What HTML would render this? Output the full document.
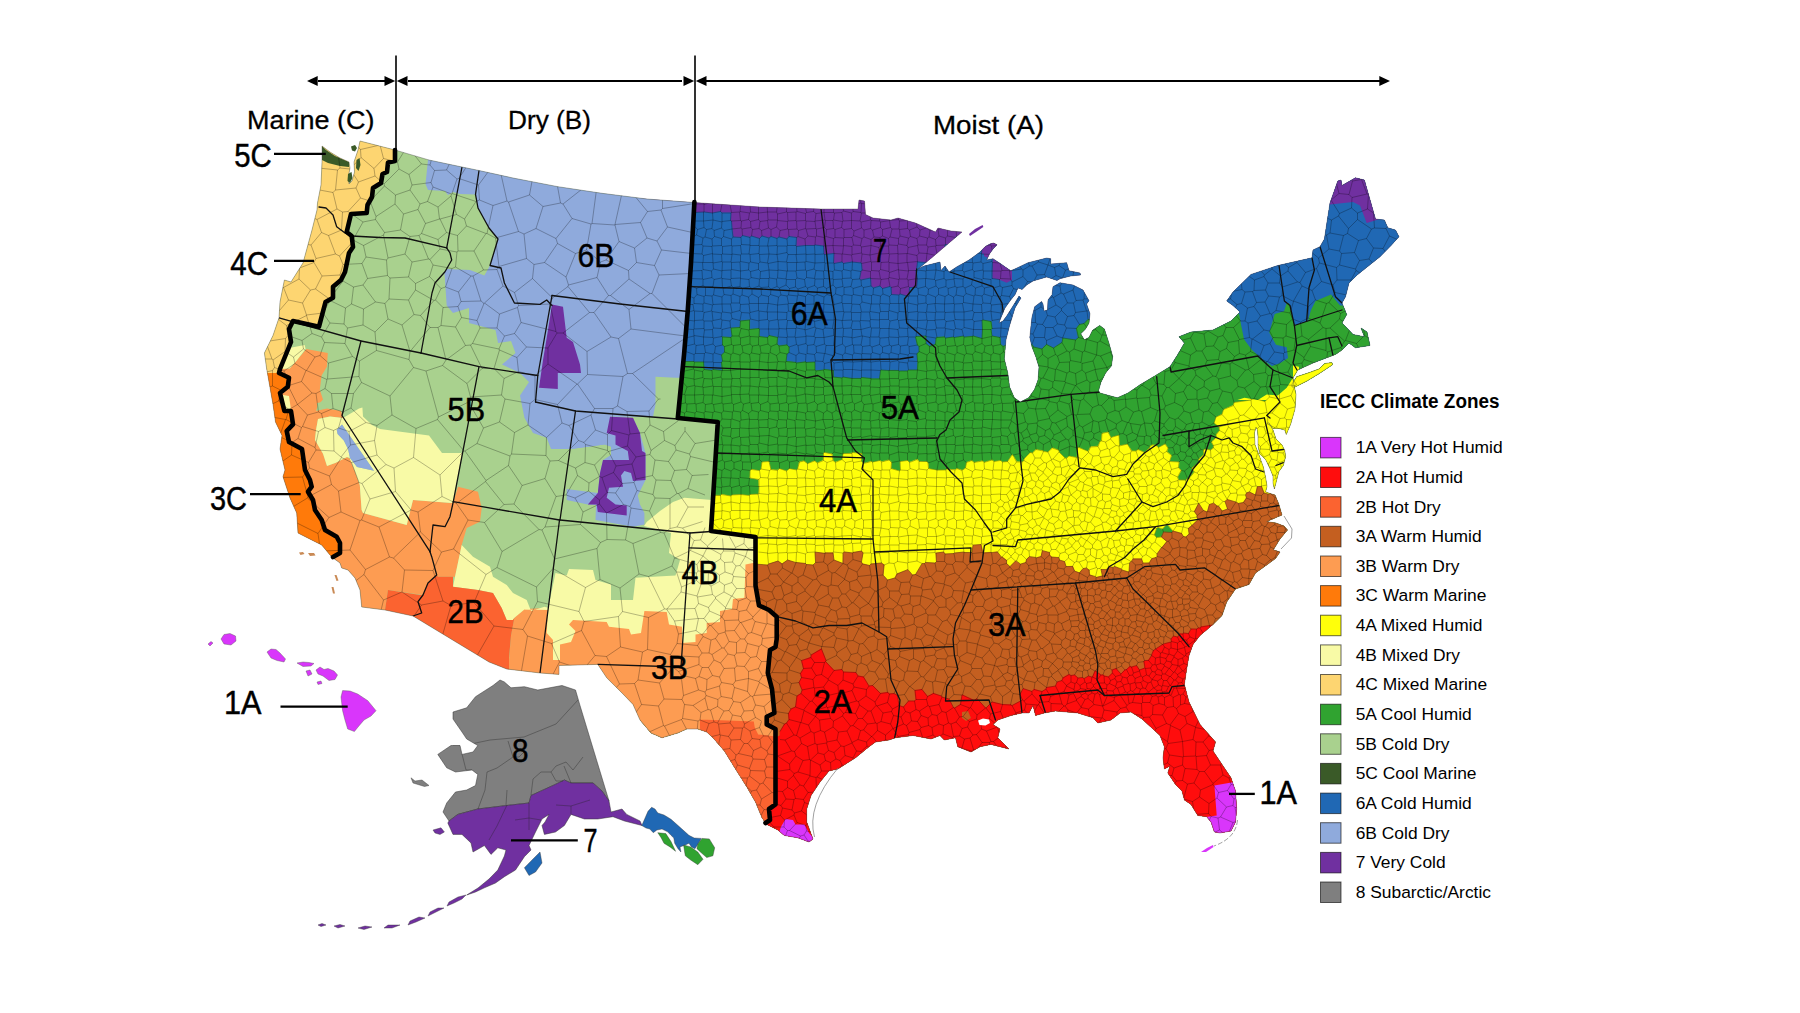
<!DOCTYPE html><html><head><meta charset="utf-8"><title>IECC Climate Zones</title>
<style>html,body{margin:0;padding:0;background:#fff}svg{display:block}text{font-family:"Liberation Sans",sans-serif;fill:#000}</style></head><body>
<svg width="1800" height="1013" viewBox="0 0 1800 1013">
<rect width="1800" height="1013" fill="#fff"/>
<defs><clipPath id="us"><path d="M360 141L395 150L429 160L462 167L479 170.5L513 178L558 186.7L602 193.3L647 199L694 202.5L760 207L821 209L858 209L859 200L864.5 201L865.5 214.5L873 218L891 220L898 218L915.5 223L935.5 232L938 228L951 231L962 232L949 243L933 256.7L918 269L924 266L934 263.5L940 262L941 270.5L945 266L949 272L957 266.7L969 260L980 252L985 246.7L990 244L993.5 243L997 244.7L993 249L989 254.7L986.7 260L993 258.7L1001 264L1010.7 270.7L1017 268L1028 262.7L1046.7 258L1050.7 258.7L1050.7 264L1066.7 262.7L1069 270.7L1080 273L1080.7 275L1070.7 276L1060 278.7L1057 280.5L1046.7 277L1033 281L1026.7 285L1022 289.5L1018 288L1015 294.7L1010.7 300L1005 308L1000 320L999 323L1003 321L1006.7 316L1013 306L1019 296L1021 298L1015 308L1009.6 325.5L1006 339.8L1004.3 358.7L1007.8 373L1009.6 387L1014.4 397.8L1020.3 402L1028.6 397.8L1034.5 389.5L1038 380L1039 367L1035.7 356.4L1032 346.9L1029.8 337.4L1031 325.5L1032 317L1034.7 306.7L1041.6 301.5L1043 304L1044 311L1047.5 310L1048 300L1052 294.7L1053 286.7L1060 282.7L1073 285L1083 290L1089 300.7L1086.6 304L1090 313.7L1089 323L1085.5 329L1080.7 333.8L1084.3 339.8L1089 337.4L1092.6 330.3L1099.7 325.5L1104.4 329L1109 343.3L1112.7 356.4L1111.5 365.8L1105.6 373L1100.9 382.4L1098.5 390.7L1100 393L1109 395.5L1117.4 397.8L1128 393L1140 384.8L1155.5 375.5L1170 366.7L1177.8 354.4L1184.4 343L1179 336.7L1191 332L1213 330L1231 321L1240 312L1233 305.5L1226.7 301L1233 292L1251 274.4L1277.8 265.5L1312 257.8L1313 250L1320 246.7L1324.4 239L1327.8 216.7L1330 203L1337.8 181L1341 180L1342 185.5L1355.5 177.8L1364.4 180L1375.5 219L1384.4 220L1387.8 227.8L1395.5 230L1399 236.7L1391 245.5L1380 256.7L1369 265.5L1357.8 274.4L1349 283L1345.5 296.7L1342 303L1346.7 314.4L1342 323L1346.7 327.8L1353 334.4L1364.4 336.7L1361 328L1367 332L1370 345.5L1355.5 347.8L1349 343L1342 350L1335.5 354.4L1313 363L1297.8 370L1293 377.8L1293.7 384L1296 394.4L1295 409L1290.7 424L1286.3 434.4L1284.8 430L1279 428.5L1273 428.5L1268.5 422.6L1273 430L1276 439L1281.9 444.8L1284.8 450.7L1285.6 456.7L1283.3 465.6L1278.9 471.5L1275.9 483L1274.4 489L1273 483L1273 476L1270 468.5L1265.6 459.6L1259.6 453.7L1258 444.8L1258 436L1257.4 430L1256 427L1254.4 433L1255 444.8L1259.6 456.7L1263.3 467L1265.6 477.4L1267 486.3L1265.6 492L1270 493.5L1275 495L1278.8 504L1282 515L1275 518L1266.8 521.6L1276 523L1284 526L1287.5 530L1280 539L1273.4 549.8L1280 552L1275.5 558.5L1266.7 565L1255.5 573L1249 584.4L1235.5 589L1226.7 602L1222 615.5L1213 624.4L1200 635.5L1193 644.4L1189 655.5L1186.7 669L1184.4 684.4L1189 702L1200 724.4L1215.5 742L1213 751L1222 764.4L1231 777.8L1235.5 791L1236.7 809L1235.5 822L1231 831L1220 833L1214.4 832L1211 822L1206.7 816.7L1197.8 815.5L1191 804.4L1184.4 800L1182 791L1175.5 784.4L1171 777.8L1167.8 773L1170 766L1164.4 769L1163 757.8L1164.4 746.7L1160 735.5L1153 729L1142 719L1131 712L1120 713L1111 720L1097.8 723L1093 717.8L1077.8 713L1055.5 711L1044.4 713L1035.5 715.5L1033 705.5L1029 713L1022 713L1011 715.5L997.8 720L993 724.4L1000 729L997.8 737.8L1009 749L991 744.4L980 746.7L971 752L957.8 746.7L955.5 737.8L944.4 740L940 735.5L931 739L913 735.5L895.5 737.8L889 740L875.5 742L869 746.7L855.5 757.8L837.8 769L829 771L820 782L811 795.5L806.7 809L806.7 822L813 839L809 842L797.8 837.8L784.4 835.5L777.8 830L766.7 824.4L762 817.8L755.5 802L746.7 786.7L735.5 769L724.4 751L713 737.8L706.7 732L697.8 729L686.7 729L677.8 733L662 737.8L651 733L640 720L633 704.4L622 693L606.7 677.8L597.8 664.4L559 665.5L559 674.4L540 673L506.7 669L489 662L413 616L385 610L361.7 607L360 590L355 578L348 570L341.7 568L340 563L333 558L330 555L321.7 545L311.7 540L298 533L296.7 513L290 498L283 476.7L285 470L280 449L282 435.5L275.5 422L273 404.4L266.7 369L264.4 353L273 335.5L279 317.8L280 302L284.4 280L291 282L303 263L312 230L317 210L317.5 203L321 185L322 162L322 146L330 152L340 158L349 162L350 168L348.5 176L349 184L352 181L354.5 172L354 162L358 150Z M1292 384L1296.7 376.7L1308 373L1319 369L1324.8 363.5L1332 362.6L1332.5 364.8L1319 373.7L1307 381L1295 387L1292 387Z"/></clipPath>
<clipPath id="west"><path d="M694.4 202L691 263L687.8 310L684 355L677.8 418L717.8 422L711 531L755.5 537L755.5 585.5L759 605.5L769 610L776.7 616.7L776.7 639L775.5 647L770 650L767.8 673L772 689L774.4 713L766.7 716.7L766.7 724.4L775.5 729L775.5 804.4L769 809L770 820L765.5 823L765 1000L150 1000L150 100L694.4 100Z"/></clipPath>
</defs>
<g clip-path="url(#us)">
<rect x="640" y="100" width="820" height="900" fill="#7030a0"/>
<path d="M640 213L696.7 213L733 215.5L733 234L760 237.8L796.7 239L796.7 244.4L825.5 244.4L831 260L857.8 260L860 279L875.5 283L889 285.5L897.8 296.7L904.4 296.7L906.7 287.8L915.5 283L916.7 269L922 266L933 258L949 245L963 233.5L972 228L985 236L985 150L1450 150L1450 1000L640 1000Z" fill="#2068b4" />
<path d="M640 365.5L684.4 365.5L722 366.7L722 349L729 330L746.7 323L760 336.7L771 337.8L789 352L790 357.8L814.4 359L816.7 369L831 369L833 374.4L902 374.4L904.4 366.7L913 365.5L914.4 350L920 349L920 339L933 344L953 336.5L985 334.7L985.3 324.4L995.4 324.4L999 342L1000 348L1006 346.9L1031 345.7L1032 348L1041.6 354L1050 351.6L1051 348L1067.7 345.7L1072.4 337.4L1078.3 332.7L1081 334L1084 326L1090 321L1150 290L1225 290L1225 318L1239 313L1241.3 326L1244 339.3L1252 350L1264 360.7L1272 366L1280 363.3L1288 358L1286.7 347.3L1276 344.7L1269.3 332.7L1274.7 314L1284 311.3L1286.7 303.3L1289 303L1294.4 325.5L1307.8 321L1311 310L1315.5 301L1331 294.4L1340 305.5L1450 305L1450 1000L640 1000Z" fill="#30a330" />
<path d="M640 499L716.7 499L742 499L743 491L754.4 490L755.5 466.7L813 465.5L815.5 457.8L864.4 456.7L866 463L886.7 462L895.5 467.8L900 464.4L933 464.4L937.8 473L953 472L955.5 467.8L977.8 465.5L984.4 457.8L991 463L1006.7 459L1020 460L1020 455.5L1033 455L1033 449L1057.8 449L1060 453L1077.8 453L1089 449L1093 444.4L1104.4 444L1104.4 435.5L1115.5 434.4L1117.8 444.4L1133 446.7L1142 451L1151 446.7L1160 443L1166.7 449L1173 460L1177.8 473L1180 481L1189 482L1193 469L1204.4 455.5L1213 437.8L1216.7 429L1220 413L1231 402L1244.4 397.8L1257.8 400L1266.7 394.4L1277.8 395.5L1286.7 387.8L1293 377.8L1293 365.5L1299 366.7L1299 374L1313 368L1335 358L1450 358L1450 1000L640 1000Z" fill="#ffff0a" />
<path d="M640 561L756.7 561L762 567.8L771 561L811 560L813 551L826.7 551L833 559L844.4 559L849 551L864.4 551L866.7 561L873 561L877.8 571L917.8 571L924.4 566.7L935.5 565.5L940 556.7L962 554.4L971 545.5L982 547.8L984.4 554.4L1002 556.7L1006.7 563L1022 563L1029 559L1037.8 556.7L1044.4 546.7L1051 554.4L1060 556.7L1069 567.8L1077.8 572L1084.4 569L1089 577.7L1102 576.7L1106.7 569L1124.4 571L1137.8 562L1146.7 560L1151 553L1162 553L1164.4 544.4L1164.4 533L1173 531L1177.8 535.5L1189 529L1197.8 517.8L1197.8 509L1209 504.4L1222 509L1231 502L1244.4 504.4L1251 493L1264.4 491L1275 490L1300 488L1450 488L1450 1000L640 1000Z" fill="#c45f20" />
<path d="M640 737L776 737L779 736L790 725.6L798 706L794 693L800 686.7L800 675.5L806.7 671L809 651L829 650L831 666.7L842 675.5L864.4 673L865.5 689L875.5 693L886.7 700L899 700L900 706.7L915.5 705.5L916.7 693L929 691L937.8 695.5L944.4 702L989 701L993 706.7L995.5 700L1020 699L1022 693L1037.8 691L1060 686.7L1062 680L1089 673L1102 675.5L1120 671L1122 665.5L1133 669L1144.4 666.7L1146.7 660L1155.5 655.5L1155.5 646.7L1169 644.4L1175.5 637.8L1182 635.5L1184.4 631L1195.5 631L1210 628L1450 628L1450 1000L640 1000Z" fill="#ff0d0d" />
<path d="M1154 527L1171 528.5L1169 533L1158 535L1154 540L1150 538Z" fill="#30a330" />
<path d="M1141 545L1147 543L1148 549L1143 551Z" fill="#30a330" />
<path d="M962 712L968 711L971 718L966 721L962 718Z" fill="#c45f20" />
<path d="M1214.4 785.5L1245 780L1245 845L1200 845L1206 817L1216.7 815.5Z" fill="#d936fb" />
<path d="M781 826.7L785.5 819L793 820L795.5 824.4L804.4 824.4L809 833L820 845L775 845Z" fill="#d936fb" />
<path d="M992.7 258.7L1001 264L1012 270.7L1012 280L1006.7 282.7L993.3 277.3Z" fill="#7030a0" />
<path d="M984 248L986 244L992 240L1000 242L997 247L990.7 251L988 258L984 256Z" fill="#7030a0" />
<path d="M1320 204.4L1330 204.4L1353 202L1360 205.5L1366.7 223L1380 219L1380 170L1320 170Z" fill="#7030a0" />
<path d="M1334 179.7L1326.8 200.1L1330.8 200.1L1339 193.3L1348.8 194.6L1351.8 197.6L1351.7 207.8L1357.5 213.1L1357.7 219.6L1371.7 229.2L1374.4 227.8L1373.4 212.8L1382.8 208L1378.4 192.5L1372.5 193.8L1368.3 178.9L1367.6 177.5L1366.7 176.7L1365.7 176.2L1355.7 173.8L1353.9 174.1L1348.6 177.1L1341.3 170L1340.3 170L1338 170.5L1333.3 172.1L1334.9 178.2ZM1010.4 279.2L1009.7 270.8L1009.5 270.6L1001.8 270.4L1000 262.8L992.5 262.4L992.2 271L992.1 271.2L992.2 278.5L999.3 279.6L1000.3 278.6ZM1000.9 243.8L1000.5 242.7L999.4 241.5L995.3 239.4L993.6 239L991.6 239.4L990.7 245.1L982 246L981.5 253.7L981.6 254L991.6 254.7L992.4 253.6L991.6 246.2L1000.9 245.5ZM742.6 201.8L721.4 200.4L721.1 194.3L712.1 193.7L711.5 199.7L703 199.1L701.7 193L694.4 192.5L694.4 204L693.8 212.6L703.6 212.2L703.9 211.9L712.5 213.2L712.7 213L720.5 211.4L721.9 212.8L731 212.8L730.4 220.3L731.3 221.2L733.2 237L740.8 237.4L742.4 235.6L750.2 237.3L751.6 236.2L759.4 238.7L762 235.9L768.9 237.8L771.2 236.6L776.8 238.3L778.9 237L786.8 238.9L788.9 236.3L796.6 237.5L796.1 245.7L796.7 246.3L805.5 245.6L805.7 245.4L814.4 245.4L814.8 245L823.7 246L823.8 253.9L824.6 254.7L833.8 253.4L833.5 263.2L833.9 263.6L842.1 262L843.5 263.3L852.3 261.8L852.7 262.2L860.8 262.8L861.5 263.5L862.2 269.9L860.7 271.3L859.7 278.9L860.8 280L870.4 278L870.7 278.4L871 285.9L873.4 287.8L879.8 286L882.7 288.7L890 286.5L891.1 287.3L891.5 294.6L899 294.9L900 293.9L908.5 296.6L909 296L909.7 287.5L916.7 287.5L917.6 278.9L917.3 278.6L915.8 270.6L916.6 269.8L917.5 261.8L926.1 262.5L935.7 262.2L935.9 262L935.9 255.6L937 254.2L945.3 253.8L944.9 245.1L945.4 244.5L953.7 245.5L955.3 237.5L956.7 236.6L961.4 237.8L965.1 234.5L965.7 233.5L966 232.3L965.9 231.2L965.5 230.1L964.8 229.1L963.9 228.4L962.4 228L956.2 227.4L955.9 221.4L951.3 220.8L947.5 226.1L938.1 224L936.6 224.2L935.2 225.2L934.7 218.6L932.5 219.7L921.6 214.8L918 219.7L907.8 216.6L908.1 210.5L899.6 208.1L896.4 208.1L890.1 209.8L875.7 208.2L875 207.9L874.8 204.6L868.8 204.1L868.4 199.9L867.9 198.8L867 197.9L865.6 197.1L859.7 196.1L858.6 196L857.4 196.3L856.5 196.9L855.7 197.8L855.1 199.2L854.3 205L852.5 205L846.9 199L821.2 199L815.1 198.8L814.3 204.8L805.1 204.5L804.1 198.4L760.5 197L747.5 196.1Z" fill="#7030a0" stroke="#7030a0" stroke-width="0.6" fill-rule="evenodd"/>
<path d="M1225.4 285.5L1218.5 295.3L1217.3 297.6L1216.7 300.1L1216.8 302L1217.3 304.3L1218.4 306.6L1220.3 308.7L1225.5 312.4L1223.5 313.6L1233.1 312L1240.3 321.2L1245.1 321.1L1248.1 323.2L1249.3 337.5L1251.8 339.1L1250.5 351.7L1260 356.3L1261.3 359.1L1266.5 361.7L1267.3 361.5L1277.1 365.3L1284.2 358.8L1283.5 353.7L1284.6 352.3L1283 338.2L1273 337.7L1269.6 330.9L1274.1 322.6L1271.4 314L1276.2 310.6L1290.1 313.1L1292.3 319.2L1300.7 321.8L1307.9 317.9L1308.4 306.3L1315.3 300.1L1326.4 303.4L1329 302.6L1340.3 313.3L1354.1 306L1353.1 303.6L1355 299.8L1358 288.2L1364.4 281.9L1386.2 264.5L1391 259.8L1387.5 254.8L1394 248.2L1402.2 239.1L1402.9 237.6L1402.9 235.6L1399.1 228.1L1398.3 227.2L1397 226.3L1390.7 224.5L1390.2 223.2L1394.3 217.6L1392.5 214.1L1391.2 212.7L1389.7 211.5L1387.1 210.4L1383.3 209.8L1382.8 208L1373.4 212.8L1374.3 227.8L1371.7 229.2L1357.7 219.6L1357.6 213.1L1351.7 207.8L1351.8 197.6L1348.8 194.6L1339 193.3L1330.8 200.1L1320.5 200L1314.8 235.7L1312.9 239L1307.6 241.6L1305.3 243.6L1303.6 246.5L1303 249.6L1273.9 256.2L1273 262.9L1258.4 267.7L1254.2 262.8L1246.8 265.3L1244.5 266.8L1239.7 271.4L1240.6 278.9L1229.9 289.5ZM691 262.1L687.6 312.3L683.3 361.5L694 361.6L694.4 362.1L703.5 361.9L704.2 369.6L712 370.4L712.8 369.5L722.3 370.6L721.4 362.5L722.6 361.2L721.5 354.9L724.6 352.2L724.3 346.5L722.5 345L722.3 336.8L730.8 337.5L732.1 336L731 328.2L740.2 327.4L740.5 321L749.7 320L749.5 329.3L758.9 328.4L759.3 328.9L759.2 336.3L767.5 337.6L769.1 335.6L777.7 337.4L777 344.2L779.2 345.8L786.8 344.9L789.2 347.1L788.8 352.4L786.8 354.2L786.1 361.3L795.9 362.3L796.4 363L805.3 361.8L805.9 362.4L814.7 362.2L815 370L815.8 370.8L823.4 370.1L824.1 369.3L833.3 370.6L833.5 377.2L842.2 377.9L842.9 377.2L851.9 378.4L861 378.4L861.7 377.6L870.9 378.4L871.2 378.8L879.6 378.8L880.8 370.2L889.2 370.7L889.7 370.3L898.3 370.5L898.9 371.1L907.7 371L908.3 370.2L917.3 370L917.9 361.9L917.2 353.8L919.1 351.5L919 346.4L917.4 345.1L915.6 337L916 336.6L926.1 336.2L925.8 343.7L929.5 346.3L935.4 344.3L936.2 337.9L936.8 337.3L944.3 336.8L945.6 338.2L953.5 337.1L954.2 337.8L963.3 336.3L964.2 337.2L972.4 336.3L972.8 335.9L982 338.5L982.2 338.3L982.5 329.3L982.2 320.7L982.8 320.1L991.2 321.5L992.1 328.3L991.2 329.6L991.8 336.1L1000.2 337.5L1000.6 344.3L1003.2 346.3L1016 341L1019.2 328.2L1021.5 321L1019.8 337.2L1020 339.3L1020.9 343.1L1032.1 344.6L1033.7 346.9L1041.8 349L1046.5 344.4L1053.4 348L1062.2 342.4L1062.8 338.2L1075.7 339.9L1078.4 337.6L1076.3 328.5L1079.3 324.5L1084.1 323.7L1088.1 319.4L1096.8 321L1105 317L1102.5 315.9L1099.9 315.5L1100 313.3L1099.8 311.5L1097.7 305.6L1098.5 303.8L1098.9 301.9L1098.9 299.7L1098.6 297.8L1097.7 295.8L1091.4 284.5L1090.1 283L1088.3 281.5L1089.6 279.5L1083.7 278.7L1083.4 277.9L1084.4 276.4L1084.7 274.5L1083.6 271.3L1082.3 269.7L1080.8 269.1L1072.2 267.3L1070.5 261.5L1072.2 254.3L1070 253.3L1067.6 252.7L1059.1 253.3L1057.9 251.8L1056.4 250.5L1054.6 249.5L1053.1 249L1051.2 254.7L1046.1 254L1038.1 256L1037.8 249.9L1024.3 253.4L1011.8 259.3L1002.8 253.2L1004.8 251L1005.8 249.4L1006.6 247.5L1007 245.1L991.5 246.2L992.4 253.6L991.6 254.7L981.6 253.9L981.5 253.7L982 246L990.7 245.1L992.6 233L986.5 234.6L979.6 238.3L978 239.6L973.4 244.5L963.6 251.6L951.5 258.4L950.1 257.4L948.5 256.6L968.6 239.5L956.7 236.6L955.3 237.5L953.7 245.4L945.4 244.5L944.9 245.1L945.3 253.8L937 254.2L935.9 255.6L935.7 262.2L926.1 262.5L917.5 261.8L916.6 269.8L915.8 270.6L917.3 278.6L917.5 278.9L916.7 287.4L909.6 287.5L909 296L908.5 296.6L900 293.9L899 294.9L891.5 294.5L891.1 287.3L890 286.5L882.7 288.7L879.8 286L873.4 287.8L871.1 285.9L870.7 278.4L870.4 278L860.8 279.9L859.7 278.9L860.8 271.4L862.2 269.9L861.5 263.5L860.9 262.7L852.7 262.2L852.3 261.8L843.5 263.3L842.1 261.9L833.9 263.5L833.5 263.2L833.8 253.4L824.6 254.6L823.9 253.9L823.7 245.9L814.8 245L814.4 245.4L805.7 245.4L805.5 245.6L796.7 246.3L796.1 245.7L796.6 237.5L788.9 236.3L786.7 238.9L778.9 236.9L776.8 238.3L771.2 236.5L768.9 237.8L762 235.9L759.4 238.6L751.6 236.1L750.2 237.2L742.4 235.6L740.8 237.4L733.2 236.9L731.3 221.2L730.5 220.3L731 212.8L721.9 212.8L720.5 211.4L712.7 213L712.5 213.2L703.9 211.9L703.6 212.2L693.8 212.6ZM992.2 271L992.5 262.4L1000 262.8L1001.8 270.4L1009.5 270.6L1009.7 270.8L1010.4 279.2L1000.3 278.5L999.3 279.6L992.2 278.5L992.1 271.2ZM1030.9 297L1030.6 295.1L1032.9 292.9L1037.2 290.2L1042.7 288.6L1042.4 290.8L1041.9 291.5L1039.9 291.7L1037.6 292.4L1035.8 293.3Z" fill="#2068b4" stroke="#2068b4" stroke-width="0.6" fill-rule="evenodd"/>
<path d="M721.5 354.9L722.6 361.2L721.4 362.5L722.2 370.7L712.8 369.5L712 370.4L704.3 369.6L703.5 361.9L694.4 362L694 361.6L683.4 361.5L677.2 424L680.6 424.3L684.3 418.7L703.2 420.5L704.4 418.6L712.1 419L713.9 421.6L720.2 422.3L721 424.8L717.4 427.6L717.1 433.3L721.7 434.9L721.9 435.5L721.6 436.3L716.8 438.6L713.2 495.4L720.5 495.5L721.6 494.3L731.1 496.1L732 495L741 494.7L749.3 495.5L750.2 494.6L758.2 494.2L758.9 493.4L759.1 486.6L759 486.3L758.8 479.5L750 477.9L750.2 470.7L751.5 469.3L759.4 470.7L761.1 469L762 462.1L768.9 461.4L770.8 469.4L777.3 470.3L779.5 468.7L786.7 471L789.5 468.7L796.6 470L797.7 469L799.3 461.9L804 460.9L807.5 463.7L814.5 460.8L817.3 463L823.3 460.3L823.5 453.3L824.3 452.6L832.2 454L833.2 460.7L835.3 462.3L842.2 459.7L843.2 453.7L851.8 453.3L852.4 452.5L861.9 453.6L861.3 461.2L863.5 463.4L871.4 461.3L872.7 462.2L880 460.6L881.7 461.8L889.2 459.9L891.4 462.3L891 468.6L899.5 471.1L900.6 470.2L900.1 461.7L907.4 460.6L909.5 462.4L917.2 459.3L919.2 461.6L927 461.7L928.2 463.1L928.3 468.5L936.8 470.2L945.8 470.1L946.6 469L955.1 469.8L956.8 468.5L962.2 470.3L965.6 468L966.6 462.3L971.8 460.5L974.1 462.4L982.5 460.8L983.9 462.4L992.1 459.9L994.2 461.5L1000.6 460.4L1002.4 462.1L1007.5 461.7L1012 454.8L1012.9 455.1L1016.7 461.8L1022.2 462L1024 460.7L1024.1 459L1030.2 452.6L1032.3 453.1L1036 449.5L1043.1 450.8L1043.4 451.3L1047.8 452.2L1052.3 447.8L1058.2 449.9L1059 450.9L1059 452.1L1065 458.1L1066.3 458.4L1069.1 456.1L1076.3 457.4L1077.3 457L1077.5 448L1079 447.4L1088.3 451.6L1090.5 446.8L1098.1 446.3L1099.9 441.6L1101.4 440.8L1102 433.3L1108.2 432L1110.8 437.5L1118.9 435.2L1119.4 445.8L1127.4 444.2L1131.7 451L1136.1 451L1138.2 449.6L1144.6 452.4L1149.5 448.1L1150 446.3L1152.1 444.8L1155.7 445.3L1158.6 447.7L1165.2 443.9L1168 448.2L1166.7 451.6L1171.7 455.4L1169.4 461.4L1179 462.2L1178.6 467.4L1181.2 470.6L1177.7 476.9L1178.6 480.1L1185.7 480.2L1187.5 478.5L1189.1 478.3L1194.3 471.9L1191.7 468.2L1199.6 462.3L1198.7 460.1L1198.9 458.8L1203.9 454.6L1203.4 450.2L1204.9 449.1L1210.5 450.2L1213.3 448L1213.6 445.5L1211.4 442L1216.7 437.2L1216.1 434.8L1219.6 430.6L1219.2 427L1214.2 423.1L1216.2 417.1L1222 414.3L1223.7 409.5L1233.4 405.3L1234.3 402.5L1251.2 400.2L1251.5 399.7L1254.2 398.6L1265 401.7L1269.4 397.1L1279.3 398.8L1279.3 385.7L1280.3 384.6L1294.8 385.6L1296.5 384.5L1287.9 371.8L1291.2 364.8L1301.8 363L1303.9 359.7L1326.2 366.3L1327.6 352.1L1341.1 347.4L1347.2 358.5L1350 356.1L1351.5 357L1353.4 357.6L1355.4 357.8L1357.1 357.7L1362.8 356.8L1360.2 351.1L1371.4 349.3L1372.7 348.5L1373.4 347.6L1373.9 346.5L1374 345.4L1370.9 331.1L1370.5 330.1L1369.5 328.9L1363.3 324.7L1363 322.9L1365.5 319.1L1363.3 318.3L1360.4 318L1357.5 318.6L1355.1 320L1356.3 317.1L1356.7 313.8L1356.2 311.2L1354.1 306L1340.3 313.3L1329.1 302.6L1326.4 303.4L1315.3 300.1L1308.4 306.3L1307.9 317.9L1300.7 321.8L1292.3 319.2L1290.2 313.1L1276.2 310.6L1271.4 313.9L1274.1 322.6L1269.6 330.9L1272.9 337.7L1283 338.2L1284.6 352.3L1283.5 353.7L1284.2 358.8L1277.1 365.3L1267.3 361.5L1266.5 361.7L1261.3 359L1260 356.2L1250.5 351.7L1251.8 339.1L1249.3 337.5L1248.1 323.2L1245.1 321.1L1240.3 321.2L1233.1 312L1223.6 313.5L1210.2 320.2L1188.9 322.2L1173.8 328.1L1172.2 329.3L1170.6 331.3L1169.7 333.1L1169.1 335.5L1169.1 338.1L1169.6 340L1170.6 342.2L1172.2 344.1L1169.2 349.2L1162.8 359.4L1134.7 376.3L1123.1 384.3L1116.6 387.2L1110.5 385.5L1114 378.5L1119.4 371.9L1120.8 369.5L1121.4 367.3L1122.6 357.7L1122.6 355L1118.6 340.3L1113.4 324.7L1112.3 322.9L1110.9 321.4L1105 317L1096.8 321L1088.1 319.3L1084.1 323.7L1079.3 324.5L1076.3 328.5L1078.4 337.6L1075.7 339.9L1062.7 338.2L1062.1 342.4L1053.4 348L1046.5 344.4L1041.8 349L1033.7 346.9L1032.1 344.5L1020.8 343.1L1022.5 350.1L1026.3 359.7L1028.9 368.1L1028.1 377.8L1025.6 384.8L1021.9 390L1019.3 384.3L1017.6 371L1014.4 357.9L1016 341L1003.2 346.3L1000.6 344.3L1000.2 337.5L991.8 336.1L991.2 329.6L992.1 328.3L991.2 321.5L982.8 320.1L982.2 320.6L982.5 329.3L982 338.5L972.8 335.9L972.4 336.3L964.2 337.2L963.3 336.2L954.2 337.7L953.5 337.1L945.6 338.2L944.3 336.8L936.8 337.3L936.2 337.9L935.4 344.3L929.5 346.2L925.8 343.7L926.1 336.2L916 336.5L915.5 337L917.3 345.1L919 346.4L919.1 351.5L917.1 353.7L917.8 361.9L917.3 370L908.3 370.1L907.7 371L898.9 371.1L898.3 370.5L889.7 370.3L889.2 370.7L880.8 370.1L879.5 378.8L871.2 378.7L870.9 378.4L861.7 377.6L861 378.4L851.9 378.4L842.9 377.2L842.2 377.9L833.5 377.1L833.3 370.6L824.1 369.3L823.4 370L815.9 370.8L815 370L814.8 362.1L805.9 362.4L805.3 361.7L796.4 363L795.9 362.3L786.1 361.3L786.8 354.2L788.8 352.4L789.2 347.1L786.8 344.8L779.2 345.7L777.1 344.2L777.7 337.3L769.1 335.6L767.5 337.6L759.3 336.3L759.4 328.9L758.9 328.4L749.5 329.3L749.7 320L740.4 320.9L740.1 327.3L730.9 328.1L732.1 336L730.8 337.5L722.3 336.8L722.5 345L724.3 346.5L724.6 352.2ZM1171.9 532.8L1172.9 531L1167 524.1L1162.4 529.1L1158 527.4L1156.6 528.3L1154.3 534.8L1156.4 537.7L1161.4 536.9L1163.7 531.9Z" fill="#30a330" stroke="#30a330" stroke-width="0.6" fill-rule="evenodd"/>
<path d="M769.1 461.6L768.9 461.4L762 462.1L761.1 469L759.4 470.7L751.5 469.3L750.2 470.7L749.9 477.9L758.7 479.5L758.9 486.3L759.1 486.6L758.8 493.4L758.2 494.2L750.2 494.5L749.3 495.5L741 494.6L732 495L731 496.1L721.5 494.3L720.5 495.4L713.2 495.3L711.6 521.7L705 530.2L747.1 535.9L750.9 535.2L752.5 536.6L757.4 537.3L759.2 544L758 546.5L758.7 552.2L755.5 556L755.5 564.2L767.7 565.2L768.6 564L778 561.1L782.1 563.8L787.7 560.1L795.9 562.7L796.2 562.5L805.5 563.6L806.6 564.6L813 565L815.7 562.7L815 552.2L824.8 553.3L825.2 552.8L833.1 552.9L833.9 560.1L842.9 563.5L843.1 553.2L844.2 551.9L852.4 552.9L852.9 552.4L861.5 551.1L863 552.9L861.3 561.9L862.6 563.8L869.3 565.5L871.1 564L881.4 563L884.1 564.8L883.1 575.2L887.5 580.1L895.1 577.9L896.8 573.9L907.8 569.7L912.3 575.1L915.6 574.6L922.1 563.7L924.4 563.5L925.7 562.4L935 563.1L936.4 561.7L935.8 553.1L943.7 552.1L945.2 553.9L954 553.7L954.3 553.1L963.8 552.1L964.1 552.4L971.9 552.7L973.2 545.2L981.1 544.6L982.9 552.8L991.2 552.4L991.5 552.7L997.3 551.8L1001.3 557.2L1002.1 557L1006.7 560.3L1006.6 563.6L1009.9 566.7L1015.6 561.2L1016.3 561.2L1020.4 564.2L1025.8 562.5L1026.6 559.3L1029.3 556.7L1035.3 557.5L1035.8 557.9L1041.1 556.5L1042.3 550.7L1049.6 552.6L1049.7 555L1051.6 557.1L1058.8 557.7L1059.6 560.2L1064.5 561.6L1066 566.7L1072.7 566.4L1074.6 571.2L1079.3 572.8L1083 568.7L1086.2 568L1089.2 570L1089.7 574.8L1095.3 576.7L1095.8 577.5L1102.4 575.8L1101.2 569.4L1106.3 569.7L1109.1 566.7L1113.2 567.4L1114.6 566.4L1121.6 569.2L1121.8 569.9L1128.3 571.9L1129.2 571L1129.7 563.1L1131.1 561.4L1131.6 561.3L1133.1 558.8L1141.5 558.9L1143 563.2L1149.2 562.9L1151.8 558.7L1156.2 557.4L1157.2 556.3L1157.2 553.9L1161.4 547.7L1161.9 547.6L1166.9 541.4L1161.4 536.9L1156.4 537.7L1154.3 534.8L1156.6 528.3L1158 527.4L1162.4 529.1L1167 524.1L1172.9 531L1181.5 533.4L1183.3 536.6L1185.8 536.9L1189.2 533.8L1188.3 528.3L1192.2 525.3L1198.2 519.6L1196.9 517.2L1197 515.3L1194.4 511.4L1198.6 503.7L1198.9 503.8L1203.3 510.5L1207.1 511.8L1207.4 511.7L1209.4 504.5L1213.6 503.2L1217.2 505.9L1218.3 505.9L1222.2 511L1227.7 509L1225.1 501.4L1227.2 499.4L1236.2 502.2L1238.4 503.4L1243.3 502.4L1246.4 497.8L1245.7 495L1246.8 492.8L1249.3 491.9L1255.3 494.9L1257.3 486.7L1261.5 486.3L1264 493L1268.2 494.2L1270.4 493.3L1273.2 488.2L1275.6 488.2L1283.6 493.3L1285 493L1284.2 491.1L1288.1 475.9L1291.7 471L1292.9 468.4L1287.9 463.7L1289.5 457.7L1289.6 456.4L1295.3 453.5L1294.4 448L1292 442.6L1293.8 441L1295.2 438.9L1299.9 427.9L1304.9 410.4L1306 393.8L1303.6 382.4L1303.3 380.1L1304.7 377.8L1316.9 372.2L1339.8 363.4L1347.2 358.5L1341.1 347.4L1327.5 352.1L1326.2 366.3L1303.9 359.7L1301.7 363L1291.2 364.7L1287.8 371.8L1296.4 384.4L1294.8 385.5L1280.3 384.5L1279.3 385.7L1279.3 398.8L1269.4 397.1L1265 401.7L1254.2 398.6L1251.5 399.7L1251.2 400.2L1234.2 402.5L1233.4 405.3L1223.7 409.5L1222 414.3L1216.2 417.1L1214.2 423.1L1219.1 427L1219.6 430.6L1216 434.8L1216.7 437.2L1211.4 442L1213.5 445.5L1213.3 448L1210.5 450.1L1204.9 449.1L1203.4 450.2L1203.9 454.6L1198.9 458.8L1198.6 460.1L1199.6 462.3L1191.7 468.2L1194.3 471.9L1189.1 478.3L1187.5 478.4L1185.7 480.2L1178.6 480.1L1177.7 476.9L1181.2 470.6L1178.6 467.4L1179.1 462.1L1169.4 461.4L1171.7 455.4L1166.8 451.6L1168.1 448.2L1165.2 443.9L1158.6 447.6L1155.8 445.3L1152.1 444.8L1150 446.3L1149.5 448.1L1144.6 452.4L1138.2 449.6L1136.1 451L1131.8 450.9L1127.4 444.2L1119.5 445.8L1118.9 435.2L1110.9 437.5L1108.2 432L1102 433.3L1101.3 440.8L1099.9 441.5L1098.1 446.2L1090.5 446.8L1088.2 451.6L1079 447.4L1077.5 448L1077.3 457L1076.3 457.4L1069.1 456.1L1066.3 458.3L1065 458.1L1059 452.1L1059 450.9L1058.2 449.9L1052.3 447.8L1047.8 452.2L1043.4 451.3L1043.1 450.8L1036 449.5L1032.3 453.1L1030.2 452.6L1024.1 459L1024 460.7L1022.2 461.9L1016.7 461.7L1012.9 455.1L1012 454.8L1007.5 461.7L1002.4 462L1000.6 460.4L994.2 461.5L992.1 459.9L983.9 462.4L982.5 460.8L974.1 462.4L971.8 460.5L966.6 462.3L965.6 467.9L962.2 470.3L956.8 468.5L955.1 469.8L946.6 469L945.8 470.1L936.8 470.2L928.4 468.5L928.2 463.1L927 461.7L919.2 461.5L917.2 459.3L909.5 462.3L907.5 460.6L900.1 461.6L900.5 470.2L899.5 471.1L891 468.5L891.5 462.3L889.2 459.9L881.7 461.7L880 460.6L872.7 462.2L871.4 461.3L863.5 463.4L861.3 461.2L861.9 453.5L852.4 452.4L851.8 453.3L843.2 453.7L842.2 459.6L835.3 462.2L833.2 460.7L832.2 454L824.3 452.6L823.5 453.3L823.3 460.3L817.3 462.9L814.5 460.8L807.5 463.7L804 460.8L799.3 461.9L797.7 469L796.6 470L789.5 468.7L786.7 471L779.5 468.7L777.3 470.2L770.8 469.4Z" fill="#ffff0a" stroke="#ffff0a" stroke-width="0.6" fill-rule="evenodd"/>
<path d="M833.1 552.8L825.2 552.8L824.7 553.2L815 552.2L815.7 562.7L813 565L806.6 564.6L805.5 563.5L796.2 562.5L795.9 562.7L787.7 560.1L782.1 563.8L778 561.1L768.6 564L767.7 565.1L755.5 564.2L755.5 583.8L755.3 584.2L757.5 596.9L754.5 603.5L766.4 608.7L774.1 612.6L775.7 615.9L777.2 617.2L777.5 619L776.7 620.2L776.7 636.4L777.4 636.8L776.2 646.6L766.8 651.7L769.5 654.7L767.6 674.6L768.3 674.9L772.8 692.2L772.3 692.5L773.5 703.9L774.9 704.6L775.4 711.7L773.4 714.3L768.8 714.2L766.7 714.7L766.7 725.8L769.2 726.6L770.1 726.2L780 731.4L784.5 724L786.6 723.1L788.9 719.6L788.4 713.7L791 708.8L795.5 706.9L797 695.9L801 693.5L802.2 690.2L799.1 682.5L801.5 677.5L800.3 673.6L803.4 668.7L801.4 660.8L810.9 657.3L811.2 655.1L821.3 648.8L826 660.4L825.5 661.6L834.2 670.4L841.9 669.6L843.3 671.9L855.9 672.6L858.1 675.9L863.3 676.8L869 686.2L872.6 685.4L880.5 693.3L887.6 692.4L889.7 693.8L893.8 693.5L897.4 695.7L899 705.4L903.4 707L908.7 701L914.3 701.2L915.8 699.5L914.9 690.4L921.9 689.4L927.6 696.4L933.3 693.3L941.3 696.1L942 697.2L948.9 699L953.3 707.7L954.6 708.1L960.3 704.4L962 695.1L962.4 694.9L974.2 700.3L977 698.8L985.6 708.1L986 708.2L992.1 702L1002.5 704.5L1010.6 704.8L1012.2 705.7L1022.3 699.9L1020.1 694.3L1023.2 688.7L1031.9 691.4L1033.9 689.3L1042 691.6L1046.1 689L1046.6 687.5L1055.4 686.2L1057.2 682L1061.9 680.4L1062.8 677.9L1068.8 674.4L1071.2 675.5L1074.7 675.1L1078.1 678.1L1082.3 677.7L1084.2 678.7L1088.5 676.2L1092.1 677.2L1092.4 677.1L1095 671.1L1095.6 671.1L1101.2 675.1L1103.1 674.8L1104.2 675.8L1108.4 676.8L1112.3 673L1112.1 669.9L1116.1 668.5L1120.8 674.1L1124.9 669.8L1126.3 669.7L1129.9 666.4L1131.4 666.9L1136.7 665.8L1139.5 670.1L1144.9 668L1143.8 661.6L1144.5 660.7L1148.3 660.3L1151.8 655.7L1151.6 655L1153.4 650.4L1155.7 649.3L1162.6 644.5L1163 644.5L1163.5 644L1171.1 642L1171.4 641.6L1171 639.2L1173.3 636.2L1177.7 637L1180 633.8L1182.8 633.8L1183.6 633.2L1188.5 633.7L1191.2 628.9L1196.3 629.2L1198.3 628L1200 627.8L1201.2 626.8L1213.7 625L1222.1 629.5L1229.2 622.4L1230.6 620.7L1231.4 618.8L1235.7 606.5L1241.9 597.4L1252.5 593.8L1255.2 592.2L1257.5 589.6L1263.1 579.9L1276.5 570.2L1273.6 564.9L1278.5 561.1L1283.3 554.3L1283.8 553.2L1289.5 555.1L1290 552.5L1289.8 550L1289 547.8L1287.7 545.6L1290.7 541.8L1286 538L1291 531.9L1291.5 530L1291.1 528.3L1297.2 527.4L1296.5 525.7L1295.5 524L1291.2 519L1292 515.7L1291.8 512.9L1288.3 500.9L1285 493L1283.6 493.3L1275.6 488.1L1273.2 488.2L1270.4 493.3L1268.2 494.2L1264.1 493L1261.5 486.3L1257.3 486.7L1255.3 494.9L1249.3 491.9L1246.7 492.8L1245.7 495L1246.4 497.8L1243.3 502.4L1238.4 503.4L1236.2 502.2L1227.2 499.4L1225 501.4L1227.7 509L1222.2 511L1218.3 505.9L1217.2 505.9L1213.7 503.2L1209.4 504.5L1207.4 511.6L1207.1 511.8L1203.3 510.5L1198.9 503.7L1198.6 503.6L1194.3 511.4L1197 515.3L1196.9 517.2L1198.2 519.6L1192.1 525.3L1188.3 528.3L1189.2 533.8L1185.8 536.9L1183.3 536.6L1181.5 533.3L1172.9 531L1171.8 532.7L1163.7 531.9L1161.3 536.9L1166.8 541.4L1161.8 547.6L1161.4 547.7L1157.1 553.9L1157.2 556.3L1156.2 557.4L1151.7 558.7L1149.2 562.9L1143 563.2L1141.5 558.8L1133.1 558.8L1131.6 561.2L1131.1 561.4L1129.7 563.1L1129.2 571L1128.3 571.9L1121.8 569.9L1121.6 569.2L1114.6 566.4L1113.2 567.4L1109.1 566.6L1106.3 569.7L1101.1 569.4L1102.4 575.8L1095.8 577.5L1095.3 576.7L1089.7 574.8L1089.2 570L1086.3 568L1083 568.7L1079.3 572.8L1074.6 571.1L1072.7 566.3L1066 566.6L1064.5 561.6L1059.6 560.2L1058.8 557.7L1051.6 557.1L1049.7 555L1049.6 552.6L1042.3 550.7L1041.1 556.5L1035.8 557.9L1035.3 557.4L1029.3 556.7L1026.5 559.3L1025.7 562.5L1020.4 564.2L1016.3 561.2L1015.5 561.1L1009.9 566.7L1006.6 563.6L1006.7 560.3L1002.2 557L1001.3 557.2L997.3 551.8L991.5 552.7L991.2 552.3L982.9 552.8L981.1 544.6L973.1 545.2L971.9 552.7L964.1 552.4L963.9 552.1L954.3 553L954 553.6L945.2 553.9L943.7 552.1L935.8 553.1L936.4 561.6L935 563.1L925.6 562.4L924.4 563.5L922.1 563.7L915.6 574.5L912.3 575.1L907.8 569.7L896.8 573.9L895 577.9L887.5 580.1L883.1 575.2L884.2 564.8L881.4 563L871.1 563.9L869.3 565.4L862.6 563.8L861.3 561.9L863 552.9L861.5 551.1L852.8 552.4L852.4 552.9L844.2 551.9L843.1 553.2L842.9 563.4L833.9 560.1Z" fill="#c45f20" stroke="#c45f20" stroke-width="0.6" fill-rule="evenodd"/>
<path d="M800.3 673.6L801.5 677.5L799.1 682.5L802.1 690.2L800.9 693.5L797 695.9L795.5 706.9L791 708.8L788.4 713.7L788.9 719.6L786.6 723.1L784.5 724L780 731.4L780 739.3L775.5 742.3L775.5 801.7L776.1 804L768.9 809.1L767.4 811.8L770.3 817.6L769.7 821.8L765.5 823.9L765.5 835L772.3 838.4L778.6 843.6L781 844.9L793.3 847.2L796.8 841.7L807.6 845.8L808.8 846L810 845.9L811.1 845.4L815.6 842L822.2 842.8L823 839.7L822.7 836.8L816.7 820.2L816.7 810.6L820.1 799.9L828 788L834.6 780L840.3 778.7L842.5 777.8L860.8 766.3L875.1 754.6L879.4 751.5L891.1 749.8L897.8 747.6L912.7 745.6L929.7 748.9L933.1 748.8L937.5 747.2L939.9 748.9L942.1 749.7L945.1 750L948.2 749.4L948.9 751.2L949.9 752.8L951.1 754.2L952.7 755.3L968.5 761.7L970 755.9L971.5 756L972.7 755.6L979 751.9L983.1 756.5L983.7 756.2L990.8 754.7L995.8 756L998.4 750.4L1008.5 753L1012.1 758.5L1015 757L1017.3 754.6L1018.7 751.4L1019 748.2L1018.3 745.4L1016.9 742.9L1008.9 734.7L1010 729.8L1009.7 726.5L1013.7 725.1L1023.1 723L1028.9 723L1030.7 724.3L1032.6 725.1L1034.5 725.5L1036.5 725.4L1046.6 722.8L1055.9 721.1L1075.8 722.9L1087.5 726.5L1090.7 730L1092.4 731.4L1094.7 732.5L1097.5 733L1100 732.8L1114 729.5L1116.9 728.1L1123.8 722.7L1128.5 722.3L1135.9 727L1151.5 741.3L1154.2 748L1153.1 756.5L1153 758.5L1154.6 770.9L1155.8 774.1L1157 775.7L1164.8 775.7L1172.4 787L1169.1 792.2L1173 796.1L1174.6 802.1L1180.2 800L1180.8 801.8L1181.5 802.8L1188 807.2L1193.4 816L1189.2 820.7L1191.4 823.2L1193.9 824.7L1196.2 825.4L1201.4 826.1L1202.1 826.9L1205.5 836.5L1210.9 834L1211.9 835.2L1213.3 835.9L1220 837L1227.2 835.9L1232.5 834.7L1233.6 834.1L1234.4 833.2L1239.2 823.5L1240.7 809.1L1239.8 795.4L1245.6 791.8L1245.4 789.7L1245 787.8L1244.7 786.9L1238 785.8L1234.8 776.5L1233.7 774.6L1238.6 771.2L1223.9 749.2L1225.3 744L1225.5 741.7L1218.6 739.5L1208.9 728.4L1212.8 723.8L1208.4 718.8L1198.4 698.5L1194.6 683.9L1198.7 658.1L1201.9 649.3L1207.2 642.5L1219.5 632L1222.1 629.5L1213.7 625L1201.2 626.7L1200 627.8L1198.3 628L1196.3 629.2L1191.2 628.9L1188.5 633.7L1183.6 633.2L1182.8 633.8L1180 633.8L1177.7 637L1173.3 636.2L1171 639.2L1171.3 641.6L1171.1 641.9L1163.5 644L1163 644.5L1162.6 644.4L1155.7 649.2L1153.4 650.4L1151.6 655L1151.7 655.7L1148.3 660.3L1144.5 660.7L1143.8 661.6L1144.8 668L1139.5 670.1L1136.7 665.7L1131.4 666.9L1129.9 666.3L1126.3 669.7L1124.9 669.8L1120.8 674L1116.1 668.5L1112.1 669.9L1112.2 673L1108.4 676.8L1104.2 675.8L1103.1 674.7L1101.2 675.1L1095.6 671L1095 671.1L1092.4 677.1L1092.1 677.2L1088.5 676.2L1084.2 678.7L1082.3 677.7L1078.1 678.1L1074.7 675L1071.2 675.5L1068.8 674.4L1062.8 677.8L1061.9 680.4L1057.2 682L1055.4 686.2L1046.5 687.5L1046 689L1042 691.6L1033.9 689.3L1031.9 691.4L1023.2 688.7L1020 694.3L1022.3 699.9L1012.2 705.6L1010.6 704.7L1002.5 704.5L992.1 701.9L986 708.1L985.6 708.1L977 698.7L974.2 700.3L962.4 694.9L962 695.1L960.3 704.4L954.6 708.1L953.3 707.7L948.9 699L942 697.2L941.3 696.1L933.3 693.3L927.6 696.4L921.9 689.4L914.9 690.4L915.8 699.5L914.3 701.1L908.7 700.9L903.4 707L899 705.4L897.5 695.6L893.8 693.5L889.7 693.8L887.7 692.3L880.5 693.3L872.6 685.4L869 686.1L863.4 676.8L858.1 675.9L855.9 672.6L843.3 671.9L841.9 669.6L834.2 670.4L825.5 661.6L826 660.4L821.3 648.8L811.1 655.1L810.9 657.3L801.4 660.7L803.4 668.7Z" fill="#ff0d0d" stroke="#ff0d0d" stroke-width="0.6" fill-rule="evenodd"/>
<path d="M962 712L968 711L971 718L966 721L962 718Z" fill="#c45f20" />
<path d="M1214.4 785.5L1245 780L1245 845L1200 845L1206 817L1216.7 815.5Z" fill="#d936fb" />
<path d="M781 826.7L785.5 819L793 820L795.5 824.4L804.4 824.4L809 833L820 845L775 845Z" fill="#d936fb" />
<path d="M992.7 258.7L1001 264L1012 270.7L1012 280L1006.7 282.7L993.3 277.3Z" fill="#7030a0" />
<path d="M984 248L986 244L992 240L1000 242L997 247L990.7 251L988 258L984 256Z" fill="#7030a0" />
<clipPath id="ne"><rect x="1165" y="100" width="300" height="300"/></clipPath><g clip-path="url(#ne)">
<path d="M640 213L696.7 213L733 215.5L733 234L760 237.8L796.7 239L796.7 244.4L825.5 244.4L831 260L857.8 260L860 279L875.5 283L889 285.5L897.8 296.7L904.4 296.7L906.7 287.8L915.5 283L916.7 269L922 266L933 258L949 245L963 233.5L972 228L985 236L985 150L1450 150L1450 1000L640 1000Z" fill="#2068b4" />
<path d="M640 365.5L684.4 365.5L722 366.7L722 349L729 330L746.7 323L760 336.7L771 337.8L789 352L790 357.8L814.4 359L816.7 369L831 369L833 374.4L902 374.4L904.4 366.7L913 365.5L914.4 350L920 349L920 339L933 344L953 336.5L985 334.7L985.3 324.4L995.4 324.4L999 342L1000 348L1006 346.9L1031 345.7L1032 348L1041.6 354L1050 351.6L1051 348L1067.7 345.7L1072.4 337.4L1078.3 332.7L1081 334L1084 326L1090 321L1150 290L1225 290L1225 318L1239 313L1241.3 326L1244 339.3L1252 350L1264 360.7L1272 366L1280 363.3L1288 358L1286.7 347.3L1276 344.7L1269.3 332.7L1274.7 314L1284 311.3L1286.7 303.3L1289 303L1294.4 325.5L1307.8 321L1311 310L1315.5 301L1331 294.4L1340 305.5L1450 305L1450 1000L640 1000Z" fill="#30a330" />
<path d="M640 499L716.7 499L742 499L743 491L754.4 490L755.5 466.7L813 465.5L815.5 457.8L864.4 456.7L866 463L886.7 462L895.5 467.8L900 464.4L933 464.4L937.8 473L953 472L955.5 467.8L977.8 465.5L984.4 457.8L991 463L1006.7 459L1020 460L1020 455.5L1033 455L1033 449L1057.8 449L1060 453L1077.8 453L1089 449L1093 444.4L1104.4 444L1104.4 435.5L1115.5 434.4L1117.8 444.4L1133 446.7L1142 451L1151 446.7L1160 443L1166.7 449L1173 460L1177.8 473L1180 481L1189 482L1193 469L1204.4 455.5L1213 437.8L1216.7 429L1220 413L1231 402L1244.4 397.8L1257.8 400L1266.7 394.4L1277.8 395.5L1286.7 387.8L1293 377.8L1293 365.5L1299 366.7L1299 374L1313 368L1335 358L1450 358L1450 1000L640 1000Z" fill="#ffff0a" />
<path d="M1320 204.4L1330 204.4L1353 202L1360 205.5L1366.7 223L1380 219L1380 170L1320 170Z" fill="#7030a0" />
</g>
<g clip-path="url(#west)">
<path d="M694.4 202L691 263L687.8 310L684 355L677.8 418L717.8 422L711 531L755.5 537L755.5 585.5L759 605.5L769 610L776.7 616.7L776.7 639L775.5 647L770 650L767.8 673L772 689L774.4 713L766.7 716.7L766.7 724.4L775.5 729L775.5 804.4L769 809L770 820L765.5 823L765 1000L150 1000L150 100L694.4 100Z" fill="#a9d18e" />
<path d="M289.6 368.4L296.7 360.4L306.4 349L327.8 353L326.9 366.7L321.6 375.6L319.8 389.8L323 399.6L318 404.9L316 411L326.9 408.4L341 411L343 418L330 416.4L318 419L316 430L315 440L323 453.8L327 466L335.8 462.7L347 457L350 459L355 471.6L359.8 485L361.6 510L363 513L406.7 525L413 500L451.7 503L453.3 501.7L458 486.7L478 491.7L481.7 508L480 521.7L466.7 528L461.7 545L455 576.7L438 576.7L436.7 575L428 583L423 595L388 590L385 610L361.7 630L250 630L250 368Z" fill="#fd9c52" />
<path d="M509 660L511 635.5L514.4 617.8L524.4 609L548 608L560 608L682 608L682 565L745 562L790 560L790 850L500 850Z" fill="#fd9c52" />
<path d="M284 349L304.7 345L305.6 349L296.7 360.4L289.6 368.4L280.7 369Z" fill="#f8faa6" />
<path d="M283 395L289 396L291 410L285 410Z" fill="#f8faa6" />
<path d="M317 403L322 402L327 408L318 410Z" fill="#a9d18e" />
<path d="M318 419L330 416.4L343 418L343 421.8L342 424.4L336.7 429.8L337.6 434L343.8 440.4L348 449L350 458L347 457L335.8 462.7L327 466L323 453.8L315 440L316 430Z" fill="#f8faa6" />
<path d="M343 418L359 408.4L362.4 407.6L363 416.4L372 425L380 429L429 435.5L442 453L462 453L453.3 501.7L451.7 503L413 500L406.7 525L363 513L361.6 510L359.8 485L355 471.6L350 459L350 458L357 467L374 470.7L342 424.4Z" fill="#f8faa6" />
<path d="M461.7 545L473 556.7L490 566.7L493 576.7L506.7 585L513 593L526.7 600L531 611L544.4 606.7L549 608L549 610L524.4 609.5L514.4 617.8L513 620L506.7 620L501.7 608L493 593L478 590L453 586.7L455 576.7Z" fill="#f8faa6" />
<path d="M548 609L546.7 633L553 640L553 660L560 660L560 644.4L571 642L575.5 631L569 624.4L573 620L606.7 622L609 626.7L629 629L631 634.4L641 633L644.4 611L666.7 612L669 624.4L682 626.7L682 643L695.5 642L695.5 634.4L706.7 633L706.7 623L720 622L720 611L732 609L733 599L744.4 597.8L745.5 564.4L753 563L760 563L760 537L711 531L712 500L684.4 497.8L673 502L660 511L646.7 522L644 526L671 533L669 553L680 560L675.5 575.5L635.5 577.8L633 600L611 600L611 584.4L595.5 580L593 570L569 569L566.7 575.5L555.5 573Z" fill="#f8faa6" />
<path d="M388 590L420 595L423 595L428 583L436.7 575L438 576.7L453 576.7L453 586.7L478 590L493 593L501.7 608L506.7 620L513 620L514.4 617.8L511 635.5L509 657.8L509 680L380 680L385 610Z" fill="#fb6330" />
<path d="M700 719.8L706.7 719.8L753.8 721.6L754.7 727.3L757.3 732.7L758.2 734.4L773.3 736.2L780 737L780 840L700 840Z" fill="#fb6330" />
<path d="M429 150L425.5 184L428 190L445 191L448 195L453 192L460 194L475.5 194.4L478 208L489 228L498 239L490 265.5L484.4 275.5L470 270L446.7 269L444.4 272L446.7 305.5L453 313L469 308L469 323L495.5 330L498 343L511 341L515.5 353L502 364.4L520 373L529 382L520 395.5L524.4 417.8L533 433L546.7 437.8L551 449L571 449L604.4 444.4L609 440L611 416.7L653 416.7L655.5 404.4L655.5 376.7L675.5 377.8L690 377.8L700 202L700 140Z" fill="#8faadc" />
<path d="M575.5 412L611 416.7L633 418L640 433L645.5 453L645.5 480L637.8 495.5L640 504.4L644.4 513L644.4 524.4L633 526.7L595.5 520L596 505L587.8 504.4L566.7 500L566.7 489L597.8 493L600 473L603 460L611 455L611 446.7L604.4 444.4L571 449L573 430Z" fill="#8faadc" />
<path d="M336.7 429.8L342 424.4L374 470.7L357 467L350 458L348 449L343.8 440.4L337.6 434Z" fill="#8faadc" />
<path d="M610 416.7L633 417.8L640 433L642 451L645.5 453L645.5 480L633 481L631 473L624.4 471L621 475.5L623 486.7L609 487.8L606.7 497.8L615.5 504.4L626.7 505.5L626.7 515.5L597.8 512L596.7 504.4L587.8 504.4L597.8 493L600 473L603 460L629 460L627.8 451L615.5 444.4L615.5 435.5L606.7 433Z" fill="#7030a0" />
<path d="M552 304.4L563 306.7L566.7 337.8L573 342L580 364.4L581 373L557.8 373L557.8 389L539 387.8L543 360L548 330Z" fill="#7030a0" />
<path d="M395 150L395 161L388 162.5L387 172L382.5 174L381 183L373 188L372 197L367.5 205L366.7 213L351 214L346.7 232L351.7 236L353 247L349 253L345 272L341 280L333 286.7L333 297.8L325.5 302L319 326.7L293 321L289 329L291 342L280 369L279 373L200 373L200 100L395 100Z" fill="#fdd571" />
<path d="M279 373L289 377.8L287.8 386.7L280 393L284.4 411L291 411L293 424.4L286.7 431L289 442L302 449L305 470L310 480L311.7 486.7L308 491.7L313 500L315 510L321.7 520L325 530L336.7 536.7L340 543L340 553L333 557L333 600L200 600L200 373Z" fill="#ff7a0a" />
<path d="M322 146L326 150L335 156L349 162L349 167L340 166L328 163L320 159Z" fill="#3a5a28" />
</g>
<path d="M318.5 168l19 2l2.5-2l-2-15M305 244l6 1l10.5-12.5l-4.5-13l-5-2.5M311 245l5 13.5l19.5-4.5l-7-18.5l-7-3M316 258.5l-2 4l-14.5 5.5l-2-1.5M280 286l3.5 1.5l15.5-8.5l0.5-11M335.5 190l20.5-2l4.5 10l-12.5 13.5l-5.5 0.5l-5.5-3l-4-16.5l2.5-2.5l2-20M356 188l2.5-6l-8.5-13l-10-1M317 189.5l16 3M317 219.5l20-10.5M342.5 212l-1 18l-13 5.5M266 342.5l6 16.5l1 1l12-8.5l0.5-13l-19 3M262 359l10 0M359.5 361l-0.5 15.5l-31.5 2.5l1-16l24-6.5l7 4.5l17-10.5l32.5 9l4.5 8l-23.5 28.5l-28.5-13.5l-2.5-6M270 405l8.5-4l3-10.5l-9-4.5l-5.5 2M264.5 372.5l8-2l0 15.5M273 360l1.5 7.5l9.5 3.5l11-7.5l-1.5-6.5l-8.5-5.5M274.5 367.5l-2 3M320 355.5l4.5-13l-3-5.5l-9.5-3.5l-10 7l1.5 8.5l11.5 8l5-1.5l8.5 7.5M352.5 356.5l-7.5-13l-20.5-1M293.5 357l10-8M285.5 338.5l2.5-3l14 5M374 168.5l9.5-10l-3.5-13.5l-19.5 4.5l0.5 8l13 11l1 7.5l-16.5 6M350 169l11-11.5M356 144.5l4.5 5M383.5 158.5l14 3.5l1.5 7l-15 15l-9-8M360.5 198l9.5 3l14.5-15l-0.5-2M335.5 254l4 2l14.5-15.5l-0.5-1.5l-12-9M348 211.5l15 10.5l-9.5 17M370 201l6 15.5l-0.5 3l-12.5 2.5M291 508l16.5-10l0.5-1l-5.5-20l-22.5 0.5M323 551l27-1l10-29.5l-19-8.5l-12 5.5l-11 16l2 14M360 520.5l1.5-0.5l17.5 7l10.5 30l-24 12.5l-15.5-19.5M294 521.5l24 12M307.5 498l21.5 19.5M353.5 582.5l10.5-8l1.5-5M308 497l23.5-12.5l-2-8.5l-20-8l-7 9M341 512l-2.5-21l-7-6.5M361.5 520l8.5-21l25.5-7.5l15.5 18.5l-32 17M278.5 401l10.5 8.5l8.5-5l-8.5-17l-7.5 3M284 371l6.5 14l-1.5 2.5M312 333.5l-5.5-18l-20 10l1.5 10M283.5 287.5l5 12.5l-12.5 14.5M276 317.5l10.5 8M299 279l11.5 11l-8 13l-14-3M306.5 315.5l0-0.5l-4-12M339.5 256l3.5 8.5l19-1l4-6.5l-2.5-11.5l-9.5-5M364 574.5l19.5 25.5l-3 12.5M280 463l11.5-8l17 7.5l1 5.5M351.5 462.5l7.5 20l3 1l24-19l-9-9.5l-25.5 7.5l-10-5l-12 18.5M338.5 491l20.5-8.5M370 499l-8-15.5M386 464.5l8 3.5l1.5 23.5M316 393.5l9-5l2-9l-20.5-9l-0.5 0l-4.5 11l10.5 11.5l4 0.5l2.5 18.5l-11 3l-10-10.5l14.5-11.5M290.5 385l11-3.5M315 357l-8.5 13.5M327.5 379l-0.5 0.5M295 363.5l11 7M403.5 214l14.5-4.5l2-5.5l-10-14l-14.5 5l-0.5 9l8.5 10l-3 16l9.5 6.5l-5 17.5l-17 4l-4.5-23l1-2.5l16-2.5M384.5 186l11 9M376 216.5l19-12.5M314 262.5l8 13.5l18-1l3-10.5M310.5 290l5-1l6.5-13M409 359.5l1-8l-8-26.5l-14-6l-13 13l1.5 18.5M345 343.5l2.5-15.5l15.5-3l12 7M321.5 337l8.5-14l14 1l3.5 4M306.5 315l16.5-2l7 10M366 257l20.5 3l1.5-2M363.5 245.5l20-10.5M375.5 219.5l9 13M411 510l7 2l2.5 20l-27 26l-4-1M341.5 457.5l-0.5-0.5l-7-6l-18-1l-7.5 12.5M291.5 455l0.5-12.5l-12.5-6l6-17l-13.5-2.5M289 409.5l-3 10l-0.5 0M318.5 412l3 1.5l11.5-5l-1.5-15l-6.5-5M361.5 382.5l-8 11l-22 0M377 455l-2.5-14.5l-24 4.5l-9.5 12M399 169l10 5.5l3 10.5l-2 5M408.5 300l7-10l0-6.5l-7-6.5l-18.5 1l-1 21l19.5 1l5.5 14.5l-12 10.5M388 319l-3-15.5l4-4.5M405 254l7 8l-3.5 15M386.5 260l1 15.5l2.5 2.5M362 263.5l5.5 15l20-3M344 324l1.5-16l-15.5-7.5l-7 12.5M315.5 289l14 10l13.5-18l-3-6M329.5 299l0.5 1.5M466.5 226l-9 9.5l0.5 15.5l16 0l12-17.5l-19.5-7.5l-2-7l11.5-17.5l3.5-1.5l13.5 5.5l-6 28l8.5 4.5l23-6.5l-10-29.5l-1.5-1l-14 4.5M458 251l-1 1l-1.5 15l15.5 9l2 0l10.5-6l-9.5-19M476 657.5l18-31.5l29 3.5l4.5 6.5l-6.5 37.5M759.5 819l4.5-9.5l-4-4.5l-6.5 0M494 626l-20-23.5l-23 3l-9 31.5M497 567.5l-11 7l-32.5-25.5l14.5-29l16.5 2.5l17.5 29l-5 16l39.5 19.5l1 14.5l-14.5 28M418 512l24-15.5l14.5 7l11.5 16.5M453.5 549l-12 3l-21-20M764 809.5l5 0.5M671 738.5l-6.5-12.5l-1-0.5l-16.5 7.5M749 796.5l2.5-5.5l-5.5-5l-2.5 1M298 438.5l3.5-11l1-1l16 5l-3.5 16l-17-9l-6 4M286 419.5l15.5 8M316 450l-1-2.5M318.5 431.5l6.5-4l8.5 3l0.5 20.5M321.5 413.5l3.5 14M307.5 415l-5 11.5M465.5 345.5l-19.5 14.5l-8-32.5l3-2l14.5 1.5l10 18.5l5-0.5l11.5 23.5l12 0l5.5-18.5l-0.5-1l-26.5-5.5l-2 1.5M413.5 367.5l12.5 3.5l16.5-5.5l3.5-5.5M410 351.5l20-24l8 0M414 314.5l6.5 1l9.5 12M415.5 290l18.5 10.5l-13.5 15M471 276l-12.5 16l-13-5l6.5-18.5l3.5-1.5M452 268.5l-19-3.5l-3.5 11.5l11.5 12l4.5-1.5M434 300.5l1.5-0.5l5.5-11.5M429.5 276.5l-14 7M441 325.5l2-18l-7.5-7.5M343 412l8-4l15 14.5l-17 9l-10.5-3.5l4.5-16l-10-3.5M353.5 393.5l-2.5 14.5M333.5 430.5l5-2.5M390 396l2 19l-15 10.5l-11-3M350.5 445l-1.5-13.5M374.5 440.5l2.5-15M433 265l-3-5.5l10-10.5l17 3M412 262l16.5-3l1.5 0.5M410 236.5l9-1l9.5 23.5M363.5 309l12-7l-12.5-17l-9.5 2l-2 17l12 5l-0.5 16M385 303.5l-9.5-1.5M345.5 308l6-4M367.5 278.5l-4.5 6.5M343 281l10.5 6M458.5 292l2.5 9.5l20-0.5l-8-25M455.5 327l6-9.5l-3.5-11l-15 1M461 301.5l-3 5M483.5 270l13.5-0.5l2-3l-3.5-28.5M486 233.5l1 0M532.5 178.5l-3 16.5l13.5 11.5l17.5-3.5l-3.5-19.5M596.5 189.5l-4.5 34l23 1.5l0-0.5l7-31.5M662.5 197l0 11.5l32-5M486 574.5l-12 28M577.5 668l-18-6l-8-18.5l30-13l13.5 25l-10.5 12.5M551.5 677l8-15M527.5 636l24 7.5M614.5 689.5l5-5.5l-13-27.5l-11.5-1M751.5 791l5-1l5 9l-1.5 6M433 570.5l10 30.5l-21.5 4l-19.5-13l2.5-22l28.5 0.5l8.5-18.5M451 605.5l-8-4.5M393.5 558l11 12M412 619l9.5-14M383.5 600l18.5-8M690.5 273.5l-31.5 1.5l-7 18.5l34.5 34.5M440 475l24-24l-26.5-31.5l-21.5 9l-2.5 29l26.5 17.5l2 21.5M394 468l19.5-10.5M392 415l24 13.5M426 371l12.5 46l-1 2.5M724 648l5-6.5l-4-9.5l-6.5 2l-3 4.5l6.5 9.5l2 0l4 6l6.5 1.5l2-2.5l0-10.5l-7.5-1M664.5 726l17-6.5l6.5 12.5M746 786l1.5-8l-10 0M756.5 790l3.5-6l-10.5-8l-2 2M734 772.5l3.5-7.5l-2.5-5.5l-7.5 2M412 152l9.5 12l8.5 1l2-7.5M409 174.5l12.5-10.5M397.5 162l7.5-12M380 145l1-1.5M560.5 203l2.5 1l21-16.5M434.5 170.5l12-0.5l10.5 9l-5 14.5l-0.5 0.5l-18.5-7l-2-4.5l3.5-12l-4.5-5.5M450.5 161.5l-4 8.5M412 185l19-2.5M420 204l7.5-2.5l5.5-14.5M427.5 201.5l10.5 5.5l13-11l0.5-2M464.5 219l-8-4.5l-5.5-18.5M476 201.5l-24-8M467.5 165l-8.5 13.5l19.5 6.5l11-15M479.5 200l-1-15M457 179l2-0.5M507 201l-6.5-29M529.5 195l-21 7M425.5 223.5l-4 10l16.5 6l8.5-7l-6.5-13.5l-0.5 0l-14 4.5l-7.5-14M419 235.5l2.5-2M438 207l1.5 12M440 249l-2-9.5M456.5 214.5l-16.5 4.5M457.5 235.5l-11-3M550 304l-31.5 1.5l-1 2l3.5 15l35 9l-6-27.5l2.5-6l-20-19.5l-18 14l4 13M497 269.5l6 16.5l11.5 6.5M499 266.5l27.5-8l7.5 6l-1.5 14M518.5 231.5l5.5 2.5l2.5 24.5M543 206.5l-7 22l-12 5.5M552.5 298l15.5-11.5l21.5 26l-26.5 20.5l-6 0l-1-1.5M691 262l11.5 0.5l0.5 0l0.5-7l-1.5-1.5l-10.5-0.5l-30-3.5l-7 15.5l4.5 9.5M652 293.5l-2 0l-21-14.5l-0.5-8.5l8-8l18 3M636.5 262.5l-2-14.5l-15.5-6.5l-13 18.5l22.5 10.5M667.5 227l-6.5-17l-13.5 1.5l-7 11l6.5 15.5l10 3l10.5-14l25 5.5M662.5 208.5l-1.5 1.5M661.5 250l-4.5-9M634.5 248l12.5-10M619 241.5l-4-16.5M615 224.5l25.5-2M633.5 194.5l14 17M620 588l2.5 23.5l-4 5l-34.5 5l-5-10l6.5-24l14.5-8l20 8.5l19-14l9.5 2.5l16 32.5l-16 8.5l-26-6M581.5 630.5l2.5-9M537.5 601.5l41.5 10M606.5 656.5l14-9.5l-2-30.5M536.5 587l16.5-18.5l32.5 19M553 568.5l1.5-9.5l42.5-10.5l3 31M648.5 617.5l-1 32l-5 2.5l-22-5M761.5 799l10.5-6.5l-9-9.5l-3 1M685.5 336l-54.5-7l-2-19.5l21-16M629 279l-18.5 16.5l18.5 14M589.5 312.5l4.5 0l14.5-17l-11.5-18l-28.5 7.5l-0.5 1.5M606 260l-5.5 2l-3.5 15.5M610.5 295.5l-2 0M625.5 540l5.5-32l18.5 3l11 21.5l-27.5 11l-7.5-3.5l-18.5-0.5l-0.5-26.5l17-8.5l6.5 2l1 1.5M703 636.5l-5.5 9l-20.5-2l1.5-9.5l17.5-3.5l6 4.5l1 1.5l8 3.5l-2 13l-7 0l-3 4l0 7.5l3 3l6.5 0l5.5-7.5l-2-5.5l-3-1.5M699 664.5l-20.5 7l-5-4l-2.5-12l28 1.5M671 655.5l-0.5-1l6.5-11M697.5 645.5l4.5 7.5M728 654l-7.5 9l-6.5-3M722 648l-10 6.5M715.5 638.5l-4.5 1.5M697 732l1-11l2-1l9 3.5l-4 11M681.5 719.5l1-1l15.5 2.5M682.5 718.5l2-14l8.5 1l8 7l-1 7.5M714 722l3.5 1l6.5-12l-6.5-4.5l-7 3.5l3.5 12l-5 1.5M701 712.5l7-3l2.5 0.5M693 705.5l12-7.5l3 11.5M658.5 706l5.5-7l-4.5-16l-21.5-3l-3.5 3.5l7 21l17 1.5l5 19.5M684.5 704.5l-2.5-5l-18-0.5M634.5 714.5l7-10M682 699.5l1.5-4l-2.5-20.5l-2.5-3.5M673.5 667.5l-14 15.5M642.5 652l-4.5 28M647.5 649.5l23 5M619.5 684l15-0.5M772 792.5l3.5 0.5M763 783l3-5.5l9.5 1M753 759l11.5 0.5l2 7.5l-2 4l-14-0.5l-1-2l3.5-9.5l-1-2.5l-13.5-3l5.5-10l4 0l5.5 7l-1.5 6M737.5 765l12 3.5M749.5 776l1-5.5M766 777.5l-1.5-6.5M775.5 767l-9 0M734.5 655.5l2.5 10.5l-2.5 2l-10.5 0.5l-3.5-5.5M557 333l-9 15l-21.5-1l-12-13.5l6.5-11M526.5 347l-9.5 10.5l1.5 14l16.5 4.5l13-12l0-16M568.5 285l-2.5-8l-21.5-14.5l-10.5 2M684.5 346.5l10-2.5l-0.5-8l-8.5 2l-53 35.5l-5 0l-9-35l12.5-9.5M563 333l24 18.5l24-14.5l-17-24.5M611 337l7.5 1.5M548 364l29 20l-19.5 20.5l-22.5-5l0-23.5M718.5 634l-7.5-8.5l-1.5 0l-7.5 9.5M725 632l0.5-1l-1-10.5l-2.5-3.5l-11 8.5M683.5 695.5l15-5.5l-3-11.5l-14.5-3.5M702 667.5l-3 9l-3.5 2M717.5 706.5l0.5-7l-12-4l-1 2.5M698.5 690l6.5 2l1 3.5M775.5 755l-7.5-1l-1-3l5.5-9l3 0M764.5 759.5l3.5-5.5M717.5 723l1 1l1.5 10.5l-12 3M735 759.5l1-4.5l-6-6.5l-10.5 1.5M720 734.5l0.5 0.5l-2.5 13M438.5 417l30-15l2-5l-3.5-13.5l-24.5-18M518.5 371.5l-14.5 7l-2.5 16.5l3.5 4l25 4.5l5-4M517 357.5l-17.5-7.5M504 378.5l-10-10M514.5 333.5l-10 2.5l-5.5 13M467 383.5l15-15M470.5 397l31-2M477 320.5l7-17l0.5-0.5l15 11l-2.5 14l-17 0l-3-7.5l-15.5-3M481 301l3 2.5M472.5 343.5l7.5-15.5M504.5 336l-7.5-8M503 286l-18.5 17M517.5 307.5l-18 6.5M556 238.5l1.5 5l18 10l11-3.5l4.5-26l-19-5.5l-16 20l-20-10M544.5 262.5l13-19M563 204l9 14.5M566 277l9.5-23.5M592 223.5l-1 0.5M600.5 262l-14-12M627.5 373.5l-4.5 3l-35.5-2l-0.5-23M577 384l0.5 0l10-9.5M632.5 373.5l26 25.5l2 0M633 543.5l6 30.5M597 548.5l3.5-6l6.5-3M505 399l-5.5 23l-16 6l-15-26M602 477.5l11.5-5l8.5 11l-6.5 9.5l-8.5-0.5l-5-15l-2.5-1l-5-11.5l-9.5-2.5l-9.5 5.5l2 7.5l11.5 7.5l10.5-6.5M613.5 472.5l2.5-6.5l-7.5-14.5l-0.5 0l-13.5 13.5M608 451.5l-0.5-1l-22-6l-0.5 18M736.5 642.5l4-3.5l-6-8.5l-9 0.5M736.5 653l8.5-0.5l2.5-9l-3-4.5l-4 0M755 621.5l-3.5 11l10 3.5l5-12l-11.5-2.5l-2.5-3l-11.5 4l-1 0l-1.5-2.5l0.5-8.5l7.5-1.5l6.5 7l-0.5 1.5M761.5 636l1 2.5l-1 6l-2.5 2l-11.5-3M751.5 632.5l-3.5 1l-3.5 5.5M725.5 607.5l-10-9l0-1.5l8.5-5l7.5 4l-6 11.5l0 1l-3.5 8l0 0.5M664.5 609l2 0l8 12l4 13M707 679.5l-0.5 10.5l13-4l2-3.5l-2-5.5l-7-1.5l-5.5 4l-8-3M705 692l1.5-2M708.5 667.5l4 8M719.5 686l1.5 10.5l-3 3M724 668.5l-4.5 8.5M721.5 682.5l11.5 2l2.5-3.5l-1-13M767 751l-6-4l-1-7.5l3.5-3.5l4.5 0l4.5 6M730 748.5l1-8.5l-2.5-3.5l-8-1.5M773 728.5l-5 7.5M772 690l-12.5-7.5l-5.5 13l18.5-1.5M750.5 696l-10 6.5l-7-1l-1.5-3l2.5-11l13 4l3 4.5l2 0.5l1.5-1M747.5 691.5l1-13l10.5 3l0.5 1M748.5 671.5l-4-5l6-9l6-1l5 5l-3 7l-10 3l0 7l-13 2.5M733 684.5l1.5 3M721 696.5l11 2M724 711l5-0.5l4.5-9M623 376.5l-5.5 29.5l9.5 5.5l22-0.5l9.5-12M617.5 406l-4.5 2.5l-18.5 0l-17-24.5M608.5 451.5l19-5.5l1.5-11l-17.5-4.5l-4 4l0 16M627 411.5l3 22.5l-1 1M613 408.5l-1.5 22M630 506.5l7-16l-3-8l-12 1M623.5 504.5l-8-11.5M575 498l13.5-7l11 9l0 4l-16.5 8l-8-14l-9-3l11.5-19.5M589 483l-0.5 8M583 512l-2.5 12.5l20 18M606.5 513l-7-9M607 492.5l-7.5 7.5M464 451l1 0l12-7.5l6.5-15.5M530 403.5l-2 21.5l-13.5 7.5l-15-10.5M557.5 404.5l4.5 18.5l-15.5 14.5l-18.5-12.5M569 425.5l9.5 15l5.5 2l11.5-12.5l-4.5-15l-22 10.5l-7-2.5M594.5 408.5l-3.5 6.5M607.5 434.5l-12-4.5M585.5 444.5l-1.5-2M575.5 468l-17-7.5l20-20M759 681.5l3.5-5.5l5-1M762.5 676l-4-7.5M759 646.5l-2.5 10M745 652.5l5.5 5M737 666l7.5 0.5M725.5 608.5l11.5 1l2 2M724.5 620.5l14-0.5M734.5 630.5l5.5-8M746.5 610l4-9l6 0M761 608.5l-8 8.5M748 633.5l-7-11M761.5 661.5l7.5 0M761.5 644.5l8.5 5M762.5 638.5l14-1.5M767 610.5l0 13l9.5 2.5M766.5 624l0.5-0.5M750.5 601l-4-3l-8 3l-1.5 8.5M731.5 596l0.5 0l6.5 5M724 592l0.5-7l-5-3.5l-8.5 4.5l1.5 8.5l3 2.5M704 618.5l5.5-7.5l-1-3.5l-10-4l-3.5 5l3 10l0.5 0l5.5 0l5.5 7M722 616.5l-12.5-5.5M696 630.5l2.5-12M674.5 621l23.5-2.5M695 608.5l-28 0.5l-0.5 0M715.5 598.5l-7 9M712.5 594.5l-15 2.5l1 6.5M736 755l2.5-1.5M744 743.5l-3.5-4l-9.5 0.5M760 739.5l-8-1l-4 5M761 747l-7.5 3.5M752.5 696.5l3 8.5l-2.5 5.5l-9 0.5l-3.5-8.5M766.5 715l-2.5-8.5l9-8M755.5 705l8.5 1.5M634 482.5l2-3.5l-4-15l-16 2M627.5 446l8.5 11l-4 7M566 495l-10 1.5l-11 30.5l35.5-2.5M554.5 559l-12.5-29l3-3M502 551.5l37-22l3 0.5M477 443.5l33 12.5l1.5-2l3-21.5M546.5 437.5l-0.5 18l-34.5-1.5M556 496.5l-11-18l5-17.5l8.5-0.5M550 461l-4-5.5M732 596l4.5-7.5l-4.5-6l-7.5 2.5M746.5 598l-1.5-9.5l-8.5 0M711 586l-3-2l0.5-12l3-2.5l8 5.5l0 6.5M755.5 587l-9-0.5l-1.5 2M708.5 572l-10.5-1l-1-6.5l6-8.5l9.5 8l-1 5.5M712.5 564l8-5l0.5-4.5l-13.5-7.5l-4.5 9l-12.5-5.5l-15.5 7.5l-0.5 0l-10.5-25l6-4.5l7-1.5l5.5 1l11.5 12.5l-3.5 10M753 710.5l2.5 7l6 3.5M763.5 736l-4-8.5l2-6M752 738.5l-2-7.5l9.5-3.5M651 450.5l13.5-10l-1-9l-13.5-6.5l-5.5 7.5l6.5 18l-1 4l-14 2.5M630 434l14.5-1.5M649 411l1 14M685 427l0 4l-10 14.5l-10.5-5M663.5 431.5l15-11M716.5 440l-21.5 3.5l-10-12.5M508.5 465.5l13.5 20l-8 18.5l-10 0.5l-18.5-23l0.5-1l22.5-15l1.5-9.5M545 478.5l-23 7M465 451l21 29.5M456.5 503.5l29-22M484.5 522.5l19.5-18M539 529.5l-25-25.5M649.5 511l5.5-13l-2-3.5l-16-4M719.5 575l5.5-3l-0.5-9.5l-4-3.5M696.5 580.5l4.5 4l-4 11.5l-16-4l0.5-5l15-6.5l0-7.5l1.5-2M708 584l-7 0.5M681.5 587l-5-15l20 1M697.5 597l-0.5-1M667 609l14-17M648.5 576.5l23.5-10.5l4.5 6M697 564.5l-22-6.5M707.5 547l0-1l-7-6l-6.5 0.5M672 566l2.5-8M660.5 532.5l3.5 0.5M670 528.5l0-30l-15-0.5M670 498.5l7-5l1.5 0l9.5 13.5l-11 20M682.5 528l20-6.5M700.5 540l4.5-12.5M688 507l16 0M744.5 724l-0.5 3l-1.5 1l-8.5 0l-4-5l2.5-8l8.5 1.5l3.5 7.5l11-6.5M750 731l-6-4M744 711l-3 5.5M740.5 739.5l2-11.5M728.5 736.5l5.5-8.5M718.5 724l11.5-1M729 710.5l3.5 4.5M677 493.5l-6-13l-15-0.5l-3 14.5M636 479l16.5-3.5l2.5-15.5l-5-5.5M652.5 475.5l3.5 4.5M678.5 493.5l9.5-5l17 6.5M668.5 461.5l6 9l12-1l4-13l-1-2.5l-13.5-4l-7.5 11.5l-13.5-1.5M671 480.5l3.5-10M675 445.5l1 4.5M686.5 469.5l5.5 6l-4 13M695 443.5l-5.5 10.5M715.5 462.5l-25-6M692 475.5l16.5-1M732 582.5l1.5-6l12.5 1l0.5 9M724.5 562.5l8-0.5l3.5 4l-3.5 8.5l-7.5-2.5M733.5 576.5l-1-2M721 554.5l2.5-3.5l10.5 0l1 2l-2.5 9M746 577.5l2.5-4l-8.5-8l-4 0.5M748.5 573.5l7-3M744.5 535.5l-0.5 8l-8.5 4l-6-11M734 551l1.5-3.5M723.5 551l-1-12.5M707.5 546l10-9.5M735 553l10.5 3.5l-5.5 9M744 543.5l4 5l-2.5 8l10 6M748 548.5l7.5-1.5M1363.5 176.5l-2 3l5.5 14.5l1.5 0.5l3-0.5M1389.5 224l-3.5 4.5l3.5 7.5l10 4.5M731 203.5l-1 1l-8-0.5l-0.5-0.5l0-2M1361.5 179.5l-9 1.5l-3-3M1228 834.5l5-12l4.5-1.5l-2.5-13.5l4.5 0M1389.5 236l-6.5 12.5l4 5.5M703 200l1 4l-9.5 0M711.5 200.5l-0.5 2l1.5 1.5l9-0.5M704 204l0 0.5l7-2M722 204l-1.5 7.5l-8 1.5l0-9M721.5 238.5l2-2l8 2.5l0 6.5l-9 1l-1-1l0-7l-7-2l-0.5-6l7.5-2.5l2.5 2.5l-0.5 6M694 212.5l9.5-0.5l0.5 0l0-7.5M704 212l8.5 1l0.5 7l9 2l0-0.5l0-8.5l-1.5-1.5M721.5 228l0.5-6M703.5 212l0 9l9.5-1l-1 8.5l2 2M1086.5 289.5l-2 1.5l-9.5-6.5l1.5-1M1368.5 194.5l-1 14.5l6 4l3-1.5M1386 228.5l-11.5-0.5l-1-15M722.5 246.5l0 7.5l9.5 0.5l0-0.5l0-8l-0.5-0.5M722 278.5l8.5 1l1 6.5l-8.5 2.5l-0.5-0.5l-0.5-9.5l-0.5-0.5l-7.5 1.5l-1 7l1.5 1.5l8 0M730.5 279.5l0.5-1l9.5-0.5l0 0.5l-0.5 8l-6.5 1l-2-1.5M713 286.5l-7.5 0.5l0 8.5l6.5 0.5l1.5-1l1-7M694.5 311l0 9.5l8.5-0.5l1-7.5l-1-1l-8.5-0.5l-0.5-0.5l-6.5 2M687 320l7.5 1l-0.5 8l-0.5 0.5l-7.5-0.5M694 336l0-0.5l-0.5-6M777.5 204.5l-1 7.5l1 2l9-2l0-7M796.5 205l0.5 6.5l-1 0.5l-8.5 0.5l-1-0.5M788.5 229.5l8.5-0.5l-0.5-8l-0.5-0.5l-8 0.5l-0.5 0.5l0 7.5l1 0.5l0.5 7l7.5 1l1.5-1l0.5-6l-1.5-1.5M789 236.5l-2 2.5l-8-2l1-6.5l7.5-1.5M796 212l0 8.5M787.5 212.5l0.5 8.5M713.5 269l-0.5-6l9-1.5l0.5 0.5l-0.5 8.5l0 0.5l-8.5-2l-2 2l-8.5-1.5l-1 1l0.5 8.5l0.5 0.5l9-2l-0.5-6.5M721.5 278l0.5-7M731 278.5l0-8.5l-9 0.5M722 261.5l-0.5-7l1-0.5M732 254.5l-1 7.5l-8.5 0M721.5 254.5l-9-0.5l0.5 8.5l0 0.5M732 246l8.5-0.5l1 8.5l-1 1l-8.5-1M776.5 212l-9 0l-0.5-8M721.5 245.5l-9 0.5l-0.5-7l2.5-2.5M712.5 246l-0.5 0.5l0.5 7l0 0.5M1374.5 228l-3 1l-14-9.5l0-6.5l10-4M731.5 262.5l0 7l9 1.5l-0.5-9l-8.5 0.5l-0.5-0.5M731 270l0.5-0.5M740.5 255l0 6.5l-0.5 0.5M740.5 278l0-7l8-1l0.5-7l-8.5-1.5M683.5 361.5l10.5 0l0-7l-9.5-3.5M694.5 344l1.5 1.5l-0.5 8l-1.5 1M712 296l1 8.5l9-0.5l0-7l-8.5-2M723 288.5l1 6l-2 2.5M690.5 271l11.5-0.5M690 278.5l12.5 0.5M714 279.5l-2-2M703 279.5l0 6l2.5 1.5M694.5 320.5l0 0.5M694 310.5l-1-6l-5 0M704 296.5l-7-2l-3 3.5l0 5.5l9 0.5l1-1l0-6.5l1.5-1M703 285.5l-6.5 3l0.5 6M704 303l8.5 2l0.5-0.5M704 312.5l7.5-1.5l1-6M703 311.5l0-7.5M693 304.5l1-1M696.5 288.5l-7-4M694 298l-5-2M696 345.5l7.5-1l0-7.5l-9.5-1.5M1208 823l3-6.5l7 1.5l1.5 12l-7.5 3.5M1226 835l-6.5-5M1218 818l2.5-1l12.5 5.5M1211 816.5l-2.5-3l-14 1l-2-13l-9-2.5l-2.5 0.5M1383 248.5l-9.5-0.5l-4.5 11l5.5 6M1371.5 229l-5 9.5l7 9.5M833.5 206l0 6.5l1 0.5l7.5-0.5l1.5-1.5l-0.5-5M842 212.5l1 8.5l-0.5 0.5l-9-1.5l1-7M860 197l1 6l-5.5 1.5M816 228.5l-1-7l-9-0.5l-0.5 7.5l0.5 0.5l10-0.5l0.5 0.5l8-1.5l1-7l7.5 0l0.5 8l-7 1l-2-2M814 206l-0.5 5.5l-7 1l-1.5-7M797 211.5l8.5 2l1-1M796.5 221l9-0.5l0-7M798.5 230.5l7-2M805.5 220.5l0.5 0.5M703 269.5l-0.5-7M692 245l10-0.5l1 1.5l-1 8M703 246l9 0.5M712.5 253.5l-9 2M713 262.5l-10 0M759.5 254.5l0.5 7.5l7.5 1l1.5-9l8 0.5l0.5-8.5l-0.5-0.5l-9 0.5l1 8l-9.5 0.5l-0.5-1l0.5-7.5l8 0l0.5 0M741.5 254l7.5 0l1 0.5l0.5 7.5l-1.5 1M780 230.5l-3.5-3.5l1-6.5l10 1M777.5 214l0 6l0 0.5M777.5 220l-9.5 0l-0.5-8l-9 1l0 6.5l1.5 2l7.5-1l0.5-0.5M759.5 246l-0.5-0.5l-9 0l-1 8.5M750 254.5l9-1M740.5 245.5l1-1l8.5 0.5l0 0.5M704 227.5l-6.5 2l-1 5.5l6.5 3l2-1l1.5-7.5l-2.5-2l-0.5-6.5l-10 0M1084.5 291l-0.5 8l-1 1l-7 0.5l-3-10.5l2-5.5l-2.5-2.5M1079.5 270l-6 2l-1 7M1083 277l-2.5-7M1070 263.5l-1 5.5l4.5 3M1061.5 260l-2.5 5.5l6.5 4.5l3.5-1M1366.5 238.5l-8 2l-11-7l1-5l9-9M1357.5 213l-6-5l0.5-10.5l15-3.5M1352.5 181l-3.5 13.5l3 3M1335.5 179.5l3.5 14l10 1M1259 268.5l5.5 6.5l7.5-6l1-5M861 203l0.5 0.5l6 0.5M685 395l-0.5-0.5l2.5-7.5l7.5-1.5l0.5 0.5l-0.5 9l-9.5 0l0.5 8l-6.5 1M703.5 344.5l1 1.5l1 6.5l-1 1l-9 0M694 329l10-0.5l0.5 1.5l-1 7l9.5 0.5l-0.5-8l-8 0.5M703 320l1 1l0 7.5M784.5 820l9.5-5l3 7.5l-7.5 8l-2 0l-3.5-3.5l0.5-7l-4-4.5l-10 2M787.5 830.5l-3 8M797.5 841l3-5l-11-5.5M769.5 822l4.5 5l-1 4M784 827l-10 0M687 387l-5.5-6.5M684.5 394.5l-4.5-0.5M991.5 240.5l-1 4.5l-8.5 1l-0.5 7.5l0 0.5l10 0.5l0.5 7l-9 2l-2-1.5l0.5-8M956 228.5l0.5 8l3.5 1M1363.5 326l1 9.5l7.5 4.5M1350.5 327.5l-5 13l11 3l8-8M1282 261.5l6.5 6l8.5-5l1-4.5M1310 251l8.5 7l1 5l-3 5.5l-11 4l-8.5-10M1305.5 272.5l-5.5 10l2 3.5l10 4.5l9.5-9l-5-13M1312 290.5l3.5 9.5l-7 6.5l-15-5.5l8.5-15M825 220l-1-7.5l-8 1l-1 7.5l10-1l0.5 0.5M815 221.5l0-0.5M813.5 211.5l2.5 2M824 206l0 6.5l9.5 0M833.5 220l-0.5 0.5M861.5 203.5l-0.5 9l-8-1l0-5.5M843.5 211l8 2l1.5-1.5M750 203.5l0.5 8.5l8 1l0-9M767.5 220.5l1 7.5l2.5 1.5l5.5-2.5M771 229.5l0 7l6 2l2-1.5M777 245.5l0-7M767.5 246l1.5-8l2-1.5M741.5 244.5l-0.5-7l1.5-2l7.5 2l0 7.5M731.5 239l1.5-2l8 0.5M724 230.5l8-1.5l1 8M750.5 212l-1 1l-9.5-1.5l1-8M730.5 220.5l0.5-7.5l0.5-0.5l8-0.5l1 8.5l-9 0.5l-1-0.5l-8.5 1M722 213l9 0M741 228l1 1l9-1.5l-0.5-6l-2-2l-7 1.5l-0.5 7l-9 1l-0.5-8M730 204.5l1.5 8M740 211.5l-0.5 0.5M751.5 236l1-6.5l6.5-1l2.5 2l0.5 5.5l-2.5 2.5l-8-2.5l-1.5 1.5M759 245.5l0.5-7M769 238l-7-2M768.5 228l-7 2.5M760 221.5l-1 7M712 239l-7-2M712 228.5l-5.5 1M693 224.5l4.5 5M702 244.5l1-6.5M692.5 237l4-2M1065.5 270l-3 8l1 2.5l-3.5 5.5l1 7l2.5 1l9.5-4M1324.5 217l7 3l7-4l1-2.5l-8.5-13.5l-3 0M1339 193.5l-8 6.5M1351.5 208l-12 5.5M1348.5 228.5l-10-12.5M1264.5 275l-0.5 1.5l-9.5 3.5l-8-5.5M694 361.5l0.5 0.5l9 0l1-8.5M682.5 371.5l11-2.5l1-7M704 321l8 0l1.5 7l-1 1.5M712 321l1-0.5l-1-9l-0.5-0.5M780 731.5l4.5-7.5l-10-4l-4.5 6M773.5 714.5l1 5.5M712 511.5l10-0.5l-0.5 7.5l-10 2.5M1010.5 279l-1-8l12-2l1.5 1l0 6.5l-11 5.5l-1.5-3l-10-0.5l0.5-7.5l1-0.5l-2-7.5l2-2M1264 276.5l4 6.5l-2.5 7l-11.5 0.5l0.5-10.5M1280.5 276l7.5-5l9.5 11l-15 5l-3-4l1-7l-8.5-7M1288.5 267.5l-0.5 3.5M1268 283l11.5 0M1293.5 301l0 0.5l-11.5-6l0.5-8.5M1300 282.5l-2.5-0.5M1329 249l10.5 2l4-15.5l-13.5-2.5l-3.5 2l2.5 14l-10.5 9M1322 234.5l4.5 0.5M1331.5 220l-1.5 13M1347.5 233.5l-4 2M1339.5 265l2-11.5l13-1l5 8l-4 8.5l-16-4l-3 2.5l-17-4.5M1339.5 251l2 2.5M1358.5 240.5l-4 12M1369 259l-9.5 1.5M1362.5 274.5l-6.5-4l-0.5-1.5M1348 309.5l-7.5 4l-1 5.5l8.5 6M833.5 228.5l1.5 1l6.5-2l1-6M861 212.5l0.5 0.5l7.5 0M758.5 219.5l-8 2M752.5 229.5l-1.5-2M742.5 235.5l-0.5-6.5M749.5 213l-1 6.5M740.5 220.5l1 0.5M1062.5 278l-6.5-2.5l-1.5-8l4.5-2M1241 280l1 9.5l3 2.5l7.5-0.5l1.5-1M1308.5 306.5l-0.5 11.5l12 5l6.5-19.5l-11-3.5M1345.5 340.5l-1 0.5l-14.5-13l9.5-9M1320 323l3 4.5l3 1l4-0.5M1326.5 303.5l2.5-1l11.5 11M1344 352.5l-3-5l3.5-6.5M1359.5 350l-3-6.5M1326 328.5l0 22l-15.5-4l-2-7l14.5-12M1341 347.5l-13.5 4.5l-1.5-1.5M1282 295.5l-2.5 1.5l-3.5 13.5l14 2.5l3.5-11.5M1265.5 290l3 6l11 1M1180 342.5l1-2l9.5-2.5l6 13l-6 4l-10.5-4.5l-1.5-3.5M1180 350.5l-6 9.5l-2.5-1M1181 340.5l-2.5-7M1091.5 298.5l-7.5 0.5M1077 716l-0.5-3l4.5-5.5l7.5 1.5l1 7.5l-2 2.5M693.5 369l1 1l-0.5 9l-12-2M694.5 385.5l-0.5-6l0-0.5M704.5 346l8.5-2l0.5-6l-0.5-0.5M775.5 771.5l14.5-2l-0.5-5.5l-12-8l-2 0M814 842l-6-1l-4-6l2.5-4l7 1.5M807 844.5l1-3.5M800.5 836l3.5-1M797 822.5l9 3l0.5 5.5M775.5 791l7 0.5l5-4l0-6.5l-12-3.5M787.5 787.5l6 3l2 8l-1.5 1l-8-0.5l-3.5-7.5M780.5 815.5l2-7.5l-1.5-2.5l-5-1.5M794 815l0.5-2l-2.5-3l-9.5-2M786 799l-5 6.5M792 810l2-10.5M685.5 403l1.5 1l8-0.5l-0.5-8.5l9-0.5l-0.5-7l-0.5-0.5l-7.5-1M733.5 287.5l-0.5 6.5l-2 1.5l-7-1M740 286.5l2.5 2l-0.5 6.5l-2 1.5l-7-2.5M750.5 262l8 1.5l0 6l-8 2l-2-1.5M760 262l-1.5 1.5M742.5 288.5l7-2l-0.5-7l-8.5-1M750.5 271.5l0.5 6l-2 2M990.5 245l1 1l1 7.5M991.5 246l8.5-0.5M1021.5 269l-3-5M1027.5 260l2 6l-6.5 4M1038 257l0.5 5l-6.5 4l-2.5 0M1051 255.5l-3 9.5l-9.5-3M1054.5 267.5l-6.5-2.5l-3.5 9.5l-7.5 0.5l-3.5 7l1 1.5M1064 706l-2-2l-11-0.5l0 8.5l5 2l8-8l1 0l3 4l-1.5 5M1207.5 398l5 5.5l-4 7.5l-5 1l-4.5-3l-1-9l9.5-2l2.5-7l10-2.5l2.5 2.5l-5 11.5l-5 1M1270 483l6-5l-0.5-2.5l-6.5-1.5M1268 473.5l-1 0l-0.5 2.5l3 5.5M1232.5 437l5 0.5l3.5-4.5l-1.5-6l-7.5 2.5l0.5 7.5l-2 1l-5-2l-0.5-2.5l3.5-6.5l3.5 2.5M1352.5 283.5l-1.5-3.5l-14 0l-4 5l2 7.5l14 3M1329 302.5l6-10M1321.5 281.5l11.5 3.5M1336.5 267.5l0.5 12.5M1356 270.5l-5 9.5M1092.5 320l-4.5-0.5l-1-8.5l4.5-1.5M1083 300l3.5 11l0.5 0M1230.5 290l1.5 1.5l-1.5 7.5l-7 1.5M1245 292l-3.5 11.5l-4.5 1l-6.5-5.5M1242 289.5l-10 2M1209.5 327.5l-1.5 3.5l-4 3l-10-2l-1.5-3M1190.5 338l3.5-6M1308 318l-7.5 4l1.5 14l6.5 3.5M1290 313l2.5 6l8 3M1303 371l-1-8l2-3.5l14.5 4.5M1327.5 352l-1 9M1310.5 346.5l-6.5 11l0 2M1274.5 352l9 1.5l0.5 5.5l-7 6.5l-9.5-4l7-9.5l-4.5-8.5l3-6l10 0.5l1.5 14.5l-1 1M1222 322l4 5.5l7.5 0l7-6.5l-6-7.5M1237 304.5l-3 6M1208 331l10 6l5-1.5l3-8M1241.5 303.5l6 4.5l-2.5 13l-4.5 0M1233.5 327.5l6 12l-1 1l-10.5 2l-5-7M1230.5 376l-0.5-12l-8.5-1l-5.5 13.5l2.5 2.5l12-3l6.5 4.5l8.5-10.5l3-0.5l0.5-0.5l-3.5-14l-6-1.5l-5 3l-2.5 6l13.5 7.5M1088.5 709l5.5-4.5l8.5 1.5l1.5 4l-2 7.5l-0.5 0.5l-12-1.5M1081 707.5l0-0.5l4-7.5l3-1l5 4l1 2M1082.5 677.5l-4.5 0.5l-1.5 4.5l3.5 3l5-3.5l-1-3.5l-1.5-1l0-6l-5.5-1l-0.5-1.5l3-3.5l3.5 0.5l1 4l-1.5 1.5M694 379.5l9-2l-0.5-6l-8-1.5M702.5 387l1.5-8.5l-1-1M705.5 352.5l7.5 1.5l1.5-1l1-6.5l-2.5-2.5M1041.5 666.5l-7 2.5l-2-8l5-2.5l5 2.5l-1 5.5l2 2l5 0l4-5l-7-4.5l-3 2M806 825.5l1-1.5l3.5-1M794.5 813l7-2l5.5 4l0 9M1051 712l-5.5 3l-7-10.5l1-2l9.5-1l2 2M775 704.5l7-5l1-5l-2.5-2.5l-7.5 0M731.5 534l0-5l-8.5-1.5l-3 2l-0.5 2.5M711.5 521.5l8.5 8M721.5 518.5l2.5 2l-1 7M722 511l0-0.5l0-6.5l-1-1.5l-8.5 1.5M684.5 418.5l0-5.5l2-1.5l8.5 1.5l-0.5 6.5M695 413l1.5-1.5l-0.5-7.5l-1-0.5M687 404l-0.5 7.5M678.5 411l6 2M696 404l7-1.5l2.5 2l-0.5 7l-1 1.5l-7.5-1.5M981.5 253.5l-9 0M972 254l0.5 8.5l0.5 0.5l8-1M713 320.5l8-1.5l0.5-6l-9.5-1.5M730.5 304l1-1l8 0l1 1.5l-0.5 6l-8 2l-1.5-8.5l-8.5 0l0.5 8l-1 1M740 310.5l1.5 2l-1.5 8l-8-2l-1-5.5l1-0.5M740 296.5l-0.5 6.5M731 295.5l0.5 7.5M731 313l-8.5-1M767.5 263l0.5 0.5l10-2l-1-7l10-2l0-6.5l0.5-0.5l8.5 0l0.5 1l0 8l-0.5 0l-8 0l-1-2M1009.5 266.5l0 4l-7.5 0M992 261.5l0.5 1l7.5 0.5M1009.5 271l0-0.5M1044.5 274.5l4 6l7.5-5M1032 266l5 9M1060 286l-9.5-1M1049.5 291.5l3 5.5l1 0.5l7.5-4.5M1023 276.5l4.5 5l6 0.5M992.5 262.5l-0.5 8.5l9 0M755.5 564l12 1l3 9l-2.5 4l-12.5 6M1284 443l-5 2l-3.5-1.5l-1-6l3.5-1.5M1289.5 435l-4.5 0l-1 1M1228.5 427l-1-2.5l-8.5 2.5l0.5 3.5l5.5 3M1227.5 424.5l0.5-3.5l-6-6.5l-6 2.5l-2 6l5 4M1208.5 411l7.5 6M1222 414.5l1.5-5l-6-7M1266.5 476l-5 3.5l-4.5-3l4.5-6.5l4.5 1l1-1.5l1.5-2.5l6 0l2.5 5.5l-1.5 3M1279 483l-3.5 5l2 1.5M1276 478l3.5 2.5M1275.5 488l-2.5 0l-3-3.5M1287 463l-2.5-2.5l-4.5 2l2.5 8.5l-5.5 1.5M1283 553l-5.5-2l-2.5 6.5l4 1.5M1269.5 484.5l-8 1.5l0-6.5M843.5 246l-10.5-0.5l1 8l8 0.5l0.5 0l1-8l0-0.5l8.5 1l0 8l-0.5 0.5l-9-1M798 236.5l7 2.5l3-3l-2-7M1086.5 311l-11 1.5l-2-9.5l2.5-2.5M1063.5 294l4 9l6 0M1075.5 312.5l-1.5 3l5.5 9l4.5-1l4-4M1021.5 294l-6 9.5l4 3M1027.5 281.5l-5.5 10l-8.5-3l-1.5-3l0-3.5M1052.5 297l-7.5 3.5M1044.5 300.5l-3.5 1.5l-2-2.5M1079.5 324.5l-3 4l-10-0.5l-2-3l3-8.5l6.5-1M1067.5 303l-6 5.5l-5.5-3.5l-2.5-7.5M1067.5 316.5l-6-6l0-2M1064.5 325l-7-1l-2.5-7l6.5-6.5M1057.5 324l-4.5 3.5l4 8.5l5.5 2l4-10M1302 336l-6.5 3l-1.5 11l10 7.5M1284 359l7 6l11-2M1294 350l-9.5 2.5M1295.5 339l-9.5-3l0.5-11.5l6-5.5M1283 338l3-2M1286.5 324.5l-12.5-2l-2.5-8.5l4.5-3.5M1273 337.5l-3.5-6.5l4.5-8.5M1213.5 346l6.5 5.5l-1.5 8l-11.5 1l-5-9.5l4-4.5l7.5-0.5l4.5-9M1220 351.5l6.5-3l1.5-6M1204 334l2 12.5M1221.5 363l-3-3.5M1207 360.5l-2 5l8 10.5l3 0.5M1196.5 351l5.5 0M1270 343.5l-6 2l-4 10.5l1.5 3l5 2.5l1 0M1266.5 361.5l-1 11l-12 2l-5-5M1261.5 359l-12.5 10M1260 356l-9.5-4.5l-5 3.5M1230 364l2-1.5M1226.5 348.5l8 8M1238.5 340.5l1 13M1115 362.5l-4.5-10.5l-10 4l6.5 11.5l1 6.5l-8.5 6.5l3.5 6.5M1196 375l-6.5 10l7.5 5.5l7-4l0.5-5.5l-8.5-6l-1-4.5l10-5M1213 376l-8.5 5M1220 388.5l-1.5-9.5M1210 391l-6-4.5M1198 400l-1-1l0-8.5M1175 362.5l-4 7.5l8 8.5l10-12l0-0.5l-14-3.5l-1-2.5M1171 370l-6 1.5l-4.5-2.5M1190.5 355l-1.5 11M1195 370.5l-6-4M1175.5 393.5l8-2l4 8l-5 7l-8-4l1-9l-6.5-6l10-9l8 7l2.5-0.5M1182 430.5l-6.5-4l-2.5 4l1 3.5l4.5 2.5l3-1l0.5-5l2.5-1.5l2-4.5l-8.5-6.5l6-7l-1.5-4.5M1148 376.5l-5.5 9l-1 0l-3-3.5M1178 418l-3 1.5l-5.5-2l-5.5-8.5l1.5-3l9-3.5M1197 399l-9.5 0.5M1187 385.5l-3.5 6M1199 409l-9 4l-6-2M1105.5 326l-3 9l7 0.5M1080 685.5l0.5 3l5.5 1l1-1l-0.5-5l-1.5-1.5M1080.5 688.5l-2.5 2l3.5 4.5l4-2l0.5-3.5M1085 699.5l-4-3l0.5-1.5M1088 698.5l0-3l-2.5-2.5M1078 678l-3.5-3l-3.5 0.5l0 6.5l4 1.5l1.5-1M1058 670.5l0.5-1l4-2.5l5.5 3.5l1 4l-6 3.5l-5-7.5l-6 4l-3.5-6M1075 683.5l-1 6l0.5 1.5l3.5-0.5M1216.5 739l-8-3l-5.5 6l6 8.5l7.5-1.5M1233 775l-4 3l-6-3l-2.5-10l3-4M1208.5 736l-1-6l-12-2.5l-2.5 12l3 2.5l7 0M1200 717.5l-4.5 9.5l0 0.5M713 354l0 8l-9.5 0l0.5 7.5l-1.5 2M1058.5 669.5l-6-6l5-5.5l4.5 1.5l1.5 2.5l-1 5M756 589l16 3l3-5.5l-7-8.5M806.5 564.5l6.5 0.5l4.5 11.5l-1 2.5l-3.5 1l-10-5l3.5-10.5l-1-1l0-9.5l1.5-1.5l-1.5-8l0.5-0.5l9 0.5l0.5 1l8.5-0.5l1 8l0 0.5l-10-1.5l0.5-6.5M810 775.5l0 0.5l-6.5 10l-3.5-1l-6.5-9.5l0.5-2l4-1.5l12 3.5l0.5-15.5l9.5 5l1.5 6l-4.5 6l-1 0.5l-6-1.5M820 765l5.5-4.5l-1.5-6l-6-1.5l-7.5 7l-1-0.5l-6.5 1l-5 11.5M789.5 764l6.5-8l7 4.5M790 769.5l4 4M793.5 790.5l6.5-5.5M787.5 781l6-5.5M811 805l-6.5-2.5l-1-3l4.5-7l8.5-0.5l-0.5-14.5M803.5 786l4.5 6.5M795.5 798.5l8 1M801.5 811l3-8.5M807 815l2.5-1.5M817 777l8 3.5M821.5 771l9.5 0l2 2M825.5 760.5l5 2l0.5 8.5M1076.5 713l-8.5-3M1101.5 718l-4 8M776 646.5l9 5.5l-4 8l-3.5 1l-8-6.5M703 402.5l1-7.5l-0.5-0.5M973 263l-0.5 6.5l-8.5 2.5l-1.5-1.5l1-8l9 0M962.5 270.5l-8.5 0.5l0 0.5l0 7l9 0.5l1.5-2l-0.5-5M758.5 269.5l2 2l-0.5 7l-0.5 0.5l-8.5-1.5M752 288.5l7-2.5l2 1.5l0.5 7.5l-3 2.5l-6.5-3.5l0-5.5l-2.5-2M759.5 279l-0.5 7M742 295l6.5 2l3.5-3M760 278.5l9 0l-0.5 8.5l-7.5 0.5M740.5 304.5l8.5-0.5l0.5-0.5l-1-6.5M741.5 312.5l8 0.5l0.5-0.5l-1-8.5M758.5 297.5l0 6l-9 0M983.5 271l-0.5 7.5l-1 1l-8-2l0-6l9-1.5l0.5 1l8.5 0l0 7.5l7.5 1l1-1M724 520.5l6.5-2l-0.5-6.5l-8-1.5M731.5 529l1.5-1.5l-0.5-7.5l-2-1.5M895 578l2-4l11-4.5l4.5 5.5l-3 7l-8.5 0.5l-6-4.5l-7.5 2l-4.5-5l1-10l5-2l5 0.5l3 10.5M833 553l1 7l9 3.5l0-10.5l-9.5-1l-0.5 1l-8 0M817.5 576.5l11-6l-1-5.5l-4-3l-8 0.5l-2.5 2.5M786.5 639.5l7.5-7l-2-6.5l-5.5 0l-8 10.5l8 3l2.5 6l7.5-1l3-6l-0.5-2.5l-5-3.5M789 645.5l-3.5 6l-0.5 0.5M777.5 637l1-0.5M777.5 619l9 7M792 626l0.5-1l9.5-3l6.5 4l0 3l-9.5 7M757.5 597l9 5l8-3.5l-2.5-6.5M715 468l7 2.5l-0.5 7l-0.5 0.5l-6.5 0M721 478l1 9l8-1l0.5-8l-9-0.5M807 552.5l8-0.5l0.5 10.5M823.5 562l1.5-8.5M834 560l-6.5 5M1274.5 467l4-5l-1.5-1.5l-5.5-1.5l-3 5l0 3M1278.5 462l1.5 0.5M1174 434l-4 5.5l5.5 4.5l1 0l2-7.5M1175 419.5l0.5 7M1190 413l2.5 9.5l-6 2M1203.5 412l-1.5 10l6.5 3.5l1.5 0l4-2.5M1196.5 443.5l-2-5l-6.5-0.5l-1.5 1l-1 4l4 5l1.5 0l5.5-4.5l0.5 0l4 6l-5 3.5l-2.5-0.5l-2.5-4.5M1189.5 448l-4 4.5l-5-1l-0.5-6l5.5-2.5M1176.5 444l3.5 1.5M1181.5 435.5l5 3.5M1184.5 429l4.5 3l-1 6M1200.5 434l-4 1.5l-4-5.5l2-6.5l4.5 0l1.5 10.5l3 1l5-9.5M1202 422l-3 1.5M1194.5 438.5l2-3M1189 432l3.5-2M1192.5 422.5l2 1M1271.5 491l-1 2.5l-2.5 0.5l-4-1l-2.5-6.5l0-0.5M1273 488l-1 2.5M1193.5 452.5l-2.5 4l-4.5-0.5l-1-3.5M1192.5 801.5l7-4.5l9.5 6.5l-0.5 10M1220.5 817l6-10l6.5-1.5l2 2M1209 803.5l8-5.5l9.5 9M1217 798l1.5-5.5l-5.5-8l-12.5 5.5l-1 7M1264 493l-2.5 2.5l0 5.5l6 0l0.5-7M1275 557.5l-4 2.5l2 4M1225.5 436l-4.5 3.5l0 4l1.5 1.5l5 0l2-1.5l1-5.5M1271.5 459l-2-4.5l1-3l7 0.5l0.5 0.5l-1 8M1249 480l-1 3.5l4 3l4-0.5l-2-8.5l-5 2.5l-4.5-3.5l2.5-6l5 2l4.5-5l2 0l3 2.5M1261.5 486.5l-4 0l-1.5-0.5M1254 477.5l0.5-0.5l2.5-0.5M1252 472.5l2.5 4.5M1223.5 409.5l10-4l6.5 10l-1.5 2.5l-10.5 3M1239.5 427l0.5-1.5l-1.5-7.5M1222.5 391l9 2l2.5 9.5l-0.5 3M1237 380.5l1 6l-6.5 6.5M926.5 224.5l0 3.5l3.5 2.5l5.5-2.5l2.5 1.5l8-2.5M842 254l0 8l1.5 1.5l9-1.5l-1-7M835 229.5l0 8l8.5 0.5l0.5-0.5l0-8l-2.5-2M843 221l8.5-0.5l0 8l-7.5 1M851.5 213l0 7.5l8.5 0.5l1.5-8M816.5 229l0 7l-1 1l-7.5-1M833.5 263l-8.5 0l-0.5 7.5l8.5 1l1.5-1.5l-0.5-6.5l-0.5-0.5l0.5-9.5l-9.5 1l0 8l0.5 0.5M842 262l-8 1.5M824.5 270.5l-1 0.5l0.5 7.5l9 0.5l0-7.5M1031 309.5l4 1l6-3.5l0-5M1056 305l-10 5.5l-5-3.5M1028.5 322.5l7 0l-0.5-12M1055 317l-7.5-1.5l-1.5-5M1053 327.5l-7.5 0l-3-3l5-9M1035.5 322.5l2 1.5l-4.5 10l-6-0.5M1037.5 324l5 0.5M1265.5 372.5l2.5 3l-2 11l-5.5 0.5l-6.5-5.5l-0.5-7M1238 386.5l6.5 1.5l9.5-6.5M1270 313.5l-9.5 2.5l-6.5-9.5l2.5-4l8.5-0.5l5 11.5l1.5 0.5M1268.5 296l-3.5 6M1252.5 291.5l4 11M1247.5 308l6.5-1.5M1264 330l-7-9l-9 2l1.5 14.5l2.5 1.5l0.5 0l11.5-9l5.5 1M1260.5 316l-3.5 5M1264 345.5l-11.5-6.5M1239.5 339.5l10-2M1250.5 351.5l1.5-12.5M1245 321l3 2M1260.5 387l-6.5 11.5l-2.5 1l-7-11.5M1234 402.5l17-2.5l0.5-0.5M1296.5 406.5l-9 2.5l-7.5-6l-0.5-4l11.5-3.5l5.5 11M1149.5 390l6.5-6.5l8 1l2.5 3l-4.5 8.5l-11-1l-1.5-5l-7-4.5M1151.5 374.5l4.5 9M1165 371.5l-1 13M1165.5 406l-3.5-10M1169 387.5l-2.5 0M1115 363l-8 4.5l-11.5 2l-2.5-8.5l3.5-6l4 1M1100 341l-2.5 1.5l-10.5-3l2.5-8l6-2l6.5 6l-2 5.5l12.5 7l-2 4M1093.5 686.5l-3 2.5l1.5 4l3 1l2.5-1l0.5-2.5l-4.5-4l0-1.5l-2.5-2.5l-4.5 1M1087 688.5l3.5 0.5M1088 695.5l4-2.5M1093 702.5l2-8.5M1069 695l4.5-1.5l3 6l0 1l-9.5 3.5l2-9l-5-3.5l-5 2l3 10.5M1081 696.5l-4.5 3M1074.5 691l-1 2.5M1081 707l-4.5-6.5M1065 706l2-2M1182.5 765l2.5 3.5l-2.5 12l-6 0.5l-4.5-5.5l2-7.5l8.5-3l0.5-8l0.5-0.5l12-0.5l0.5-14M1183.5 799l4-15l6.5-1l6.5 7M1173 786l3.5-5M1187.5 784l-5-3.5M1204.5 771.5l-5 0l-2.5-2l-1-13l10.5-1l4 9.5l-6 6.5l8.5 12l0 1M1194 783l5.5-11.5M1213 783.5l10-8.5M1220.5 765l-10 0M1209 750.5l-2.5 5M1185 768.5l12 1M1195.5 756l0.5 0.5M704 413l0.5 5.5M705 411.5l8 1l-1 6.5M730.5 370.5l1.5 8l8 0l0.5-1l0-8l0-0.5l-10 1.5l0.5-8.5l-1-0.5l-7.5-0.5l-1 1.5l1 8l8 0M703 387.5l10-1.5l-1-7l-8-0.5M901 606l9-2.5l3 3l-1 8l-7.5-0.5l-3.5-8l-3-1.5l-0.5-1l-8-6l0-6.5l9.5 0l2.5 3.5l-4 9M1170 439.5l-4 0.5l-1-1.5l-0.5-2.5l3.5-5.5l5 0M1169.5 417.5l-5.5 6.5l0 2l4 4.5M1164.5 436l-5.5-5.5l5-4.5M1164 409l-6.5 1.5l-7-3l-1-10l1.5-2.5M1164 424l-9.5-3l3-10.5M1159 430.5l-4 0.5l-3.5-7.5l3-2.5M1130 388l7 2l4.5-4.5M813 580l-8 9.5l-7-7.5l0-4.5l5-2.5M770.5 574l6.5 0l6.5 8l-2.5 3.5l-6 1M834 752.5l7-6.5l3 0.5l1 9l-5 5l-4-1.5l-2-6.5l-5.5-2l-4.5 4M836.5 772.5l5.5-7.5l-2-4.5M830.5 762.5l5.5-3.5M847 767l-5-2M854 762l-1-4l-8-2.5M844 746.5l8-3.5l4.5 8l-3.5 7M841 746l-4-6l1.5-8l8.5-1l5 11.5l0 0.5M796.5 644.5l3.5 6.5l7-2l2-6l-9.5-4.5M808.5 629l4 6l-3.5 8l12.5 3.5l0 2.5l4.5 11.5l10.5-5l0.5-3l-3-5l-12-1l-0.5 0M813 679.5l1 8l-12 2.5l-3-7.5l2.5-5l11.5 2l3-4l5.5-1l6.5 4.5l6-8.5l-8.5-9l-1 1l-3 12M799 682.5l-7.5 1l-2.5 9l8 3.5l4-2.5l1-3.5M814 687.5l0.5 0.5l0.5 8.5l-3 4.5l-2 0.5l-9-8M816 675.5l-4.5-7.5l3-5.5l10 0M989 748l0.5-5.5l-7.5 0l-5 7.5l1.5 1M1049 701.5l1.5-5l8.5-3.5l0 0.5M1074 689.5l-7.5-3.5l-2.5 5.5M1071 682l-4.5 3.5l0 0.5M1063 678l-1 2.5l4.5 5M1069 674.5l2 1M1052 674.5l-0.5 2l5.5 5.5l5-1.5M1059 693l-3.5-7l1.5-4M785.5 651.5l11 6l5 3l2 8l-3 5l-11-3.5l0-2.5l7-10l3.5-6.5M801.5 660.5l9.5-3l0-2.5l-4-6M781 660l8.5 7.5M811 657.5l3.5 5M811.5 668l-8 0.5M801.5 677.5l-1-4M722 470.5l2.5-2l6.5 2.5l0 7l-0.5 0M926 343.5l0-7l10 1.5l-0.5 6.5l-6 2l-3.5-3l-7 3l-1.5-1.5l-2-8l0.5-0.5l10-0.5l0 0.5M917.5 345l-8.5 1.5l-1.5-1.5l1-8l7 0M730 321l-8-1l-1 8.5l1 1l8.5-2l-0.5-6.5l2-2.5M721 319l1 1M713.5 328l7.5 0.5M713.5 338l8.5-1.5l0-7M731 337.5l-8.5-0.5l0 8l2 1.5l7-2l-0.5-7l1-1.5l-1-8l-0.5-0.5M722 336.5l0.5 0.5M724.5 346.5l0 5.5l6.5 2.5l2-1.5l0.5-7.5l-2-1M715.5 346.5l7-1.5M724.5 352l-3 3l-7-2M740 320.5l0.5 0.5l-0.5 6.5l-9 0.5M740.5 321l9-1l1-1l-1-6M732 336l7 0l2-7.5l-1-1M733.5 345.5l7-1l0-6.5l-1.5-2M824 297l-7-2.5l-3 1.5l0 8l9.5-0.5l0.5-6.5l3-2.5l-0.5-6l-3-2l-6 1.5l-3-2.5l0.5-6.5l8.5 0l0 7.5M796.5 254.5l9.5-0.5l0 0.5l0 7l-1 0.5l-8 0.5l-1-8M796.5 246.5l9-1l0.5 8.5M796.5 237.5l-0.5 8M787 239l0.5 6.5M814.5 245.5l0.5 8.5l0 0.5l9-0.5l-0.5-8l-8.5-1l-0.5 0.5l-9 0l-0.5-6.5M777.5 246l9.5 0M788 254.5l-1.5 7.5l-8.5-0.5l0 8.5l9 1l-1 8l0.5 0.5l-0.5 5.5l-6.5 3l-2.5-1.5l-0.5-7.5l1-1l0.5-7.5l-9-0.5l0.5 8l7 1M786 279l-8.5-1M768.5 287l2.5 2l6-2.5M769 278.5l0.5-0.5M778 270l0 0.5M768 263.5l1 6.5l-8.5 1.5M798 289l-2.5-2l-6 1.5l-1 6.5l9 1l0.5-1l0-6l7.5-2.5l-1-7l-7.5-1.5l-1.5 1.5l0 7.5M798 295l7.5 1.5l2.5-2.5l-0.5-6l-2-1.5M786 285l3.5 3.5M786.5 279.5l9 0M788.5 295l-1.5 1l-6-1l-1.5-7M808 294l6 2M805.5 296.5l0 8l8.5-0.5l1.5 8l8 0.5l0-0.5l0.5-8l-0.5-0.5M787 296l1.5 7.5l8 0l1-7.5M768.5 303.5l9 1.5l1-8l-8-2.5l-2 2l0 7l-0.5 0l-9.5 0l0 7l0.5 0.5l8 1l1-8.5M771 289l-0.5 5.5M761.5 295l7 1.5M781 295l-2.5 2M767.5 312l10 0l0 7.5l-8.5 1.5l-1.5-1.5l0-7.5l-0.5 0M777.5 319.5l0.5 0.5l1 8.5l0 0.5l-10.5 0l0.5-8M750 312.5l8.5-2M759 311l0 9.5l8.5-1M759 320.5l0 0.5l-8.5-2M1011.5 329.5l-10.5-1.5l-0.5 9l9.5-0.5M1012 329l-1.5-8.5l-9-0.5l-0.5 8l-9 0.5l-1 1l1 6.5l8 1.5l0.5-0.5M1010.5 320.5l2-3l3-0.5M1078.5 337.5l-3 2.5l-1.5 9l8.5 3l2-1l2-11.5l-8-2l-2-9M1062.5 338l0.5 0l12.5 2M992 328.5l-1-7l1-1l8.5-1.5l1 1M742 528l8 0l0.5-0.5l0.5-7l-1.5-2l-7.5 1l-0.5 8.5l0.5 0l-0.5 7M751 535l-1-7M733 527.5l8.5 0.5M742 519.5l-2-1.5l-7.5 2M749.5 518.5l0.5-8l-10 0l-8.5 0l-0.5-8.5l9 1.5l0 7l0 7.5M730 512l1.5-1.5M722 504l9-2l0-6l-9.5-1.5l0-7l-7.5-1M861 537l1.5-1.5l8 1.5l0.5 6.5l-9 1.5l-1.5-2l0.5-6l-9-2l-0.5 0.5l0 7.5l1 0.5l8-0.5M871.5 576l-1.5 11l-7 1l-6-8.5l1-3l13-1.5l0.5 1l11.5-1M887.5 580l-1.5 6.5l-9.5 4.5l-1.5 0l-5-4M876.5 591l6.5 11.5l-1 4l-8.5 1.5l-5-4.5l6.5-12.5M910.5 596l10.5 0l0.5 0l1-6l-1-2l-10.5-2.5l-2 8.5l1.5 2l-0.5 7.5M921 596l-1 8.5l-7 2M912.5 575l3-0.5l8 4l-2 9.5M909.5 582l1.5 3.5M923.5 578.5l6-2l1.5 0l4 6l-3.5 6.5l-9 1M909 594l-7.5 0.5M901 582.5l-2 8.5M886 586.5l3.5 4.5M883 602.5l6.5-5M894 563.5l3.5-2l10 1.5l0.5 6.5M907.5 563l0.5-0.5l9-1.5l5 2.5l-6.5 11M929.5 576.5l-5-13l-2.5 0M852.5 543.5l0.5 9l8.5-1.5l0.5-6M898 604.5l-5 4.5l-9-0.5l-2-2M758.5 552l9 1l1-9l-1-0.5l-8 0.5M767.5 565l1-1l-1-10.5l0-0.5M777 574l5.5-6l9 5l-8 9l8.5 4l6-4M798 577.5l-6-4.5l-0.5 0M766.5 608.5l0-6.5M774.5 598.5l2.5 1.5l-3 12.5M792.5 625l-0.5-11.5l-5-3l-10 6.5M721.5 494.5l-1 1l-7.5 0M722 487l-0.5 0.5M721 502.5l-0.5-7M797.5 527.5l2-7.5l-2.5-2.5l-8.5 3.5l1 4.5l6.5 3l1.5-1l7.5 1.5l0 6.5l1.5 1.5l-0.5 7M757.5 537l10.5-1.5l-0.5-6.5l-6.5-2l-1.5 1.5l-2 8.5l0 0.5M767.5 543.5l0.5-8l9 1l-0.5 8l-8-0.5M750.5 527.5l9 1M761 527l-1.5-7l-0.5 0l-8 0.5M759.5 520l8-2.5l1-6.5l-10 0l1-9l-9.5 1.5l0 7l8.5 0.5l0.5 9M788.5 521l-1.5-1.5l0.5-8l8.5-0.5l1 6.5M799.5 520l6-0.5l1-7l-2-2.5l-8.5 1l-0.5-8l-8.5-1l-1 0.5l0.5 8l1 1M786.5 510.5l-9.5 1.5l0-0.5l0.5-9l8.5 0M767.5 529l2.5-2.5l0-5.5l-2.5-3.5M777 512l1 6l-8 3M777 511.5l-8.5-0.5l-1-8l-8-1l-1.5-8l1-0.5l0-7l-9.5-0.5l0.5 8.5l8-0.5M787 519.5l-7 0.5l-2-2M770 526.5l8 2l0 7l-1 1M780 520l-1.5 8l-0.5 0.5M789.5 525.5l-2.5 3l-8.5-0.5M805.5 544.5l-8 0l-0.5-8l8-1M796 528.5l0 7l1 1M787 528.5l0 8.5l9-1.5M778 535.5l9 1.5l0 6.5l-10 1.5l-0.5-0.5M1288 450.5l-2-1l-3 3.5l2.5 5.5l3-1.5M1277.5 452l1.5-7M1284.5 443.5l1.5 6M1278 452.5l5 0.5M1284.5 460.5l1-2M1197 443.5l6-2l0.5-6.5l5 1l3 6l5-5l-0.5-2l-3.5-2l-4 3M1203 441.5l2.5 2l-0.5 5.5l-1.5 1l-2.5-0.5M1203.5 450l0.5 4.5l-5 4.5l-3-6M1191 456.5l1.5 3l6 0.5l0.5-1M1180.5 451.5l-3 3l-2.5-0.5l-2-6.5l2.5-3.5M1173 447.5l-5 0.5l-3-4l1-4M1175 454l-3.5 1.5l-5-4l1.5-3.5M1165 444l-6.5 3.5l1 3.5l3.5 2.5l3.5-2M1237 785.5l-6-1l-3.5 6l6.5 8.5l5-3M1229 778l2 6.5M1218.5 792.5l9-2M1233 805.5l1-6.5M1277.5 551l0-0.5l1-2M1279.5 545.5l-2.5-5.5l0-0.5l7.5-1.5M1283.5 522.5l0 3l2 3.5l4.5-0.5M1285.5 537l-1-4.5l1-3.5M1219.5 453l-6-5l-3 2l0.5 7.5l1.5 0.5l7-5l0.5 0l1-1l1.5-7M1211 457.5l-2 0.5l-5-3.5M1205 449l5.5 1M1251.5 445.5l5.5-2.5l0-6l-8 1l-1.5 4.5l0.5 1.5l3.5 1.5l2 5l4.5 1l1.5-0.5l4.5 6l-1.5 3l-2 1l-4.5-2.5l2-7M1237.5 437.5l2 4.5l8 0.5M1241 433l6 1l2 4M1260.5 446.5l0 2.5l9 0.5l0.5-3l-3.5-5l-0.5 0l-5.5 5l-3.5-3.5M1266 441.5l-3-4l-6-0.5l-1-7l-5.5-0.5l-1.5-3.5l2-6.5l4-0.5l4.5 7.5l-3.5 3.5M1263 437.5l3-4.5l5.5 1l1.5 3l-6.5 4.5M1274.5 437.5l-1.5-0.5M1275.5 443.5l-5.5 3M1270.5 451.5l-1-2M1260.5 449l-1 2M1269.5 454.5l-5.5 2.5M1268.5 464l-6-4M1258.5 467.5l2-6.5M1227.5 445l1.5 6.5l5.5-1l2-3.5l-7-3.5M1239.5 442l-1.5 4.5l-1.5 0.5M1229 451.5l-0.5 1l-7.5-0.5M1221 443.5l-7.5 2l0 2.5M1220 453l3 7.5l-7.5 2.5l-3-5M907.5 217.5l0 3l0 8l-8 1l-0.5-0.5l0.5-8l8-0.5l9 1l0.5 5.5l3 3l6.5-2M898.5 215l0 4.5l1 1.5M907.5 228.5l2 1.5l7.5-3M954.5 242.5l1-5l1-1M963.5 262.5l-1.5-2M954 271l0.5-6M955.5 237.5l-8-1.5l0-9M963 279l0 7.5l2 1.5l6.5-3l1-6l-8-2M898.5 270l1 9l7.5 0l1.5-8l-10-1l0-0.5l-9 3l-0.5 5l10 2l0.5-0.5M899 279.5l-1 6.5l2.5 2.5l8-2l-0.5-6.5l-1-1M926.5 270.5l9.5-0.5l-1.5 9.5l-8.5-1l0-7.5l0.5-0.5l-0.5-8l9.5-0.5l0.5 8l8 1.5l0 7l-8.5 2l-1-1M908.5 271l0-0.5l7.5 0l1.5 8l-9.5 1.5M888.5 319.5l-9 0l0-6.5l1-1.5l8 0l0 8l1.5 1.5l-1 7.5l-9 0l-0.5-0.5l0-8l0-0.5M845.5 347l7-2.5l1 0.5l0.5 8l-1.5 2l-7.5-2l0.5-6l-3-3l0-7l-8-0.5l-1 9l1.5 1.5l7.5-3M843.5 263.5l0 6l7.5 1.5l1-1l0.5-8l8.5 1l1-9l-0.5-1l-9.5 1.5M862 254l8 1l1 6.5l-9.5 2l-0.5-0.5M843.5 245.5l0-7.5M852 246.5l1.5-1.5l-1.5-7.5l-8 0M870 213l0.5 7l-9.5 2l-1-1M880 216l-0.5 5l-8.5-0.5l-0.5-0.5M815.5 237l-0.5 8M806 254.5l9-0.5M815 254.5l0 8.5l-9-1.5M824.5 262.5l-9.5 0.5l-1 6l2 1.5l-1.5 8l-8-1l0-6.5l7.5-2M824.5 254.5l-0.5-0.5M824 246l0-8.5l2-1l7.5 2l-0.5 7l-9 0.5l-0.5 0M816.5 236l7.5 1.5M835 237.5l-1.5 1M826.5 229.5l-0.5 7M880 286l2.5 2.5l7.5-2l-1.5-8l-7.5 1l-1 6.5l-6.5 2l-0.5 6.5l7.5 1.5l-0.5 7.5l9.5 0.5l0.5-0.5l-0.5-7l-6.5-2.5l-2.5 2M898 286l-7 1.5l-1-1M889 277.5l-0.5 1M889 271.5l0-9l-0.5-0.5l-7.5 0.5l-0.5 7l8.5 2l0.5 1M881 279.5l-0.5-0.5l-1.5-8l1.5-1.5M879 271l-7.5-0.5l0-8.5l8.5-0.5l1 1M823.5 271l-7.5-0.5M806.5 271l-1-1l-0.5-8M817 294.5l0.5-6.5M814.5 278.5l0.5 0.5M824 278.5l-0.5 0.5M807.5 288l7-2.5M804.5 279.5l2-2M834.5 270l7.5 1l1.5-1.5M842 279l1 7.5l-7 1.5l-3-3l0.5-5.5l8.5-0.5l0.5-0.5l-0.5-7.5M833 279l0.5 0.5M826.5 288.5l6.5-3.5M827 294.5l5.5 1.5l3-2l0.5-6M898.5 219.5l-9 1l1 7l1.5 1.5l7 0M889 217l0.5 3.5l-9 1.5l-1-1M880 237.5l-6-0.5l-1.5-7l8-2.5l2 2l0 6.5l-2.5 1.5l0.5 8.5l8 0l0.5 7.5l-9 0.5l-0.5-1l-0.5-5.5l1.5-1.5M880.5 222l0 5.5M872.5 230l-2-1.5l0.5-8M890.5 227.5l-8 2M892 229l-2 8l-1.5 1.5l-6-2.5M889 253.5l0.5 0.5l-1 8M880 261.5l0-7.5M888.5 246l0.5-1l-0.5-6.5M871.5 262l-0.5-0.5M879 247.5l-8-2l-1 9.5l9.5-2M1102.5 335l-0.5 0.5M1084.5 351l12 4l1-12.5M1086.5 339.5l0.5 0M1096.5 324l-1 5.5M1084 323.5l4.5 6.5M1089 330.5l0.5 1M1062 342.5l5 8.5l-9.5 5l-2-1.5l-2-6.5l8.5-5.5l1-4.5M1074 349l-4.5 3l-2.5-1M1296.5 384.5l-8.5-12.5l-9 1.5l-0.5 1l2 10l14.5 1l1.5-1M1291 365l-3 7M1291 395.5l4-10M1277 365.5l2 8M1268 375.5l10.5-1M1269.5 397l10 2l0-13.5l-13 1.5l3 10l-4.5 4.5l-11-3M1266 386.5l0.5 0.5M1280.5 384.5l-1 1M1240 415.5l3.5-0.5l8-9.5l-0.5-5.5M1265 401.5l2 11l-8 1.5l-7.5-8.5M1285 435l0.5-7l-7.5 0.5l0.5 3M1292 429l-5.5-2l-1 1M1295 420l-8.5-0.5l0 7.5M1287.5 409l-3 9l2 1.5M1095.5 369.5l-0.5 0l3 10.5l1.5 0.5M1095 369.5l-9.5 3.5l-3.5-3l0-6.5l11-2.5M1082.5 352l-1.5 10.5l-10.5-2l-1-8.5M1081 362.5l1 1M1070.5 360.5l-1 1.5l-10 0.5l-2-6.5M1097.5 693l2 1.5l3 11.5l0.5 0l4.5-10.5l-1-3l-7 2M1107.5 695.5l7 2l-0.5 3l-11 5.5M1193 739.5l-10.5 2l1 15M1104 710l13 2l3.5-3.5l-6.5-8M1102 717.5l7.5 6M1117 712l0 7M834 320l-1.5 8.5l-7.5-0.5l-0.5-8l9.5 0l0-0.5l0-7l-10.5-0.5M824.5 320l-0.5-1l-0.5-6.5M779 329l-1 8l-0.5 0.5l-8.5-2l-0.5-6.5l-9 0l-0.5-0.5l0-7.5M799 353l7 1.5l-0.5 7.5l-9 1l-0.5-0.5l0-7l3-2.5l-1-7.5l-1.5-1l-7.5 2.5l0 5.5l7 3M724.5 468.5l0-6.5l-2-2l-7 3M713 362l0.5 0.5l8 0M721.5 355l1 6M731 354.5l-1 7M712 370.5l1-1l9 1l-1 6.5l-8.5 1.5l-0.5-8l-8-1M713.5 362.5l-0.5 7M712 379l0.5-0.5M722.5 370.5l-0.5 0M722 387l-0.5-0.5l0.5-7.5l10 0l-1 7l0 1l-9 0l0 9.5l9.5-1.5l0.5 8l-9 1l-1-1l0-6.5l-9-1.5l0.5-8.5l-0.5-0.5M721 377l1 2M713.5 386.5l8 0M732 378.5l0 0.5M731 386l9.5 1l0.5-1l-1-7.5M950 610.5l-4-3.5l0-8l6-2.5l5.5 6.5l-7.5 7.5l0.5 4l-3.5 5.5l8.5 10.5l3.5-2l2.5-11l9 5.5l-0.5 7l-11-1.5M935 582.5l9 1.5l0.5 0.5l-3.5 11l-5.5 2l-4-8.5M944.5 584.5l6.5 2l2.5 4l-1.5 6M941 595.5l5 3.5M921.5 596l12 4.5l2-3M1009 444.5l-1.5-8l-6-1l-1 1l0.5 8l8 0l2 1.5l5.5-2.5l-2.5-10l-3-0.5l-2.5-5l3-7l5.5 4l8.5-3l-2-8.5l-9-1.5l-1 1l-2.5 7l0.5 1M963 494l2 2l8-1l0.5-0.5l-0.5-7.5l-9.5-0.5l-0.5 7.5l-8 1.5l-1.5-1.5l0.5-7l0.5-0.5l0-8l9 0l0 7.5l-9 0.5M1045.5 659l1-4l7-2l2 1l2 4M1037.5 658.5l-1-7l4.5-3l1.5 0l4 6.5M1053.5 653l-2-9l-1.5-1.5l-7.5 6M1063.5 662l8 0l0.5 4l-4 4.5M1075.5 647l1.5-4.5l7 2l0.5 1l-5 5.5l-3-1.5l-1-2.5l-5.5-1l0.5-5.5l-5-2.5l-3.5 2.5l-1 4l1.5 3l3 1.5l4.5-3M1154 434l5 5l-3 6.5l-4-0.5l-1.5-8.5l3.5-2.5l1-3M1165 438.5l-6 0.5M1150.5 436.5l-4-1l-2-12.5l7 0.5M1158.5 447.5l-2.5-2M1104 391l5 7l2 0l2.5-4.5M813.5 597l3.5 4l1.5 4l-3.5 7.5l-12-1.5l-1-1l-0.5-3l9.5-10.5l2.5 0.5l7.5-12.5l-4.5-5.5M805 589.5l0 1.5l6 5.5M815 612.5l0.5 2l10 3.5l5.5-8.5l-2-2.5l-10.5-2M808.5 626l4.5-3l2.5-8.5M802 622l1-11M792 613.5l10-3.5M863 588l-4 5l-9-3.5l-0.5-7.5l7.5-2.5M860 608.5l-0.5 6l-9.5 2.5l-3.5-9.5l5.5-4.5l1-0.5l7 6l8.5-5l-9.5-8.5l0-2M850 589.5l-4.5 4.5l6.5 9M859 595l-6 7.5M832.5 598l-4-4l-0.5-7.5l3-1.5l7 1l4 8l-3.5 4l-6 0l-3.5 9M817 601l11.5-7M831 609.5l5 1.5l6-4l-3.5-9M842 607l4.5 0.5M845.5 594l-3.5 0M849.5 582l-5-2.5l-6.5 6.5M821 584.5l7 2M831 585l1-12l-3.5-2.5M859.5 644l3.5-0.5l5-6l-9-9l-6 12l6.5 3.5l-2 9l-6.5 1.5l-4.5-8l1.5-5.5l5-0.5M813 623l9.5 5.5l-3.5 6.5l-6.5 0M810 701.5l-6.5 8.5l-8-3l1.5-11M782 699.5l9 9.5l-2.5 4.5l-13-2M783 694.5l6-2M791 709l4.5-2M784.5 724l2-1l2.5-3.5l-0.5-6M768.5 676l11 8l7.5-4l0-7l-15-0.5l-3.5 2.5M791.5 683.5l-4.5-3.5M789.5 670l-2.5 3M780.5 692l-1-8M777.5 661l-5.5 11.5M828 695.5l-4.5-8.5l5-7l9.5 5.5l0.5 7.5l-10.5 2.5l-2 3l-11-2M814.5 688l9-1M828 679l0.5 1M852 742.5l6-3l2.5-9l-7.5-5l-2.5 0.5l-3.5 5M838.5 732l-5.5-5l0.5-6l9-5l8 10M920.5 662l-7-3.5l-4 2l-2.5 10.5l11 0.5l2.5-9.5l3-1.5l2-4l-2-8l-10 1l0 9M856.5 751l4.5 0.5l2.5 3.5M861 751.5l6-5.5l4.5 3M858 739.5l8.5 2.5l0.5 4M860.5 730.5l3-0.5l8 6.5l-5 5.5M879 744.5l-7-8l-0.5 0M993.5 741.5l-2.5 0l-4.5-10.5l11-4l2.5 9.5l-6.5 5l5.5 7.5l6.5-1l1.5-5M991 741.5l-1.5 1M1008 752l-2.5-4M970.5 755l1-4l-9.5-2.5l-0.5 3M977 750l-3.5-0.5l-2 1.5M982 742.5l-5.5-8l-3.5 0.5l-3 3l3.5 11.5M986.5 731l-5-2l-5 5.5M970 672.5l-8.5 4l-2.5-2l-2-7l3-7l11 4.5l1 3.5l-2 4l6.5 7l-5.5 7l8 8l1-0.5l4-7l-3.5-7.5l-4 0M957 667.5l-10.5-1l-2.5 3l4 8l11-3M981.5 668.5l3.5-5l9.5 2l-3.5 11l-7.5-0.5l-2-7.5l-9.5 0M985 663.5l-3-5.5l-6-2l-5 9M997 666.5l10-2l1.5 2l-1 6l-4.5 2l-6-8l-2.5-1l2-6.5l-7-9l-7.5 8M1038.5 704.5l-1 0.5l-5 10.5M1002.5 696.5l8-5.5l2.5 2.5l-2.5 11.5l-8-0.5l-10.5-2.5l-1.5-5.5l5.5-7.5l6.5 7.5l0 8l-2 7l4 9.5l11.5-7.5l2 3.5M997.5 727l0.5-1l-8.5-7.5l-8.5 5l0.5 5.5M983.5 676l-3 3.5M1042 691.5l-8-2l-2 2l0 2.5l7.5 8.5l2.5-11l4-2.5l4.5 7.5M961.5 676.5l0.5 5.5l3 4l6 0.5M948 677.5l-2.5 5.5l0 1l6.5 2.5l10-4.5M972.5 269.5l1.5 2M972.5 279l1.5-1.5M983 263.5l0 6.5M971.5 285l4 3l6.5-2l0-6.5M983 278.5l8 1l1-1M936 338l1-0.5l7.5-0.5l1 1l0 7l-7.5 1.5l-2.5-2M929.5 346.5l0 6l-2.5 2.5l-8-3.5l0-5M927 320l0.5 0.5l7.5 0l0-0.5l0.5-7.5l-9-0.5l-0.5 0.5l1 7.5l-9.5 0.5l0 7l-0.5 0.5l-9 0l0-8.5l9.5 1l0.5-8.5l-0.5-0.5l-9.5 1l-0.5 7l0.5 0M908.5 337l-0.5-0.5l-0.5-8l0.5-0.5M916 336.5l1-8.5M919 351.5l-2 2.5l0.5 7.5l0.5 0.5l8-1l0.5-0.5l0.5-5.5M909 346.5l0.5 7l7.5 0.5M832.5 328.5l1 0.5l9.5-1l-1-7.5l-8-1M833.5 345.5l-7.5 0l-1.5-1.5l-0.5-6.5l9.5-2l1 1M834 312l0-7l0-0.5l8-2l0.5 1l1 8l-9.5 0.5l0 0.5M824 304l10 1M835.5 294l6.5 2l0 6.5M832.5 296l1.5 8.5M787.5 271l-0.5-8.5l9.5 0l0 8l-0.5 0.5l-8.5 0l-0.5 0M786.5 262l0.5 0.5M797 278l-1-7M797 262.5l-0.5 0M805.5 270l-9 0.5M805.5 304.5l0 0.5l-0.5 7.5l10 0l0.5-0.5M805.5 305l-9-1.5l-0.5 9.5l9 0l0.5 6.5l-9.5 2.5l-1-1.5l0.5-7.5l0.5 0M788.5 311l-0.5-7l-10.5 1l0 7l9.5 0.5l1.5-1.5l7 2M787 312.5l-0.5 7l-8.5 0.5M788.5 303.5l-0.5 0.5M972.5 336.5l-8.5 0.5l-0.5 7.5l1.5 1.5l8-1.5l-0.5-8l0.5-0.5l0.5-6.5l9 0l-0.5-9l-8 1l-0.5 8l-9.5-2l0-7.5l8.5-0.5l1.5-7l-1.5-2l-8.5 1.5l0 8l-9-0.5l-1-7.5l10 0l-1.5-8.5l1-1l0-6l2.5-3l8 2.5l-1 8l-9.5-1.5M991 321.5l-8-1.5l-1 0.5M991 329.5l-8.5 0l-0.5 9l9.5-2l0.5-0.5M1034.5 337.5l10 0l2 3l0 4l-4.5 4.5l-8.5-2l-1.5-2.5l2.5-7l-1.5-3.5M1045.5 327.5l-1 10M1028.5 344l3.5 0.5M1031 352.5l2.5-5.5M1042 349l0.5 5.5l-6.5 6l-2 0M1055.5 354.5l-7.5 4l-5.5-4M1053.5 348l-7-3.5M1057 336l-10.5 4.5M1007.5 354l-4-2l-0.5-5.5l5.5-2.5M1000 337.5l0.5 7l2.5 2M1015.5 303.5l-3 0l-3 8.5l3 5.5M862.5 535.5l0-6l1-1.5l7.5 0.5l1 7l-1.5 1.5M897.5 561.5l0-8.5l1.5-1.5l9 1.5l0 9.5M899.5 543.5l-1-6.5l9.5-1.5l0.5 0l0 8.5l-9-0.5l-0.5 1.5l0 6.5M908 553l0.5-1l0-8l7.5-0.5l1.5-8l-0.5-0.5l1-5.5l-8-3.5l-3 3l1 6.5M861.5 562l1 2l7 1.5l1.5-1.5l0.5-10.5l-1-0.5l-7.5 0l-1.5 9l-8.5-2.5l-0.5-6.5l0.5-0.5M861.5 551l1.5 2M858 576.5l-1-4.5l5.5-8M871 575l-1.5-9.5M871.5 553.5l8-0.5l0.5-0.5l0-7.5l9-0.5l1-8l-1-7l1.5-2l8.5 0.5l-1 8.5l-8 0l-9.5 0.5l-0.5 8l-9-1.5l-0.5 9.5M884 565l-2.5-2l-10.5 1M881.5 563l-2-10M848.5 568l-1.5-3l-4-1.5l-8 9l9.5 6.5l4-11l8.5 4M853 559.5l-6 5.5M844.5 579.5l0-0.5M832 573l3-0.5M843 553l1-1l8.5 1M861 616l10.5 0l3 6l0 2.5l-13 1.5l-0.5-10l-1.5-1.5M873.5 608l-2 8M850 617l-0.5 1.5l1 6.5l8.5 3.5l2.5-2.5M868 637.5l6-1.5l1.5-9l-1-2.5M874.5 622l9-5l0.5-8.5M923.5 648.5l0.5-1.5l-3-7.5l-6-1.5l-3.5 2.5l1 8.5l1 0.5M905.5 627l-5-9l-5.5 0l-4 4l-0.5 5.5l0.5 1l14-1l0.5-0.5l8.5-3l0.5-6l-2.5-3.5M904.5 614l-4 4M914 624l3 3l-2 11M905 627.5l0 10l6.5 3M905 637.5l-3 2l-11.5-4l0.5-7M893 609l2 9M883.5 617l7.5 5M875.5 627l15 0.5M874 636l4 3.5l10-1l2.5-3M767.5 553.5l10-1l-0.5-7.5M784 595.5l8-3.5l5 3.5l-0.5 6l-10 2.5l-4-5l1.5-3.5l-3-10M792 586l0 6M777 600l5.5-1M787 610.5l-0.5-6.5M801.5 607l-5-5.5M805 591l-8 4.5M805 529l2.5-2l-0.5-6.5l-1.5-1M834 512l-1 6.5l2 1.5l8-1l-1-8l-8 1l-1-1.5l-9 0l-0.5-7.5l-8.5-0.5l0.5-8l8 0l0.5 8l-0.5 0.5M807.5 527l6.5 2.5l0.5 6l-8 1.5M815 544.5l0.5-8l-1-1M815.5 536.5l8.5-0.5l0.5 8.5l-0.5 0.5M814 529.5l2.5-3l8.5 1.5l-1 7.5l0 0.5M795.5 503l1-1l9 1.5l-1 6.5M805.5 503.5l1.5-1l7 1l0.5 7l-8 2M844.5 526l0.5-5.5l6.5-2l3.5 2.5l-0.5 6.5l-2.5 2l-7.5-3.5l-2.5 2l-6-1l-2.5 2l0.5 8l8-1l0-8M862.5 529.5l-8-2M852 535l0-5.5M855 521l6.5-2.5l2 1.5l0 8M833 510.5l0.5-8l-0.5-0.5l-9 0.5M1205.5 443.5l6-1.5l2 3.5M1210 425.5l2.5 7.5M1219.5 430.5l-3.5 4.5M1221 439.5l-4.5-2.5M1163 453.5l0.5 4.5l5 3.5l0.5 0l0.5 0l2-6M1270.5 493.5l4.5 4l-1.5 5.5l-3.5 0.5l-2.5-2.5M1279 496.5l-4 1M1283.5 509.5l-5 1.5l-1.5-1l-1-5.5l4.5-2M1281.5 518.5l-3-1l0-6.5M1273.5 503l2.5 1.5M1270 503.5l-2.5 5l1 3.5l8.5-2M1283.5 525.5l-6 1.5l-0.5 5.5l7.5 0M1277 539.5l-1.5-6l1.5-1M1248 444l-3 7l-2.5 0l-4.5-4.5M1228.5 452.5l0.5 5.5l-4.5 3l-1.5-0.5M889.5 254l8.5-0.5l-0.5-8l-8.5-0.5M939 236l6.5 2l0 6.5l-0.5 0.5l-9 0.5l-0.5-6l3.5-3.5l-1-6.5M947.5 236l-2 2M930 230.5l-1 6.5l6.5 2.5M951 245l-5.5-0.5M936 286l2.5 2.5l0 6l-3 2.5l-7.5-3l0.5-5l7.5-3l-0.5-5.5M946 280l0 6.5l2 2l7-2l-1-7.5l-8 1l-2-1.5M938.5 288.5l7.5-2M954 271.5l-8.5-1l-1.5 1M954 278.5l0 0.5M963 286.5l-6 1l-2-1M957 287.5l-1 7.5l-2.5 2l-5-2.5l-0.5-6M938.5 294.5l6.5 2l3.5-2M925.5 286.5l-7.5 2l-1.5-1l1-8.5l8-0.5l0 8l3 2.5M926 278.5l-0.5 0M926 271l-9.5-1l-0.5 0.5M917.5 278.5l0 0.5M916.5 287.5l-7 0l-1-1M918 288.5l0.5 6l7.5 1.5l2-2M916.5 270l1-8l8.5 0.5l1-9l9 2l0 2.5M879.5 320l-9-0.5l-1-7.5l0.5-0.5l9.5 1.5M842 320.5l0.5 0l1.5-8.5l-0.5-0.5M889 337l0-8.5l9 1l1 7.5l-0.5 0.5l-9.5-0.5l-0.5 0.5l-8.5 0.5l-1-1l1-8.5M907.5 328.5l-8-0.5l-1.5 1.5M908 336.5l-9 0.5M851.5 228.5l2.5 2.5l7.5-3l-0.5-6M852 237.5l1.5-2l0.5-4.5M870.5 228.5l-6.5 1.5l-2.5-2M871 245.5l0-6l-7-2.5l-2 1.5l-1.5 7l1 1.5l9.5-1.5M874 237l-3 2.5M861.5 253l0-6M864 230l0 7M853.5 245l7 0.5M853.5 235.5l8.5 3M882.5 288.5l0.5 5.5M891 287.5l0.5 7l-2 2M880 303.5l-0.5 0.5l1 7.5M888.5 311.5l0.5-1l0.5-6.5M1272 413l8 5.5l-3.5 8.5l-2 0.5l-7-3.5l0.5-10.5l4-0.5l8-10M1284.5 418l-4.5 0.5M1267 412.5l1 1M1278 428.5l-1.5-1.5M1271.5 434l3-6.5M1266 433l-2-6l3.5-3M1243.5 415l7.5 4.5M1259 414l-4 5M1240 425.5l9 0.5M1264 427l-4.5-0.5M1247 434l3.5-4.5M1085.5 373l1.5 7l3 2.5l8-2.5M1102 390l-5.5 3.5l-7-2l0.5-9M1098 690.5l1.5-2l0-5.5l-1.5-1l-4.5 3M1174 768l-6.5-5l2-8l13.5 2M1172 775.5l-6 0M1167.5 763l-6.5 3M1169.5 755l-3.5-6.5l-5 1.5M1180 730l-9.5-4.5l-0.5-0.5l8.5-11.5l6.5 3l2 7l-7 6.5l2.5 11.5l-14.5 2l-2 5M845 353l-2.5 2l-7-2l-0.5-6M826 345.5l-1 8l7.5 2l3-2.5M824 319l-9.5 2.5l-0.5-0.5l1-8.5M825 328l-2 1.5l1 8l-8.5 0l-1.5 7l2 2l8.5-2.5M833.5 329l0 6.5M796.5 363l-0.5 5.5l1 1l8.5 2l1-1.5l-0.5-7.5l-0.5-0.5M741 328.5l8 1.5l0.5 6l-9 2M749.5 320l0 9.5l-0.5 0.5M749.5 329.5l9.5-1M778 337l9 0.5l0 7.5l-8 1l-2-2l0.5-6.5M806 354.5l1-1l0.5-8l-1.5-2l-8 2M796.5 344.5l-1-7l10.5-1l0 7M720 422l2-3l-0.5-6l-7-1.5l-1.5 1M721.5 435l1.5-7l-2-3M722 419l9 0.5l-0.5 8l-7.5 0.5M721.5 413l2-2l9 1l-0.5 7l-1 0.5M730.5 427.5l1 1l-1 8l-8.5-1M768 427.5l-9 0l-0.5-7.5l9.5-0.5l0 8l1.5 1l7-1.5l1-6.5l-9-2l-0.5 1M721.5 436.5l1 8l-6 0.5M722.5 460l-0.5-6l1-9l8 0l0.5 8l-9.5 1l-6-1M722.5 444.5l0.5 0.5M740.5 437.5l8.5-0.5l0.5-1l-0.5-7.5l-9-0.5l-0.5 0.5l0 8l1 1l0.5 7.5l-1 1l-9-1l1-6.5l-1.5-2M787.5 460l0-5.5l8.5-2.5l1 8.5l-7.5 1.5l-2-2l-8 3l-1-1.5l-0.5-8.5l-8 1l-1 7.5l9.5 0M814.5 471l3.5-3.5l-0.5-4.5l-3-2l-7 2.5l0 6l7 1.5l1 7l8-1l1-6.5l-6.5-3M807.5 469.5l-1 1l-9-1.5l2-7l4.5-1l3.5 2.5M799.5 462l-2.5-1.5M796 446.5l-9-2l1-7l7.5-1l1 1l-0.5 9l0.5 0l-0.5 5.5l9.5 2l-1.5 7M768.5 418.5l0-6l-8-2l-2 1.5l-0.5 7.5l0.5 0.5M769 353.5l1-1l1-6l-3-2.5l-8 2l1 7l8 0.5l-1 9l0.5 7l8 0l1-7.5l-9.5 0.5l-8.5-1l-0.5 8l-9 0l-9.5 0M842.5 355l0.5 6.5l-0.5 0.5l-8.5 1l-1.5-1.5l0-6M852.5 355l0 7l-9.5-0.5M741 386l9 0l-1 8l-9 0.5l0.5-7.5M731 387l0.5 7.5l8.5 0l1 7.5l-7.5 2.5l0 6.5l-1 1M796 368.5l-8 2l0 7.5l8 0.5l1-9M787 354l-1 7.5l-0.5 0.5l-7.5-0.5l-1.5-6l3.5-3l7 1.5l2-1.5M796 362.5l-10-1M789 347l-2-2M779 346l1 6.5M777.5 362l0.5-0.5M785.5 362l0.5 7l-8 2l-1.5-1.5M788 370.5l-2-1.5M740 355l0 6.5l0 0.5l10 0l0.5-0.5l-1-7l-6.5-2l-3 2.5l-7-2M731 362l9-0.5M740.5 344.5l1.5 1.5l1 6.5M740.5 369l-0.5-7M740.5 377.5l9.5 0.5l0-0.5l0-8l0-7.5M759.5 361.5l0-0.5l-9 0.5M946 607l-7 0.5l-5.5-6.5l0-0.5M920 604.5l5.5 5.5l8-9M914.5 618l11.5-5l-0.5-3M976 656l-0.5-1l-8.5-2.5l-7.5 4.5l0.5 3.5M975.5 655l2-10.5l0-0.5l-10.5-2l0 10.5M967 642l-1-1l4-10.5l9.5 2.5l1 2l-3 9M970 630.5l0-0.5M979.5 633l4-8l-3.5-5l-5-0.5l-4.5 3.5M991 589l-3.5-2.5l-8 5l5.5 9l7-3.5l-1-8l7-2l3.5 3l7.5-1.5l-2.5-7.5l-7.5 2.5l-1 3.5M1093 486l5.5-2.5l-1-7l-5 0l-1.5 1.5l2 8l-0.5 1l-8.5-3l-0.5-1.5l4-4.5l3.5 0M926.5 360.5l9.5 1.5l0.5-0.5l-0.5-7l-6.5-2M938 346.5l0.5 6l-2.5 2M926 361l1 10l8-1l1-8M944 379.5l1 6l-0.5 1l-8.5 2l-1-1.5l0-7l2.5-2l6.5 1.5l1-1.5l9 0l1 2l-0.5 6.5l-0.5 0l-9-1M935 387l-8 0l0-8.5l8 1.5M945.5 338l8-1l0.5 0.5l1.5 8l-8 1l-2-1.5M947.5 346.5l-0.5 6l-2 2l-6.5-2M954 386.5l-0.5 7.5l-8 1l-1-8.5M999.5 446l-7-1l-1.5 7.5l0 0.5l10 0l-1.5-7l1.5-1.5M992.5 445l-0.5-0.5l0-7l8.5-1M992 444.5l-10 0.5l-0.5 0.5l0.5 7.5l9-0.5M963.5 486.5l0-0.5M954.5 478.5l-0.5-1l1-7.5l2-1.5l5 2l1.5 7.5l0 0.5M973 478.5l1 7.5l7.5 0l1-8.5l-0.5-0.5l-9 1.5l-1.5-1.5l-8 1M973 487l1-1M965 496l-0.5 6.5l8.5 0.5l0-8M936 452.5l0.5-7.5l9.5-0.5l0.5 8l-0.5 0.5l-10-0.5l-0.5 1l1 6.5l2 1.5l5.5-0.5l2.5 2.5l0 5.5l8.5 1M992 437.5l-1-1l-8.5 0.5l-0.5 8M1000.5 618l2.5-3l-2-7.5l-3.5-1.5l-7 5l2.5 6.5l7.5 0.5l3 6l6 0l2.5-7l-1-1.5l-1.5-10l-8.5 2M1011 615.5l-8-0.5M990.5 611l-4.5-1l-6 10M993 617.5l-2 6.5l-7.5 1M986 610l-3-3.5l2-6M992 597l5 3l0.5 6M997 600l4.5-3l9 2.5l0 4.5l-1 1.5M1074.5 675l2.5-4.5M1072 666l4.5 3M1093.5 658l3.5 4.5l-6.5 3l-1-2l0.5-4.5l3.5-1l1-3.5l-4.5-3l-4 4l0.5 0l3.5 3.5M1074.5 634l3.5-0.5l2 4l-3 4l-3.5-2.5l1-5l-4.5-4l-3.5 1.5l-1 6.5M1084 644.5l1-6l-5-1M1077 642.5l0-1M1073.5 639l-3 1.5M1076.5 649.5l-7 4.5l-2-1l-2-4M1050 642.5l-0.5-1l5-7.5l7.5 6.5M1051.5 644l9.5 0.5M1055.5 654l7-6.5M1062 659.5l5.5-6.5M1089.5 663.5l-4-0.5l-2-2.5l3-5M1096.5 393.5l2 11.5l-6 2.5l-9-8.5l1-4l5-3.5M1109 398l-7.5 7.5l-3-0.5M1092.5 407.5l-2.5 6.5l-12.5 0.5l3-14l3-1.5M1137 390l-0.5 8l0.5 0.5l12.5-1M1115 410.5l-1-10l11.5-1.5l0 0.5l0.5 7.5l-7 4.5l-4-1l-7.5 3l-6-8M1111 398l3 2.5M1124 391.5l1.5 7.5M1136.5 398l-11 1.5M1130.5 423.5l10.5 1.5l3.5-2l-3-11.5l-2.5-1l-5.5 1.5l-5 10.5l2 1l2 9l5 2.5l3.5-10M1150.5 407.5l-9 4M1146.5 435.5l-2 1l-7-0.5l0-1M1126 407l7.5 5M1137 398.5l2 12M1001 395l-0.5 0.5l1.5 7.5l0.5 0.5l10.5-0.5l2-3.5l-4-5l-10 0.5l1-7l9-1.5l0 8M1017 425l0 6.5l-3 2M1013 403l1.5 9M1013.5 413l-11-2l0-7.5M1036 360.5l2.5 5l9.5 1.5l0-8.5M1038.5 365.5l-3 7M1059.5 442l6.5-3l-5.5-7l-6.5 3l-1.5 3.5l7 3.5l-1.5 8l-5.5-2l-2.5-7l0.5-1l2-1.5M836 611l2 8l11.5-0.5M825.5 618l1 2.5l10 2l1.5-3.5M822.5 628.5l1-0.5l3-7.5M830.5 718.5l-11 1.5l-4-3.5l4-7.5l7-2l1 0.5l3 11l3 2.5M826 698.5l0.5 8.5M812 701l7.5 8M803.5 710l0.5 0.5l11.5 6l-7 8.5l2.5 6.5l-11 6.5l-3.5-2.5l4-13l0.5 0l7.5 2.5M817 744.5l9.5-1.5l0.5-1l-2.5-10l-4-1.5l-6.5 2.5l1 10.5l2 1l1 8.5M828.5 750.5l-2-7.5M809.5 759.5l-2-13l7.5-3M837 740l-10 2M833 727l-8.5 5M819.5 720l1 10.5M786.5 723l7.5 12l-9 5l-5-0.5M796 756l-1.5-4.5l7-8l6 3M777.5 756l14-5l-6.5-11M791.5 751l3 0.5M834 670.5l8-1l1.5 2.5l-0.5 8l-5 5.5M843 680l10 4l1 3l-2 3.5l-12.5 3.5l-1-1M918 671.5l3 5l-11 10l-0.5 0l-6-6.5l1.5-7.5l2-1.5M843.5 713.5l2-1l4-9.5l-9.5-7l-3 9.5l6.5 8l-1 2.5M827.5 707.5l9.5-2M839.5 694l0.5 2M852 690.5l4.5 10.5l-7 2M950.5 614.5l10.5 2l0.5 1M955.5 630.5l-0.5 1.5l4.5 9l6.5 0M932.5 682l-6.5-1.5l-2.5-3.5l8.5-10l2 0l3.5 3l-2.5 11l-2.5 1l1 11.5l8 2.5l4-12M945.5 683l-10.5-2M944 669.5l-6.5 0.5M926 680.5l-4 9l-7 1l-5-4M921 676.5l2.5 0.5M923.5 660.5l8.5 6.5M934 667l3-8.5l9 0.5l0.5 7.5M925.5 656.5l9-1.5l2.5 3.5M941.5 696l0.5 1l7 2l5-4.5l-2-8M922 689.5l5.5 7l6-3M891 742.5l-5.5-3l0-4.5l7.5-6.5l5 8l-1.5 4M880 744.5l5.5-5M885.5 735l-8-4.5l-5.5 6M922.5 740.5l0.5-2l-3-9l1-2l-3.5-6l-6-0.5l-5 4.5l-3-1.5l-10.5 4.5l-2.5-4.5l-9.5-2.5l-4 2l0.5 7M856.5 701l2 0.5l1 3.5l-4 8.5l-10-1M853 725.5l5-7l-2.5-5M1049.5 597l0-8l8 0l1.5 1l-3 6.5l-6.5 0.5l-1 1l-3.5 0.5l-4.5-5l1.5-5l5.5-1.5l1.5-4l7-2.5l1.5 8.5M1047.5 587l2 2M962 748.5l0-0.5l2.5-9l5.5-1M962 748l-7.5-1.5M964.5 739l-5-3l-6 0.5l-1 1l-1.5 4M959.5 736l2.5-7.5l5.5-1.5l5.5 8M1000.5 711.5l-10 2.5l-1 4.5M992 702l-6 6l4.5 6M979 694.5l-2 4l8.5 9.5l0.5 0M990.5 696.5l-10.5-2.5M1030.5 660l-7 5l-2.5-8l7-3l2.5 6l2 1M1036.5 651.5l-7.5-1l-1 3.5M1010.5 604l9.5 3l0.5 2.5l-3.5 7l-5 0.5M977.5 644.5l12 4l0 1.5M1005 685.5l1.5-4.5l-4-5.5l-8 6l0.5 3.5l1 2l9-1.5l5.5 5l0 0.5M996 689l0-2M984 687l11-2M991 676.5l3.5 5M1003 674.5l-0.5 1M1016 713l-4-7.5l10.5-5.5l1.5 1l2 3l-1.5 6l-8.5 3l0 0.5M1010.5 705l1.5 0.5M1030 716l-5.5-6M1013 693.5l7 1l2.5 5.5M1037.5 705l-11.5-1M1032 694l-8 7M1020 694.5l3-6l9 3M1046 689l0.5-1.5l2.5-10l-6-1.5l-5.5 3l0 1.5l9 7l9-1.5M1051.5 676.5l-2.5 1M1037.5 680.5l-2.5 2l-1 7M1043.5 668.5l-0.5 7.5M1037.5 679l-4.5-8l1.5-2M944.5 337l1-8.5l8.5 1.5l-0.5 7M954 337.5l9.5-1.5l-1.5-6.5l-6.5-1l-1.5 1.5M926 336l0.5-6l-0.5-0.5l-8.5-2M937 337.5l-1.5-8l-9 0.5M945.5 328.5l-0.5-0.5l-8.5 0l-1 1.5M945 296.5l-0.5 7.5l9.5-0.5l-0.5-6.5M935.5 297l0 6.5l9 0.5l0 8l-8.5 0l-1-8.5l0.5 0M917.5 361.5l-9-0.5l-1 2l1 7l9 0l0.5-8M909.5 353.5l-1.5 1.5l0.5 6M796 322l0.5 6l8.5 1.5l1-10l-0.5 0M806 319.5l8 1.5M805 312.5l0 0.5M786.5 319.5l1 1l7.5 0M1010 370l-9-0.5l-1 8.5l1 1l7 0l3-5.5M1011 386.5l0.5-1l-3.5-6.5M1002 388l-2-2l1-7M1011 420l-10 0l0-8l1.5-1M991 279.5l0 7l-6.5 1.5l-2.5-2M975.5 288l-0.5 7l7 1l2-2l0.5-6M982 296l1 7l7.5 0.5l1.5-7l-8-2.5M1013.5 288.5l-4 8l2.5 6.5l0.5 0.5M740 503.5l0.5-1l0.5-8l-9 0.5l-1 1M730 486l1.5 1.5l0.5 7.5M945 518.5l-1-7.5l-8 0l0 7.5l2 2l7-2l2.5 2l-0.5 6.5l-2.5 2l-6-3l-0.5-5.5M871 528.5l1.5-1l-0.5-8l-8.5 0.5M842 511l1-0.5l-0.5-7.5l0-0.5l-9 0M924.5 563.5l1-1l9.5 0.5l1.5 8l-5.5 5.5M944 584l2-8l-3.5-4.5l-6-0.5M889 563l0-10.5l1-1l7.5 1.5M889 552.5l-9 0M899 545l-9.5 0l0.5 6.5M917 561l0.5-8.5l-0.5-0.5l-8.5 0M777.5 552.5l0.5 0.5l0 8l-9.5 3M782.5 568l-0.5-4l-4-3M797.5 544.5l-0.5 0.5l-9.5-0.5l-0.5-1M805.5 554l-8.5-2l0-7M778 553l9-0.5l0.5-8M777.5 502.5l0-0.5l-9 0l-1 1M816 520.5l-1-1l0-8.5l8 0l1 7.5l-8 2l0.5 6M807 520.5l8-1M824 518.5l2.5 2.5l-0.5 6l-1 1M814.5 510.5l0.5 0.5M814 503.5l1-1M824 510.5l-1 0.5M826.5 521l6.5-2.5M844 552l-0.5-7l-9.5 0l-0.5 7M824.5 544.5l9-0.5l0.5 1M851.5 543l-7.5 1.5l-0.5 0.5M833 502l0-6l-8.5-2l-1 0.5M833 496l1-1.5l9 0.5l-0.5 7.5M1152 445l-2 1.5l-6-2.5l0.5-7.5M1168.5 461.5l-6 5.5l-5.5-5l0.5-0.5l6-3.5M1159.5 451l-5 4l3 6.5M1150 446.5l-0.5 1.5l3.5 7l1.5 0M1266 569l-1.5-1l-5.5 4.5l0 1.5M1215.5 463l-1 5l8 1l2.5-7l-0.5-1M1265.5 526.5l3.5 2l6-4l0-5l-4-1l-5.5 8l-1 0l-2.5 9l5.5 1l3.5-4l4.5 1M1271 532.5l-2-4M1277.5 527l-2.5-2.5M1278.5 517.5l-3.5 2M1271 518.5l-3-4l0.5-2.5M1256 458.5l-3 0.5l-4-4.5l4.5-4M1245 451l3.5 3l0.5 0.5M1256.5 467.5l-5.5-4.5l2-4M1234.5 450.5l1.5 4.5l4 0l2.5-4M1229 458l4 0.5l3-3.5M1233 458.5l2.5 4l-5.5 4l-5-4.5M898.5 244l8.5 1.5l1.5-7.5l-8.5-2l-1.5 2.5l0 5.5l-1 1.5M890 237l8.5 1.5M899.5 229.5l0.5 6.5M909.5 230l1 6.5l-2 1.5M936 260l0 2l7 0M940.5 254l-3.5 0l-1 1.5M945.5 270.5l0-7.5M935.5 262l0.5 0M937 254l-1.5-8l-7.5 1l-1 6.5l-8-0.5l-1.5-7.5l-9.5 2l-0.5 6l9.5 2l2-2.5M945 245l0 5.5M936 245.5l-0.5 0.5M965 288l1 5.5M975 295l-1 1M983 303l-1.5 1.5l-8.5-0.5l-0.5 6.5M956 295l7.5 1.5M954 303.5l0.5 0.5l8-0.5M983 320l-0.5-7l-0.5-0.5l-8 0M974 321.5l-1.5-2M982 312.5l-0.5-8M918.5 294.5l-1 1.5l-8.5 0l0.5-8.5M917.5 296l0.5 8l8-1l0-7M908.5 270.5l-1-8l10-1l0 0.5M860 304.5l1.5 7.5l-0.5 0.5l-9.5 0l-0.5-0.5l1-8l8 0.5l2-2.5l9 2l0.5 0l0-8.5l-8.5-1l-1.5 1.5l0.5 6M852 304l-0.5-0.5l-9 0M844 312l7 0M851.5 312.5l0 7.5l1 1l7.5 0l0.5-0.5l0.5-8M870.5 319.5l-0.5 1.5l-9.5-0.5M869.5 312l-8 0M851.5 320l-9 0.5M879.5 304l-8 0M870 311.5l1-7.5M873 294.5l-1.5 1M843 336.5l0.5-8l7.5-0.5l1.5 1.5l-0.5 8l-9-1l-0.5 0.5M843 328l0.5 0.5M852.5 344.5l-0.5-6.5l0-0.5M852.5 321l-1.5 7M860 321l1 8.5l-8.5 0M852 338l10-2l-1-6.5l9.5-2.5l-0.5-6M879.5 328l-8 0l-1-1M879 337l-8.5 0l1-9M899.5 328l-1-7.5l9-1M889 310.5l9 2.5l-0.5 6.5l-7.5 1.5M897.5 319.5l1 1M862 361l-0.5-7l0.5-0.5l9 0.5l-0.5 8l-8.5-1l0 0.5l-9 0.5l-0.5 0M842 296l2-1.5l0-7l-1-1M851.5 303.5l0.5-8l-8-1M861.5 296l-8-1.5l-1.5 1M842.5 278.5l8.5-0.5l0-7M1072.5 566.5l-6.5 0l-2 2.5l1 5l4 2l5.5-5l-2-4.5l2-4l-6-4.5l-4 3.5l1.5 5M1093 488.5l8 4.5l-5.5 4.5l-2.5-0.5l0-8.5l-0.5-1l0-0.5M1189 672.5l-2.5 2l-3-3.5l4.5-5.5l2 2.5M1135.5 683l-0.5-0.5l0-4l6-2.5l1.5 1l0.5 3.5l-2 2l-5.5 0.5l1 4.5l4 1.5l2.5-1l-2-5.5M1198 713l-5-1.5l-1.5-6l2-1M1190.5 698l0 6.5l1 1M825 353.5l-0.5 0l-8-1l-0.5-6M807 353.5l7.5 1l2-2M814 344.5l-6.5 1M742 346l8-2l0-7.5l-0.5-0.5M796 328.5l-9.5 0l0 0.5l1 8l7.5 0l1-8.5l0.5-0.5M787.5 320.5l-1 8M795.5 337.5l-0.5-0.5M787 337.5l0.5-0.5M779 328.5l7.5 0.5M814 336.5l-8-0.5l-1-6l10-3l1 1l-2 8.5l1.5 1M806 336.5l0-0.5M823 329.5l-7-1.5M814.5 321.5l0.5 5.5M805 329.5l0 0.5M705.5 404.5l6.5-1l1.5 1l1 7M704 395l8.5 0l-0.5 8.5M712.5 395l0.5 0M749 446l0 7l0.5 0l9.5 0.5l-1-9l-8 0l-1 1.5l-8-1M741 420l-0.5-8l2-1.5l6 3l1 5.5l-8.5 1l-1 1.5l-8-2.5M733.5 411l7 1M749.5 419l0 0.5l8.5 0M748.5 413.5l3.5-3l6.5 1.5M742.5 410.5l1-6.5l-2.5-2M740 421.5l0 6.5M731.5 428.5l8 0M749.5 419.5l-0.5 9l9.5-0.5l0.5-0.5M732 438.5l7.5-2M750 444.5l-1-7.5M770 454l-2-2l0-6.5l9.5-1.5l0.5 1l0 8l8.5 1l1 0.5M796.5 446.5l9.5-1.5l-1-8l-8.5 0.5M786.5 454l0.5-9.5l-9 0.5M805.5 478l0.5 8.5l8.5 0l0.5-0.5l-0.5-7l-9-1l-0.5 0l1.5-7.5M815.5 478l-1 1M823.5 477l1 1l-0.5 8l-9 0M815.5 494.5l-0.5-1l-0.5-7M824 486l1.5 1.5l-1 6.5M815 493.5l-9 1.5l-0.5-8.5l0.5 0M807 502.5l-1.5-7l0.5-0.5M796.5 502l1-7l8 0.5M796.5 470l-7-1.5l-3 2.5l1 7.5l9.5 0l0.5-0.5l-1-8l1-1M789.5 462l0 6.5M805 478l-7.5 0M786.5 471l-7-2.5l0-5.5M750 377.5l9 0l1.5 1l-1.5 8l-0.5 0.5l-8.5-1l0-8M768.5 369.5l-0.5 0.5l-9-0.5l0 8M777.5 420.5l1-1l-0.5-8l-8-0.5l-1.5 1.5M918 387l-0.5 0l-8.5 0.5l-0.5 7.5l8.5 1l1.5-1.5l-0.5-7.5l8.5 0.5l0.5-0.5M861.5 354l-7.5-1M842.5 362l1 7.5l9 0l0.5-7.5M749 394l0.5 1l0.5 7.5l-6.5 1.5M752 410.5l-1-7l-1-1M959.5 657l-2-1.5l-0.5-11l2.5-3.5M946 659l2-3l9.5-0.5M972.5 602l3.5 4.5l-3.5 6l-9 0.5l-1-9.5l10-1.5l0.5-6.5l5-4.5l1.5 0.5M983 606.5l-7 0M975 619.5l-2.5-7M961 616.5l2.5-3.5M957.5 603l4-0.5l1 1M961.5 602.5l2-11.5l9.5 4.5M953.5 590.5l10 0.5l2-8l7-1.5l4-5.5l0-0.5l-9.5-8l-8 8.5l0.5 1l6 6M991 436.5l0.5-7.5l-9-2l-0.5 1l0 8.5l0.5 0.5M982 428l-9 0.5l0.5 8l8.5 0M1017 431.5l4 1.5l6-4.5l1-4.5l-2.5-2M1097.5 476.5l2-1.5l5 2l0.5 5l-1.5 3l-5-1.5M917.5 370l-1 8.5l1.5 2l8.5-2l0-7l-9-1.5M927 371l-0.5 0.5M937.5 378l-1.5-7l-1-1M927 378.5l-0.5 0M917.5 387l0.5-6.5M955 404l8-2l-0.5-6.5l-8-0.5l-0.5 8l1 1l1.5 6.5l-3 2.5l1 7l8.5-0.5l1-7.5l-7.5-1.5M1002 403l-8.5 1.5l0 6.5l7.5 1M962 329.5l2-2M963.5 336l0.5 1M955.5 345.5l1.5 1l6.5-2M973 336l9 2.5l0 5l-7 3l-2-2M973 444l-0.5-6.5l-8.5-1l-0.5 8.5l9-0.5l0.5-0.5l8.5 1.5M973.5 436.5l-1 1M955 444.5l0.5-7.5l-2-1.5l-7.5 2l0 7l9 0l0.5 1l8-0.5l1 7l7.5 1l0.5-8.5M982.5 461l1.5 1.5l0.5 6.5l-2 1.5l-7.5-1l-1-7l8.5-1.5l-0.5-8l-9.5 0.5l-0.5-0.5M955.5 437l7.5-1.5l1 1M953.5 435.5l-0.5-6l1.5-1.5l9.5 0.5l-1 7M991 453l1 7l2 1.5l6.5-1l1-7l-0.5-0.5M993 470l8.5 0l-0.5 9l-0.5 0.5l-7.5-1.5l-0.5-7.5l0.5-0.5l1-8.5M1000.5 460.5l2 1.5l-0.5 8l-0.5 0M954 477.5l-7.5 0l0 0.5l-0.5 7l8 2M946.5 469l-0.5 1l0.5 7.5M938.5 461.5l-1.5 8.5l9 0M971.5 477l1-5.5l-7-3.5l-3.5 2.5M973 503l0.5 1l8-0.5l0-7.5l-8-1.5M981.5 512l0-8.5l9 0l0 7l-8.5 1.5l-0.5 0l-9.5-1l1.5-7M944 461l2-8M1001.5 597l0-7M987.5 586.5l-1-8l3.5-3.5l6.5 2l2.5 6.5M1008 578l-5.5-5l7.5-6l3 3.5l-1 5.5l-1.5 1.5l-2.5 0.5l-1.5 3M996.5 577l6-4l-3.5-7.5l-3-2l5.5-6.5l0.5 0l4.5 3.5l0 3l-7.5 2M991 552.5l0.5 0l1.5 11l-2.5 2l-8.5-2.5l1-10l8-0.5l0-8.5l0.5 0l9 0.5l0 4l-3 3.5l4 5M1011 589.5l1 1l7-1l2.5-3.5l-1-2.5l-1-1l-5 1l-3.5 6l-2-1M1010.5 599.5l1.5-2.5l0-6.5M1010.5 577.5l4 6M1012 597l10 0.5l-3-8M1019.5 582.5l-1-5.5l-6.5-1M1041 648.5l-5-8.5l4.5-5l9 6.5M1095 671l-4.5-2.5l-3 2l1 5.5l3.5 1l0.5 0l2.5-6l0.5 0l5.5 4l-3.5 4.5l-5-2.5M1084 678.5l4.5-2.5M1091 682.5l1-5.5M1084 670l3.5 0.5M1085.5 663l-2.5 3M1090.5 665.5l0 3M1098 682l-0.5-2.5M1078.5 662.5l-6-1l0-3.5l6-2.5l2 4.5l-2 2.5l1 3M1071.5 662l1-0.5M1083.5 660.5l-3-0.5M1086 655.5l-6-3l-1.5 3M1079.5 651l0.5 1.5M1069.5 654l3 4M1144.5 652.5l-2 2l-2.5 0l-3.5-3l2.5-4l3.5 0l2 2.5l0 2.5l7 2.5l0 0.5l-3 5l-4 0l-2-6M1140 654.5l-4.5 4.5l-3-1l-1-2.5l2.5-3.5l2.5-0.5M1144 444l-4.5 2l-3.5-6.5l1.5-3.5M1149.5 448l-5 4.5l-6.5-3l1.5-3.5M1132.5 432.5l-6 3l1.5 7.5l8-3.5M1119 411.5l3 9l5.5 2l1 0M1126.5 435.5l-3.5-2l4.5-11M1015 399.5l3.5-1l8 4l2 5.5l-5 5.5M1028 424l9-1l0.5 2.5l-1 7.5l-6.5 2l-3-6.5M1036.5 433l2.5 4l5.5-1.5l1-5l-8-5M1054 435l-4-6.5l-4.5 2M1050.5 440l-6-4.5M1028.5 408l7 1l2.5 12l-1 2M1079.5 425.5l-6.5 5l-5.5-4l-1-8.5l0.5-1.5l4.5-2l4.5 0.5l3.5 10.5l3 1.5l10.5-6l0-0.5l-3-6.5M1067.5 426.5l-6.5 4.5l-5.5-8l11-5M1038 421l11.5-2.5l2.5 4l-2 6M1061 431l-0.5 1M1055.5 423l-3.5-0.5M1077.5 414.5l-1.5 0.5M1080.5 400.5l-7-1l-4.5 4.5l2.5 10.5M1066 439l2.5 1l4.5-4.5l0-5M811 655l10.5-6M825.5 661.5l0.5-1M842 669.5l1.5-7.5l-7-6.5M819 635l4 6.5l-1 5M843.5 662l5-2l2.5-5.5M846.5 646.5l-9.5 6M794 735l2.5 0.5M801.5 743.5l-1.5-5.5M789 719.5l11.5 3M814 733l-3-1.5M804 710.5l-3 12M903.5 680l-4 1.5l-12-4l1-3.5l8.5-7.5l8 6M863 643.5l7.5 9l-9 4l-4-3.5M957 644.5l-11-0.5l2-9l7-3M947 620l-4.5 1.5l-7-6.5l3.5-7.5M926 613l2 2l7.5 0M910 739l-1.5-4.5l0.5-2l11-3M898 736.5l10.5-2M906.5 725.5l2.5 7M899.5 681.5l-5.5 12l-4.5 0.5l-2-1.5l-2-13.5l2-1.5M890.5 724l3-8.5l-2-4l-8.5 1.5l-2 8.5M903.5 724l-2.5-7l-7.5-1.5M911.5 721l-1.5-8l-4.5-1.5l-4.5 5.5M883 713l-6-7l10.5-3.5l5 6.5l-1 2.5M908.5 701l-5 6l-4.5-1.5l-1.5-10l7-1l4 6.5l6 0l1.5-1.5l10.5 0l1.5 6l-8.5 5.5l-3.5-1.5l-1.5-8.5M909.5 686.5l-5 8M894 693.5l3.5 2M889.5 694l-2 8.5M892.5 709l6.5-3.5M905.5 711.5l-2-4.5M867.5 724l8-1l-4.5-12l-3 0l-5.5 7.5l5 5.5l-4 6M877 723.5l-1.5-0.5M858 718.5l4.5 0M877 706l-1-0.5l-5 5.5M859.5 705l8.5 6M937 740l0-2l6-4l9.5 3.5M923 738.5l10-3.5l4 3M921 727.5l7.5-2l3.5 2l1 7.5M943 734l0.5-8.5l-4.5-1.5l-7 3.5M949 699l4.5 8.5l-7.5 5l-4-1l-3-7l3-7.5M939 724l-2-8.5l5-4M943.5 725.5l5-2.5l-2.5-10.5M962 728.5l-6-6.5l-5 2l2.5 12.5M951 724l-2.5-1M967.5 727l2-5.5l7-2.5l4.5 4.5M985.5 708l-8.5 7l-0.5 4M1029 650.5l-0.5-1l3.5-9.5l4 0M1025.5 621l-3 0.5l-2 5.5l2 3.5l6 1l2.5-2l-1-6l-4.5-2.5l4-8l-0.5-1l-8.5-2.5M1017 616.5l5.5 5M1009.5 624l2.5 4l8.5-1M1031 629.5l6 0.5l3.5 4.5l0 0.5M1032 640l-2-1l-1.5-7.5M1007 664.5l0.5-5l-7-3l-4 2.5M1007.5 659.5l2.5-2l4.5 1l1.5 8l-7.5 0M1035 682.5l-10.5-2.5l-2.5 4.5l1 4M1010.5 690.5l4-6l7.5 0M1007.5 672.5l6 3l-1.5 4.5l-5.5 1M1012 680l2.5 4.5M740 453.5l1.5 1l-0.5 6l-7 2l-2.5-2l0.5-7l8 0l0-7.5M749 453l-7.5 1.5M731.5 453l0.5 0.5M724.5 462l7-1.5M731 471l3-2.5l0-6M768 452l-8.5 1.5l0 6l2.5 2.5l7-0.5l2 8l6.5 1l-0.5 7.5l0 0.5l-8.5 0.5l-0.5-1l1.5-7.5l1.5-1M955.5 328.5l-1.5-8l1-1M945 328l1-6.5l8-1M954.5 304l-0.5 8l-9 0.5l-0.5-0.5M926 303l1.5 1.5l7.5-1M1000.5 395.5l-8.5-1l0-7.5l8-1M993.5 404.5l-2-1.5l0.5-8.5l-9 0l0 8.5l1 1.5l7.5-1.5M1008.5 428l-7.5 0l0-8l-8.5-0.5l0-7.5l-9-1.5l-0.5 1l0 8l9.5 0l-1 9.5l9-0.5l1 7M1007.5 436.5l3.5-3.5M1001 428l-0.5 0.5M1008 361l-7.5 1l-0.5-7.5l3.5-2.5M1001 369.5l-0.5-0.5l0-7l-9.5-0.5l0.5 8l9-0.5M993.5 288l0 7.5l7 1l1-1l1-8l-2.5-1.5l-6.5 2l-2.5-1.5M992 296.5l1.5-1M999.5 279.5l0.5 6.5M1012 285.5l-9.5 2M1009.5 296.5l-8-1M991 311.5l10 1.5l0.5-1l-0.5-7.5l0-0.5l-9.5 1l-0.5 6l0 0.5l1 9M1000.5 319l0.5-6M982.5 313l8.5-2M990.5 303.5l1 1.5M1000.5 296.5l0.5 7.5M1009.5 312l-8 0M1012 303l-11 1.5M749.5 486l-1-0.5l-7.5 1.5l0 7.5l8.5 1l0.5 7.5l-9.5-0.5M750 503.5l0-0.5M768.5 502l0-7.5l-9.5-1M749.5 495.5l0.5-1M731.5 487.5l8-2l1.5 1.5M731 478l8 0.5l0.5 7M899.5 461l-8 1.5l-2.5-2.5l0.5-5l9-3l1 9l0.5 0.5l7.5-1l0-7.5l-9-1l-0.5-5.5l0.5-0.5l9.5-1.5l-1.5-7l1-1l-1-7l-8.5-1l-9-0.5l-0.5-0.5l-7.5 1l-1-0.5l-0.5-8l9 0.5l0 7M926.5 519l-8 0.5l1 8.5l8 0l1-1l0-6l-2-2l0.5-7l9-1l-0.5-6.5l1-2l8.5 0l0.5 0.5l0.5 6.5l-2 1.5M872.5 527.5l8.5 0.5l-1.5 7.5l-7.5 0M890.5 527.5l-0.5-7.5l-8.5 0.5l-0.5 7.5l8 1.5M898 536.5l0.5 0.5M899 528l1-1l7 2M908.5 535.5l8.5-0.5M942.5 571.5l4.5-7.5l5.5 0.5l2.5 8.5l-9 3M943.5 552l1.5 2l-0.5 7.5l-8 0l-0.5-8.5l7.5-1l1.5-7l1-1l-0.5-8l-1.5-1.5l0.5-5.5M935 563l1.5-1.5M944.5 561.5l2.5 2.5M879.5 535.5l1 1.5M889.5 545l-0.5-0.5M938.5 526l-3.5 2.5l1.5 8l7.5-2M936 518.5l-7.5 2.5M935 528.5l-6.5-1.5M927 512l-1-1l-9 1.5l-0.5 5.5l2 1.5M916.5 518l-6 2.5l-0.5 5.5M918 529.5l1.5-1.5M917 552l0.5-7l-1.5-1.5M925.5 562.5l1.5-9.5l8-0.5l1 0.5M917.5 552.5l9.5 0l-1-8l-8.5 0.5M927 553l0-0.5M796.5 552.5l-9 0.5l0 7l8.5 2.5l0.5-10l0.5-0.5M787 552.5l0.5 0.5M805.5 563.5l-9.5-1l-4 10.5M782 564l5.5-4M768.5 479l0 7l9 0.5l0.5 0.5l0.5 6l-0.5 0.5l-9 0.5l-0.5-8l-9.5 0.5l0-7l1.5-2l-1-7l1.5-1.5l1-7M768.5 494.5l0.5-0.5M777.5 502l0.5-8.5M778.5 493l8.5 2l0 7M824 535.5l10 1.5l-0.5 7M826 527l7.5 2M844 544.5l-2-8.5l9.5-0.5M843 519l2 1.5M835 520l1 7M1144.5 452.5l1 3l3.5 1.5l4-2M1138 449.5l-2 1.5l3 9l1.5 0.5l5-5M1157 462l-2.5 2l-5.5-2.5l0-4.5M1220 584.5l-7 3.5l1.5 5.5l4.5 1.5l6-4.5l-5-6l1-4l-5.5-5.5l-5.5 5l2 8l-5.5 1l-4 5.5l1 1.5l6 4l5-6.5M1212 588l1 0M1215.5 626l-2-1l2-6.5l5.5-1l0.5 2.5M1221 617.5l1.5-2l2.5 1M1232 600l-4-1.5l-5 4l3.5 6l-4 5l0 2M1225 590.5l2 0.5l1 7.5M1223 602.5l-2.5-0.5l-1.5-7M1240 587l3.5 0.5l5-3l0.5-6l-0.5 0l-6-1l-5.5 5l3 4.5l-3.5 6l-8.5-2.5l-1 0.5M1271 560l-0.5-0.5l-6 5.5l0 3M1277 540l-7 3l-2.5-6.5M1169 461.5l2.5 8l-1 2l-8-2.5l0-2M1246 468.5l-6.5-0.5l-2-4.5l4.5-4.5l2 0.5l4 5l-2 4l1 2M1244.5 476.5l-2 1l-5-4l0-3l2-2.5M1251 463l-3 1.5M1248.5 454l-4.5 5.5M1237.5 470.5l-7.5-0.5l0-3.5M1235.5 462.5l2 1M1240 455l2 4M1268 514.5l-6.5 2l-5-6l4-4l7 2M1261.5 501l-1 1.5l0 4M1261.5 495.5l-6-0.5l-1.5 5l6.5 2.5M1257.5 486.5l-2 8.5l-6-3l2.5-5.5M1256.5 510.5l-1 0l-4-5.5l1-4.5l1.5-0.5M1252.5 500.5l-6-2.5l-3 4.5l4 3.5l4-1M919.5 236l-2.5 2.5l1 6.5l8.5 0l1-7l-8-2l0.5-6M910.5 236.5l6.5 2M929 237l-1.5 1M928 247l-1.5-2M909 296l-0.5 0.5l-0.5 6.5l9.5 2l0.5-1M900.5 288.5l-0.5 5.5l8.5 2.5M891.5 294.5l7.5 0.5l1-1M890 303.5l8.5 0l0.5-8.5M907 262.5l0-9l-9 0.5l0 9.5l9-1l0.5 0M898.5 269.5l-0.5-6l-9-1M898 253.5l0 0.5M907 245.5l1 2M918 245l-0.5 0.5M917.5 261.5l-0.5-6M907 253.5l0.5 0M870 337.5l-7.5-1.5l-1.5 9l1.5 1.5l7.5-1l0-8l0.5-0.5M862 336l0.5 0M880 338l-0.5 6.5l-7.5 2.5l-2-1.5M853.5 345l7.5 0M862 353.5l0.5-7M871 354l1.5-1.5l-0.5-5.5M862 361.5l-0.5 8.5l9.5 0l0-8l-0.5 0M936.5 445l-0.5 0l0.5-7.5l8-1.5l1.5 1.5M918.5 410l7.5 2.5l-0.5 6l-7.5 1.5l-2-7l2.5-3l-0.5-5.5l-1-1l-6.5 1l-0.5 7.5l6 1M916.5 378.5l-8 0.5l0.5 8l0 0.5M908.5 379l-0.5-0.5l-0.5-7.5l1-1M890 394l-0.5-7.5l0.5-0.5l9 0l0.5 1l-0.5 7.5l-0.5 0.5l-8.5-1l0 0.5l-1 8l1.5 1l8.5-1.5l2 2.5l-0.5 5l-2.5 2l-7.5-0.5l0-7.5M899 386l0.5-6l8.5-1.5M909 387l-9.5 0M910.5 404.5l-3-2l1-7.5l-9.5-0.5M844 287.5l7-1l1.5-7l-1.5-1.5M853.5 294.5l-0.5-6l-2-2M861.5 263.5l0.5 6.5l-1 1.5l-9-1.5M871.5 270.5l-1 1l-8.5-1.5M852.5 279.5l7-0.5l1.5-7.5M1065 574l-7.5 4.5l-3.5-6l4-4.5l6 1M1049 583l-3.5-5.5l7-5.5l1.5 0.5M1056 580.5l1.5-2l7 5.5l3.5-2l1-4.5l0-1.5M1070 630l1.5-3.5l6.5 0l2 4l-2 3M1085 638.5l1-1.5l-1-6.5l-5 0M1090 651.5l0-3l6.5-0.5l2 5.5l-4 1M1084.5 645.5l4.5 1.5l1 1.5M1086 637l2 0.5l4 5l-3 4.5M1096.5 648l1.5-2.5l5.5 2l-2 6l-1 0.5l-2-0.5M1092 642.5l1.5-0.5l4.5 2.5l0 1M1095.5 497.5l3 4l-2 5.5l-5.5-1l-0.5-8l2.5-1M1087 540.5l3-5l6.5 4.5l-4 5l-5.5-4.5l-0.5 0l-5.5-3.5l-3 4l-2 0l-4 4.5l0 1l-6.5 3.5l-1.5-4.5l4-4l4 4M1145 668l-5.5 2l-3-4.5l1.5-3l6-1l1 6.5l0.5 0.5l5-0.5l1.5 3.5l-3 4.5l-2.5-1l-1-6.5M1135.5 659l2.5 3.5M1144.5 660.5l-0.5 1M1189 691l-3.5-1.5l-2.5 4.5l3 3l3.5-0.5M1186 697l-1.5 6.5l-4 1.5l0-10l2.5-1M1184.5 703.5l6 1M1188.5 633.5l2.5-4.5l5.5 0l-1 9.5l-0.5 0.5l-5-2l-1.5-3.5l-5-0.5l0-6l-2.5-0.5l-4.5 3.5l3.5 4l3 0l0.5-1M1209.5 631l0-5.5l-8.5 1.5l-1 1l3.5 6l-3 4.5l-5 0M1196.5 645l-2-4.5l0.5-1.5M1174.5 672l3 2.5l5-3.5l-3.5-5l-1 0l-3.5 6l-1 0.5l-4-4l2.5-4l6 1l0 0.5M1196.5 629l2-1l-4.5-7.5l-4 0.5l-1.5 2l-0.5 2.5l3 3.5M1168 743.5l-0.5-2l-13.5-8.5l2-4.5l-6.5-11.5l-6 0.5l-2 5M1156 728.5l10.5-5l-4-8.5l-10-0.5l-3 2.5M1129.5 715l0.5-1.5l12 2l1.5 2M1120.5 708.5l5.5-1.5l4 6.5M1114.5 697.5l0.5-0.5l5-2l7 10.5l-1 1.5M1188 681l-1.5-4l-3.5 2l-1 3.5l3 4.5l2.5-2M1185 687l0 1.5l-8.5-0.5l2-5l3.5-0.5M1183 679l-5-2.5l-2.5 3.5l3 3M1178 676.5l-0.5-2M1183.5 671l-1 0M1186.5 674.5l0 2.5l2 0.5M1185 688.5l0.5 1M1175.5 680l-1.5 0l-3.5-3.5l3-4M1180.5 705l-4 3.5l2 5M1193 711.5l-8 5M1195.5 727l-8.5-3.5M1162.5 715l4.5-7.5l6.5-1l3 2M1166.5 723.5l3.5 1.5M1167.5 741.5l3-16M834 363l0 7l9 0l0.5-0.5M815 370l0-8l0.5-1l7.5 0.5l1.5 2l-0.5 6l-0.5 0.5l-7.5 1l-1-1l-8.5 0M806 362.5l9-0.5M814.5 354.5l1 6.5M824.5 353.5l-1.5 8M834 370l-0.5 0.5l-9.5-1M832.5 361.5l-8 2M759.5 329l-0.5 7.5l-0.5 0.5l-8.5-0.5M769 335.5l-1.5 2l-8.5-1M731.5 394.5l0 0.5M713.5 404.5l8.5-1.5M733.5 404.5l-1.5-1.5M723.5 411l-0.5-7M768 445l-9-2l0.5-6.5l0-0.5l9.5-0.5l-1 9.5l0 0.5M759.5 453.5l-0.5 0M758 444.5l1-1.5M769.5 428.5l-0.5 7l8.5 2.5l0 6M758.5 428l1 8M749.5 436l10 0.5M779.5 468.5l-2 2M777 478l10 0.5l0.5 0M761 469l8.5 1.5M760.5 477.5l7.5 0.5M778 487l8.5-2.5l0.5-6M777.5 486.5l-0.5-8M814.5 461l-0.5-6l-8-1.5l-0.5 0.5M806 445l0 0.5l0 8M787 436.5l-8-0.5l-0.5-7.5l8-1l1 1l-0.5 8l1 1M777.5 438l1.5-2M787.5 428.5l8-0.5l0 8.5M776.5 427l2 1.5M778.5 419.5l8 0.5l0 7.5M825.5 487.5l8-1.5l0.5 0.5l0 8M797 486l0.5 1.5l-1 6.5l-8.5-0.5l0-7.5l9 0l0-7.5M805.5 486.5l-8 1M786.5 484.5l1.5 1.5M797.5 495l-1-1M787 495l1-1.5M787 396l9 0l1 6l-8.5 2l-2-1.5l0.5-6.5l-1-2l1-7.5l-0.5-0.5l-9.5 0.5l1 8.5l8-1M910 412l-2 1.5l-1 6l1 1l8.5 1l1.5-1.5M917 396l0 7.5M888.5 420.5l1-1l9.5 1l-1 8l-0.5 8l-7.5 1l-1-1l0-8.5M907 419.5l-8 1l-1-9M908 420.5l-0.5 8l-1 1M889.5 419.5l-0.5-7l-6.5-1l-3 1.5l-0.5 6.5l0.5 0.5M861.5 370.5l-9-1l-0.5 9l9 0l0.5-1l0-7l0-0.5M880.5 370.5l0.5-0.5l8 0.5l0.5 8l0 0.5l-9.5 0l-0.5 0l1-8.5l-9.5-0.5l0 8.5l-9.5-1M861 378.5l0.5 7.5l8.5 0l1-7l0-0.5M843 370l0 7l9 1.5l-0.5 7l-9.5 0.5l0.5 8l0.5 1l8-0.5l1-8.5l-0.5-0.5M861.5 386l-1 1l-8.5-1M759 386.5l9.5 1l0 8l-9.5-0.5l-0.5-8M749.5 395l9 0l0.5 0M751 403.5l7.5-1l0-7.5M760.5 410.5l0-6l-2-2M760.5 378.5l7.5-0.5l1 8.5l-0.5 1M768 370l0 7.5l0 0.5M778.5 403l-8.5 1l-2-2.5l0.5-6l9 0l1 7.5l1 1l0 6.5l-1.5 1M770 411l0-7M760.5 404.5l7.5-3M978 591l-5.5-9.5M986.5 578.5l-10-2.5M990 575l0.5-9.5M976.5 575.5l5-12l0.5-0.5M981.5 563.5l-8.5-2.5l-6 4.5l0 2M951 586.5l8.5-9.5M955 573l4 3M964 428.5l0-0.5l8 0l1 0.5M982.5 427l0-7l-8.5-0.5l-1 1l-1 7.5M1083.5 469l-4-1.5l0-0.5l2-8l1-0.5l5.5 5.5l-4.5 5l1 2.5l7 0l1 5M1084.5 471.5l-0.5 1l3.5 5.5M1087 491.5l-4.5-1l-2 1l0.5 4l4.5 2.5l2.5-0.5l-1-6l5.5-4M1084 484l-1.5 6.5M1090.5 498l-2.5-0.5M1091 506l-2.5 1l-5-3.5l2-5.5M1083.5 503.5l-3.5 0.5l-3.5-2l0-2.5l4.5-4M1023.5 438.5l6-2l3.5 6l-5 3l-5.5-4.5l1-2.5l-2.5-5.5M1030 435l-0.5 1.5M1039 437l-1 4l-2.5 1.5l-2.5 0M1022.5 441l-5 2.5l-1 0M1017.5 443.5l3.5 7l6.5-1l0.5-4M1001.5 453.5l8.5-1.5l1-6M1027.5 449.5l2.5 3l-6 6.5l-4-5.5l1-3M1024 459l0 1.5l-2 1.5l-5.5 0l-3.5-7l7-1.5M1002.5 462l5-0.5l4.5-6.5l-2-3M1012 455l1 0M1038 441l5.5 3.5l6.5-3.5M1030 452.5l2.5 0.5l3.5-3.5l-0.5-7M1043.5 444.5l-0.5 6.5l-7-1.5M1000.5 479.5l0.5 7l-10.5 0.5l0-1l0.5-6.5l2-1.5M982.5 477.5l8.5 2M981.5 486l0.5 0.5l8.5-0.5M981.5 496l1-1l-0.5-8.5M947 352.5l8 2.5l2-2.5l0-6M954 403l-6 1l-1 7.5l6.5 1.5M964 428l-1-8.5l10 1M954.5 428l-0.5-7.5l0.5-0.5M975 411l-2 1.5l-7.5-1.5l0-6.5l7.5-3l1.5 1.5l0.5 8l8 0.5M974 419.5l-1-7M964 412l1.5-1M963 402l2.5 2.5M963.5 394.5l9.5 1l-0.5-8.5l-8 0l-1 1l0 6.5l-1 1M973 401.5l0-6l9.5-1l0.5 0M954.5 386.5l9 1.5M953.5 394l1 1M955 380l9-1l0.5 8M983 403l-8.5 0M936.5 361.5l8 0.5l0.5 7.5l-9 1.5M945 378l0.5-7.5l-0.5-1M945 354.5l0.5 7l-1 0.5M984 404.5l-0.5 6M993.5 411l-1 1M982.5 420l0.5-0.5M963.5 460l-0.5-6.5l-8.5 0l-0.5 0.5l0 6.5l2.5 2l7-2.5l3 2.5l5.5-2l0.5-7M964.5 452l-1.5 1.5M965.5 468l1-5.5M957 468.5l-0.5-6M955.5 445.5l-1 8M946.5 463.5l7.5-3M946.5 452.5l7.5 1.5M937 470l-0.5 7.5l0 0.5l-10-0.5l0.5-7.5l1.5-1.5l8.5 1.5M946.5 478l-10-0.5M936.5 460l-8.5 3l0.5 5.5M972.5 471.5l2.5-2M972 460.5l2 2M982 477l0.5-6.5M992.5 470.5l-8-1.5M992 460l-8 2.5M982.5 495l8 0l1 7.5l-1 1M990.5 487l0.5 7.5l-0.5 0.5M991.5 519.5l1-7l4.5-0.5l4 2.5l0 1.5l-3.5 4.5l-4.5 0.5l-1.5-1.5l-7.5 0.5l0 7l-2 2l-7.5-1.5l1.5-7l6-2l2 1.5M1001 516l4.5 4l-3 5.5l-5-5M1059 590l3.5 0l2-6M993 563.5l3 0M1006.5 563.5l3.5 3l0 0.5M991.5 552.5l6-0.5M1000.5 548.5l5.5 4l-4 4.5M1060 602l7 8.5l-0.5 1l-8 3l-4-8.5l5.5-4l0-0.5l7-4.5l4 5.5l-2 6l-2 2M1060 601.5l-4-5M1048.5 598l4.5 8l1.5 0M1053 606l-6 4l-6-5l4-6.5M1041 605l-1.5 0l-5-2l0.5-8l5.5-1.5M1020 607l4-7l7 4l-2 8M1022 597.5l1.5 0.5l0.5 2M1039.5 605l-3 9.5l-7-1.5M1031 604l3.5-1M1126.5 647.5l4.5-6.5l4 2.5l-3 5l-5.5-1l-1-0.5l-5.5 0l-2.5 3.5l7.5 3.5l0.5-0.5l1-6M1131.5 655.5l-6-2M1134 652l-2-3.5M1135 643.5l1 0l3 4M1144.5 650l5-2l-0.5-4l-5-1.5l-1.5 5M1112 480.5l0.5 0.5l6.5-1l1-2.5l-3-3.5l-5.5 0l0.5 6.5l-7 1.5M1127.5 463l-3 6.5l-5.5-1l-2-2.5l1-5l4.5-1l5 3l3-1l0-9l-6.5 2l-4.5-4l-0.5-5l0.5 0l8-2l4 7l-1 2M1117 474l2-5.5M1120 477.5l4.5-2l1-4.5l-1-1.5M1091.5 471.5l2.5-4l5.5 5l0 2.5M1088 464l2.5 0l3.5 3l0 0.5M1119.5 451l-5.5 6.5l4 3.5M1122.5 460l1.5-5M1119 446l-3-0.5l-5.5-6.5l0.5-1.5l8-2.5l0.5 11M1123 433.5l-3 0.5l-1 1M1128 443l-0.5 1M1136 451l-4.5 0M1139 460l-8 2.5l-0.5-0.5M1106.5 418.5l-1.5 1.5l3.5 11.5l7.5-3.5l0.5-4l-10-5.5l1-5M1122 420.5l-5.5 3.5M1108.5 431.5l-0.5 0.5l3 5.5M1120 434l-4-6M1108 432l-6 1.5l-2-2l-1.5-9.5l6.5-2M1098.5 422l-5.5-1.5M1026.5 402.5l5-6.5l-1.5-5M1045.5 408.5l4 8.5l8.5-7l-1-7l-7.5-1.5l-4 7l-10 0.5l3-10.5l-7-2.5M1035.5 374l5.5 4.5l-2.5 7l-6 1.5M1082 370l-6.5 3.5l-6-2l0-9.5M1087 380l-10.5 4.5l-1-11M1084.5 395l-8.5-9.5l0.5-1M1059.5 362.5l-3.5 6.5l11 4l2.5-1.5M1049.5 418.5l0-1.5M1067 416.5l-9-6.5M1069 404l-10-3l-2 2M1070.5 394l-9-0.5l4-11l10 3l-5 8.5l3 5.5M1059 401l2.5-7.5l-9-6l0.5-5.5l-10-4l5.5-10.5l7 2l-1 11l-1.5 1.5M1076 385.5l-0.5 0M1065.5 382.5l-0.5-1l2-8.5M1048 367l0.5 0.5M1041 378.5l2-0.5M1056 369l-0.5 0.5M1065 381.5l-10.5-1M847 629l-10-1.5l-3 5.5l0 2l2.5 3l11.5 2.5l-1-11.5l3.5-4M836.5 622.5l0.5 5M848 641l0-0.5M834 647.5l2.5-9.5M823.5 628l10.5 5M823 641.5l11-6.5M909.5 660.5l-10-4l-4 4l1.5 6M912.5 649l-12.5 2.5l-0.5 5M902 639.5l-3 10l-8.5-3l-2.5-8M899 649.5l1 2M857.5 665l-1.5 7.5l2 3.5l5.5 1l5.5-6l-2-5.5l-6-2.5l-3.5 2l-9-5M843.5 672l12.5 0.5M861.5 656.5l-0.5 6.5M853 684l5-8M944 648l1-3l-11-7.5l-3 7l5 6.5l8-3l4 8M946 644l-1 1M934.5 655l1.5-4M924 647l7-2.5M938 629.5l-4 7l-8-2l-4-7l5.5-4.5l10.5 6l0 0.5l10 5.5M934 637.5l0-1M942.5 621.5l-4.5 7.5M928 615l-0.5 8M921 639.5l5-5M917 627l5 0.5M928.5 725.5l-0.5-7.5l4-3.5l5 1M917.5 721.5l3.5-6l7 2.5M939 704.5l-9.5 2l2.5 8M869 686l-2.5 3.5l-0.5 6.5l9 6l5.5-8.5l-8-8l-3.5 0.5l-5.5-9M854 687l12.5 2.5M872.5 685.5l6.5-6.5l-4-7l-6-1M887.5 692.5l-7 1M879 679l6.5 0M858.5 701.5l7.5-5.5M876 705.5l-1-3.5M1042 588.5l-1.5-1.5l-0.5-7l4.5-2.5l1 0M1013 570.5l6-1.5l3 4.5l-3.5 3.5M965 686l-2.5 9l-0.5 0l-8-0.5M977 698.5l-3 2l-11.5-5.5M977 715l-6.5-7.5l3.5-7M959.5 717l-5-9l6-3.5l9 3.5l-6.5 8.5l-3.5 0.5l-3.5 5M953.5 707.5l1 0.5M969.5 721.5l-6.5-5M970.5 707.5l-1 0.5M962 695l-1.5 9.5M1028.5 649.5l-8.5-3.5l2-6.5l8-0.5M1022.5 630.5l-2.5 6l2 3M1020 636.5l-4.5-0.5l-4-7l0.5-1M1020 646l-3 1.5l1.5 8.5l2.5 1M1000.5 656.5l2-7.5l6.5 0.5l1 8M1015.5 636l-4.5 4.5l2 6l4 1M1014.5 658.5l4-2.5M1009 649.5l4-3M1027.5 671.5l-4.5-5l-5.5 1l-2 7l8.5 5l3.5-8l5.5-0.5M1023.5 665l-0.5 1.5M1024.5 680l-0.5-0.5M1013.5 675.5l2-1M1016 666.5l1.5 1M759.5 459.5l-8 3.5l0 6.5l8 1M741 460.5l1.5 1.5l8 0l-1-9M750.5 462l1 1M946 321.5l-1.5-2l0.5-7M992 387l-1-1.5l-9 2.5l0.5 6.5M965 346l1.5 7.5l-2 1.5l-7.5-2.5M1000 378l-8 0l-1.5 1.5l0.5 6M750 478l-0.5 0.5l-9.5-1l0.5-6.5l2-1.5l7.5 1l0 7.5l9 1.5M748.5 485.5l1-7M751.5 469.5l-1.5 1M739 478.5l1-1M742.5 462l0 7.5M734 468.5l6.5 2.5M945.5 536l9-0.5l0.5-6l-8-2.5M991.5 544l0-8.5l5 0.5l4 4l0 4.5l6.5 0l2.5 2.5l-2.5 5l-1 0.5M991 544l-9.5 0l0-7l1-0.5l9-1l0-6l-7.5-2.5M973 561l-0.5-7.5l10-1l0.5 0.5M981.5 544l-0.5 0.5l1.5 8M954.5 535.5l1 1.5l-1.5 8l-8-1M900 461.5l0.5 8.5l7.5 0.5l2-2l-0.5-6l-2-2M953.5 494l-7.5 0.5l-1.5-8l1.5-1.5M945.5 503l9-1l0.5-6.5M945 502.5l0.5-7l0.5-1M936.5 478l0 8.5l8 0M881.5 520.5l-1.5-1.5l-8 0.5l-0.5-8l7.5-1.5l0.5-6.5l-8.5-0.5l-0.5 7.5l1 1M898 496l1 5.5l1 1l8 0.5l1-9l0-0.5l-11 2.5l-0.5-1l-8.5 0l0-8.5l0-0.5l9 1.5l-0.5 7.5M843 510.5l8 0.5l0.5 0.5l0 7M861.5 518.5l0-7l-10 0M945 554l9-0.5l0.5-0.5l-0.5-8l9 0l1 7l-9.5 1M952.5 564.5l3-3l-1.5-8M967 565.5l-4-3.5l-7.5-0.5M907.5 487.5l0.5-1l-0.5-7l-9-1l0 8.5l9 0.5l1.5 6M918 454l-1 5.5l2 2l8 0l0-7.5l0-0.5l-9 0.5l-0.5-1l-8.5-1l-1.5 1M909.5 462.5l7.5-3M927 470l-8-1l0-7.5M928 463l-1-1.5M935.5 453.5l-8.5 0.5M910 468.5l6.5 2l2.5-1.5M926.5 543.5l9 1l1-1.5l0-6.5l-9 0l-1.5 1.5l0.5 5.5l-0.5 1M935 552.5l0.5-8M917.5 535.5l8.5 2.5M927.5 528l0 8.5M945 545l-8.5-2M1101 493l0.5-0.5l2.5-7l-0.5-0.5M1098.5 501.5l4-1.5l0-6l-1-1.5M1154.5 464l-1 4.5l-5 2l-0.5 0l-2.5-7l3.5-2M1140.5 460.5l1 2l4 1M1203.5 596l-5 9.5l-5.5-5l6.5-7l3 1M1216.5 609.5l-4 5.5l-5.5 0l-2.5-5.5l6.5-6.5l4.5 2l1 4.5l6 4M1215.5 618.5l-3-3.5M1220.5 602l-5 3M1209.5 600l1.5 3M1204.5 609.5l-5.5-2l-0.5-2M1171.5 469.5l7-2l0.5-5.5l-9.5-0.5M1192.5 459.5l-3.5 5.5l-5.5-4.5l3-4.5M1177.5 454.5l3 6l3 0M1180.5 460.5l-1.5 1.5M1198.5 460l1 2.5l-8 5.5l-2-1l-0.5-2M1178.5 467.5l2.5 3l3.5 0.5l5-4M1242.5 477.5l-2 4.5l-8-1.5l0-1l5-6M1230 470l-3 4l5.5 5.5M1222.5 469l3.5 5l1 0M1207 478l5 2l0 3.5l-4.5 3l-5-4l4.5-4.5l-1.5-3l-7-0.5l-1.5-1.5l5.5-6.5l4 6l-1 2.5M907.5 312l-8.5-0.5l0-8l8.5-0.5l0 9l0.5 0.5M898 313l1-1.5M917.5 311.5l0-6.5M908 303l-0.5 0M898.5 303.5l0.5 0M936 445l-8.5-0.5l-1 0.5l0.5 8.5M917.5 453l1-8l8 0M918.5 445l-1.5-2l-9 2l1 7M945.5 395l0 0.5l0.5 6.5l2 2M944.5 436l-0.5-7.5l-8.5 0.5l-0.5 6.5l1.5 2M953 429.5l-8-2l-1 1M954 420.5l-9 0.5l0 6.5M938 410.5l7 2l0 8l-9.5-0.5l0-7.5l2.5-2l0-6l8-2.5M947 411.5l-2 1M945 421l0-0.5M863.5 287.5l-2-1.5l-0.5-6l9.5-2l0 0.5l0.5 7.5l-7.5 1.5l-0.5 7M853 288.5l8.5-2.5M873.5 288l-2.5-2M859.5 279l1.5 1M870.5 271.5l0 6.5M880.5 279l-10-0.5M1069 608.5l8 1l2-2l-3.5-6l-4.5 1M1101.5 653.5l6.5 0l1.5-3.5l-4.5-3.5l-1.5 1M1102.5 500l3 2l-1.5 6.5l-1.5 0.5l-5.5-1.5l-0.5-0.5M1098.5 533.5l-1.5 6l3.5 2l7-4l-2-5l-1.5-1l-5.5 2l-4.5-3.5l-4.5 2.5l0.5 3M1106 522l-3.5 0.5l-2.5-4l3.5-6l5.5 2.5l1 2l-4 5l5.5 3.5l-0.5 3l4.5 4l2-0.5l2-7.5l-4-1l-4 2M1103.5 512.5l-1-3.5M1097 507.5l-3 9l6 2M1088.5 507l-2 5l7 5l0.5-0.5M1065.5 550l-0.5 2l-5 1.5l-4-4l3.5-6l4.5 2M1149 676l3 3.5l4-5l-1-2.5l-3-0.5M1148.5 660.5l4 4.5l-2 3M1141 676l-1.5-5l0-1M1142.5 677l4-2M1172 664.5l-1-2.5l-4.5-1l-2.5 3.5l0.5 1.5l4.5 2.5l0.5 0M1169 668.5l-4 5.5l-2.5 0l-1-3.5l3-4.5M1170.5 676.5l-1 0l-4.5-2.5M1156 674.5l5.5 1l1-1.5M1155 672l2.5-3l4 1.5M1149.5 648l4 2.5l-2 4.5M1188 665.5l0-0.5l-4-1.5l-5 2.5M1190.5 664l-2.5 1l1-7l2.5 0M1178 665.5l0-6l4.5-1.5l1.5 5.5M1171 662l3-5l4 2.5M1162.5 644.5l-4-3l-4 2l1 5.5l5 4l1.5-0.5l2.5-5.5l-1.5-2.5l-0.5 0l-7 4.5l-2 1.5M1206 634.5l-2.5-0.5M1198.5 628l1.5 0M1201 627l0-8l-4.5-2l-2.5 3.5M1201 619l6-3.5l2.5 10l4-0.5M1207 615.5l0-0.5M1196.5 617l-1-3.5l-6.5 0.5l-0.5 1l1.5 6M1199 607.5l-1.5 1.5l-2 4.5M1101 675l2 0l1.5-4.5l-5.5-4.5l-3.5 5M1135 678.5l-2.5-3.5l1-2l6-2M1136.5 665.5l-5 1.5l2 6M1135 694l-2-2.5l-2.5-1l-3 2l1.5 11l3.5-1l2.5-8.5l4-0.5l1.5-4.5M1136.5 687.5l-3.5 4M1142 715.5l-0.5-12l-9-1M1127 705.5l2-2M1120 695l0-0.5l5.5-2.5l2 0.5M1135 682.5l-5 1.5l0.5 6.5M1176.5 688l-2.5 0l-3 7.5l2 2l6-3l-2.5-6.5M1174 680l-3.5 5.5l3.5 2.5M1180.5 695l-1.5-0.5M1173.5 706.5l-0.5-9M1171 695.5l-1-0.5l-5.5 2.5l0 7.5l2.5 2.5M1164.5 697.5l-2.5-2l-4 1.5l1 6.5l5.5 1.5M1152.5 714.5l0.5-9l6-2M795.5 388l0.5 8l9-2l0-6l-8.5-1l-1 1l-8.5-1.5M795 420.5l1-1l1-8l-8.5-0.5l-1 1l0 7l7.5 1.5l0.5 7.5l9 0l1 1l0.5 7l-1 1M815.5 421l7.5-1.5l2.5 9l-1 1l-8.5-0.5l-1-1.5l0.5-6.5l-9.5-1.5l-0.5-6.5l2-1.5l6.5 0.5l1.5 9M804.5 428l0.5-7.5l1-1M805.5 429l9.5-1.5M816 429l-1 8l-9-1M824.5 429.5l0.5 5.5l-1.5 2l-8 0.5l-0.5-0.5M750 344l2.5 2l6-1l0-8M749.5 354.5l2-1.5l8.5 1.5l-0.5 6.5M751.5 353l1-7M806 445.5l8.5-0.5l1.5 7.5l-2 2.5M815.5 437.5l0 6.5l-1 1M823.5 437l1.5 8l-0.5 0.5l-9-1.5M786.5 420l1-1M779.5 410.5l8 1.5M779.5 404l7-1.5M788.5 404l0 7M805.5 413l-8.5-1.5l1-8l-1-1.5M805 420.5l-9-1M825 445l8-1l0-7l-8-2M816 452.5l7.5 1l0 7l-6 2.5M824.5 445.5l0 7l-1 1M881 428.5l-1 8.5l9-0.5M898.5 395l0.5 7M907.5 402.5l-6.5 2M908 413.5l-7.5-4M889 412.5l1.5-1.5M882.5 411.5l-0.5-9l7 0M873 404l7.5-2l0-7.5l-0.5-0.5l-9.5 1.5l1.5 8l1 0.5l0 6.5l6.5 2.5M882 402.5l-1.5-0.5M880 394l0-6.5l-9.5-0.5l-0.5 7.5l0.5 1M890 394.5l-9.5 0M880 387.5l0.5-0.5l9-0.5M842 386l0-8l-8.5-1l-1 1l0 8l9.5 0M843 377l-1 1M833.5 370.5l0 6.5M832.5 378l-7.5-0.5l-2 2l1 7l8.5-0.5l0.5 8.5l0.5 0.5l9-1M825 377.5l-1.5-7.5M862 396l-0.5 5l-7 3l-2-2l-1-7.5l9.5 0l1 1.5l8-1.5M861.5 401l2.5 3.5l8-1M870.5 387l-0.5-1M860.5 387l0.5 7.5M851 394.5l0.5 0M843 395l-0.5 8l2 1.5l8-2.5M778 371l0 5.5l9 2.5l1-1M768 377.5l9 0l1-1M769 386.5l8-0.5l0-8.5M1079.5 467l-5.5-3l2.5-6.5l1-0.5l4 2M1076.5 457.5l-7.5-1.5l0.5-9.5l0.5-0.5l7.5 2l0 9M1043 451l0.5 0.5l4.5 0.5l4.5-4M1068.5 440l1.5 6M1069.5 446.5l-10.5 4.5l-1-1M1001 479l7.5-0.5l2.5 3.5l-1.5 5l-8.5-0.5l-0.5 7.5l-9.5 0.5M1020 488l-0.5 0l-1.5 7.5l4 3l3-2l-0.5-8l-4.5-0.5l-1.5-5l-3-2l-4.5 1M1009.5 487l1.5 2.5l8.5-1.5M1012 500l-2.5 0.5l-3-6l4-4.5l4 5.5l-2.5 4.5l4.5 3.5l5.5-5l3 6.5l6.5-2l0-0.5l-4-6l-2.5 0M1031.5 502.5l6-1.5l-1-5.5l-3.5-2.5l-5.5 3.5M1076.5 499.5l-5.5-4.5l6-5l3.5 1.5M1017.5 472l-3.5-6.5l-3.5-0.5l-2.5 6l2 2.5l7.5-1l0-0.5l0.5 0l3-2.5l1-7.5M1016.5 462l-2.5 3.5M1008.5 478.5l1.5-5M1015.5 481l2-8.5M1007.5 461.5l3 3.5M1002 470l6 1M1004.5 502.5l-4-3l-5 3.5l3.5 4l3.5-0.5l2-4l3.5-0.5l1.5-1.5M991.5 502.5l4 0.5M1000.5 494l0 0.5l0 5M1001 514.5l5-3.5l-3.5-4.5M997 512l2-5M990.5 510.5l2 2M871.5 461.5l-1-8.5l0.5-0.5l8.5 1l0.5 7l-7.5 1.5l-1-0.5l-8 2l-2-2.5l0.5-7.5l0.5-0.5l8 0M1069 577.5l7.5 3l2-0.5l1-7l-5-2M1082 596l-2-2l1.5-5.5l3-0.5l3 2.5l0 4.5l0 0.5l-5.5 0.5l-1 4l-5.5 1l0.5-6l4-1M1081.5 588.5l-1-0.5l-1.5-7.5l7.5 0.5l-2 7M1027 594.5l5-1.5l1-6.5l-1-2l-1 0l-6 3l2 7l-3.5 3.5M1035 595l-3-2M1021.5 586l3.5 1.5M1040.5 587l-7.5-0.5M1031 584.5l-5-5l-5.5 4M1040 580l-5-1l-3 5.5M1120 647l-1-4l4.5-1.5l2 5.5M1131 641l-1.5-3.5l-5 1.5l-1 2.5M1112.5 467.5l-2 6l-2.5 0l-4-5l0.5-3.5l4-1l4 3.5l4.5-1.5M1111.5 474l-1-0.5M1114 457.5l-2-0.5l-3.5 7M1104.5 477l3.5-3.5M1099.5 472.5l4.5-4M1104.5 465l-3-2.5l-7.5 4.5M1119 480l2.5 5.5l7-1.5l0-4.5l-4-4M1131 462.5l3.5 6.5l-1 2.5l-8-0.5M1141.5 462.5l-2 4.5l-5 2M1148 470.5l-5.5 0.5l-3-4M1082.5 458.5l6-6l4.5 3.5l-2.5 8M1100 431.5l-6 2.5l-2.5-2.5l1.5-10.5M1082.5 427l2 6l7-1.5M1073 435.5l10 3l1.5-5.5M1049 390l-8-1l-2 9l10 2.5l0-10.5l3.5-2.5M1038.5 385.5l2.5 3.5M1049.5 401.5l-0.5-1M1038.5 398.5l0.5-0.5M881.5 663.5l4-5l-1.5-4l-7-5l-6.5 3.5l1.5 7.5l8.5 3.5l1-0.5l7 10.5M895.5 660.5l-10-2M875 672l5.5-8M867 665.5l5-5M890.5 646.5l-6.5 8M878 639.5l-1 10M870.5 652.5l0 0.5M927.5 696.5l-1 3M929.5 706.5l-1.5-1M915 690.5l1 9M921 715.5l-1.5-4.5M910 713l6-3.5M1044.5 577.5l-2.5-6l2.5-3l6 1l2 2.5M1026 579.5l0-4l-1-1.5l-3-0.5M1035 579l-1-3l-8-0.5M1010 566.5l5.5-5.5l1 0l4 3l-1.5 5M1006.5 560.5l4.5-3.5l4.5 4M1005.5 634.5l-7-5l-3 0l-3.5 8.5l2 5l4.5 1l7.5-5.5l-0.5-4l6-5.5M1003.5 624l-5 5.5M1011 640.5l-5-2M1002.5 649l-4-5M980.5 635l11.5 3M991 624l4.5 5.5M989.5 648.5l4.5-5.5M926 329.5l1.5-9M936.5 328l-1.5-7.5M944.5 319.5l-9.5 0.5M936 312l-0.5 0.5M927.5 304.5l-1 7.5M918 312l8 0.5M981.5 387l0-8.5l-8.5 0.5l-0.5 8l9 0l0.5 1M990.5 379.5l-9-1l0-8.5l0.5 0l9 0l1 8M964 379l0-0.5l9 0.5l-0.5-8.5l-9 0l0.5 8M955 355l-0.5 6l8.5 1.5l1.5-7.5M954 378l0.5-7l-0.5-1l-8.5 0.5M945.5 361.5l8 0.5l0.5 8M954.5 361l-1 1M991.5 369.5l-0.5 0.5M993.5 353l-2.5 2l-7-3l1-6l6.5-1l1.5 1l0.5 7l6.5 1.5M991 361.5l-0.5-1l0.5-5.5M1000.5 344.5l-7.5 1.5M991.5 336.5l0 8.5M982 343.5l3 2.5M947.5 520.5l6.5-2.5l0.5-6.5l0.5-9l9 1l0 6.5l-0.5 1l-9 0.5l-8.5-2M954.5 502l0.5 0.5M964.5 502.5l-0.5 1M972 511l0 0.5l-8-1.5M956.5 520.5l7-1l2 1.5l1 5l-3 3.5l-7-1.5l0-7.5l-2.5-2.5M963.5 511l0 8.5M955 529.5l1.5-1.5M972 511.5l0 6l-6.5 3.5M982.5 536.5l-0.5-7.5M993 521l0 7l-1.5 1.5M974.5 527.5l-1 1l0 6.5l8 2M972 517.5l4 3M973.5 528.5l-7-2.5M982 512l0 6.5M981 544.5l-8 0.5l-1 7.5l0.5 1M963 562l1-9.5l8 0M964 552l0 0.5M945.5 495.5l-9.5-1l0.5-8l-9.5-0.5l-1.5-7.5l-8-0.5l-0.5 0l0 7.5l0.5 0.5l8.5 0.5l1-0.5M936.5 502.5l-0.5-7.5l0-0.5M909 494l8 0.5l0.5-8.5M908 486.5l9-1M907.5 479.5l0.5-0.5l9-1M916.5 470.5l1 7.5M908 479l0-8.5M926.5 477.5l-1 1M918 502.5l7.5 1l1-0.5l1-7.5l-2-2.5l-8.5 2l1 7.5l-0.5 1l-9 0l0 6.5l8.5 2l0.5-8.5M926 486.5l-0.5 6.5M917 494.5l0 0.5M935.5 504.5l-9-1.5M926 511l-0.5-7.5M936 495l-8.5 0.5M880 519l1-6.5l8.5-1.5l0.5 9l9-0.5l0-8l8 0.5l1.5 7l-8.5 2l-1-1.5M900 502.5l-1.5 8.5l-8.5 0l-1-7l10-2.5M908 503l0.5 0.5M917 512.5l0-0.5M908.5 510l-1.5 2M898.5 511l0.5 0.5M889.5 511l0.5 0M900 527l0-6M910.5 520.5l-2-1.5M861.5 511.5l0.5-1l-1.5-6.5l-8-1l-1.5 8M842.5 503l9.5-0.5l0.5 0.5M887.5 503l-7-0.5l-1.5-8l0.5-0.5l9.5 1l-1.5 8l1.5 1M898.5 487l-0.5 0.5M1102.5 494l7.5 0.5l1-6l-7-3M1105.5 502l5-1.5l1.5-2.5l-2-3.5M1121.5 485.5l-2 3l-7-1l0-6.5M1112.5 487.5l-1.5 1M1104 508.5l6.5 0l1.5-4l-1.5-4M1109 515l2.5-4.5l-1-2M1251.5 586.5l-3-2M1255.5 578.5l-6.5 0M1244 589l-0.5-1.5M1242.5 577.5l-2.5-7l-7.5 2l2 9l2.5 1M1228 590.5l5-8l1.5-1M1233 582.5l-9.5-3l-2.5 1M1192.5 592l-3 3.5l-4.5-2.5l0-1l4-4l3.5 4l5 0l2 1.5M1193 600.5l-2-0.5l-1-1l-0.5-3.5M1189 588l0-1.5l2-2l6 1.5l0.5 6M1259 572.5l-4-3l2.5-8l7 3.5M1248.5 578.5l1.5-9l5 0M1270.5 559.5l-4-4l4-8.5l7 3.5M1270 543l-0.5 1l1 3M1153.5 468.5l2.5 2.5l5.5-0.5l1-1.5M1191.5 468l3 4l-5.5 6.5l-1.5 0l-3-7.5M1214.5 468l-0.5 0.5l0 1l2 6.5l5.5 1.5l4.5-3.5M1209 458l-4 5.5l9 5M1199.5 462.5l3 2l2.5-1M1178 480.5l0.5-0.5l-1-3l-7-3.5l-3 4l3.5 5l7-2l0.5 5.5l4 2.5l4-3.5l-1-5l-7 0M1185.5 480l2-1.5M1181 470.5l-3.5 6.5M1170.5 471.5l0 2M1161.5 470.5l1 8l5-1M1246.5 498l-1-3l1-2l3-1M1248 483.5l-5.5 2.5l4 7M1240.5 482l1.5 4l0.5 0M1245.5 495l-8 0l-1-2l0.5-3l5-4M1232.5 480.5l-2 4l-8.5-1.5l-0.5-5.5M1237 490l-6-5l-2.5 4.5l2 4l6-0.5M1230.5 484.5l0.5 0.5M1202 482.5l-3 4l-5.5-2l0-3.5l4.5-2.5l4 4l0.5 0M1207.5 486.5l-1 6.5l-7-1l-0.5-5.5M1186.5 485l4 2.5l3-3M1189 478.5l4.5 2.5M1225 501.5l2-2l9 2.5l-5.5 8.5l-3-1.5l-2.5-7.5l-2 0l-4.5 4.5l3.5 5l-1 4l-2.5 1l-2.5-0.5l-2.5-3l3.5-6.5l1.5 0M1237.5 495l-1.5 7l2.5 1.5l5-1M1227 499.5l0-0.5l3.5-5.5M907.5 371l-8.5 0l-0.5 7.5l1 1.5M935 435.5l-8.5 1l0 0.5l1 7.5M917 443l0.5-6l9 0M916.5 421.5l1 7l-0.5 0.5l-9.5-0.5M907.5 436.5l9-0.5l0.5-7M908 445l0-0.5M916.5 436l1 1M936 394.5l-9 0.5l-1 1l0.5 6.5l1 1l8.5-1.5l0.5-7l-0.5-0.5l0-6M926.5 387.5l0.5 7.5M945.5 395.5l-9-0.5M938 404.5l-2-2.5M927.5 403.5l0.5 7l7.5 2M918 404.5l8.5-2M918.5 394.5l7.5 1.5M926 412.5l2-2M935 428.5l0-8l-8.5-0.5l-1 8.5l0.5 0l9 0l0.5 0.5M935.5 420l-0.5 0.5M926.5 436.5l-0.5-8M925.5 418.5l1 1.5M917.5 428.5l8 0M1051.5 557l0.5 6l5 1l2.5-4l-0.5-2.5l-7.5-0.5l-2-2l0-2.5l2-3l4.5 0M1060 553.5l-1 4M1058 568l-1-4M1050.5 569.5l0.5-5.5l1-1M1064.5 561.5l-5-1.5M1068.5 558l0-3l-3.5-3M1087.5 601.5l3 2l-2.5 6l-2.5 0.5l-3.5-3l2-4l3.5-1.5l0-6M1081 600l3 3M1079 607.5l3-0.5M1075.5 601.5l0-0.5M1074.5 562.5l2-1l1.5-7l-2-2.5l-7.5 3M1072 546.5l4 4.5l0 1M1078 541l3 5l-5 5M1086.5 540.5l-3.5 6l-2-0.5M1087 581l0.5-3.5l2-2.5l6 1.5l0.5 1l0 4l-3 2l-6-2.5l-0.5 0M1079 580.5l-0.5-0.5M1083 568.5l-4-6.5l7-2.5l1.5 2.5l-1 6l-3.5 0.5l-3.5 4.5l8 4.5M1093 583.5l-1 4.5l-4.5 2.5M1092 588l3 2l4-2l0-4.5l-3-2M1086.5 568l2.5 2l0.5 5M1076.5 561.5l2.5 0.5M1105 663l2.5-3l-6.5-3.5l-2.5 6l0.5 1l6-0.5l2.5 5.5l-3 2M1099 666l0-2.5M1097 662.5l1.5 0M1100.5 654l0.5 2.5M1111 662.5l-2.5-3l1.5-2.5l5.5-1l1.5 2l0 3l-1 1l-5 0.5l-1 6l-2.5 0M1107.5 660l1-0.5M1108 653.5l2 3.5M1115.5 656l0.5-5l-3-2.5l-3.5 1.5M1125 654l-1.5 3l-6.5 1M1117.5 650.5l-1.5 0.5M1114.5 566.5l7 2.5l1.5-4l-2-3l-5.5-0.5l-1 5l-1.5 1l0 5.5l1.5 1.5l5-0.5l2.5-4l-0.5-1M1106 585l-1-2l3.5-4.5l3.5 1l0 5l-6 0.5l-0.5 5l-3.5 0.5l-3-2.5M1119.5 574l2 4.5l-2.5 3.5l-5-3.5l0.5-4M1119 582l0 0.5l-4 4l-1 0l-2-2M1112 579.5l2-1M1144 642.5l-0.5-1.5l-3-2l-4.5 4.5M1129.5 637.5l0.5-1.5l2-1l8 2.5l0.5 1.5M1154.5 609.5l0 4.5l-3 1.5l-3.5-5l3-2.5l3.5 1.5l5-3.5l-6.5-4l1-4l7 0.5l-1.5 7.5l0 0.5l6 0.5l2 2l-3 7l-3.5-1l-1.5-8.5M1151.5 615.5l0 0.5l-6 2l-1.5-1.5l2.5-6l1.5 0M1105 583l-1.5-0.5l-4.5 1M1114 586.5l-3.5 5l-3.5 0l-1.5-1.5M1088 609.5l4.5 3.5l0.5 0l2.5-6l-2-3.5l-3 0M1079 620.5l-1-6l-8.5 2l0 3l1 1.5l8.5-0.5l1 1.5l-2 4.5M1071.5 626.5l-1-5.5M1066.5 611.5l3 5M1077 609.5l1 5l5.5-0.5l2-4M1105 646.5l1-4l7 1.5l0 4.5M1098 644.5l3-4.5l5 2l0 0.5M1119 643l-3.5-1.5l-2.5 2.5M1096 577.5l6.5-1.5l5-0.5l1-2l-2-4l-5.5 0l1.5 6.5l1 6.5M1108.5 578.5l-1-3M1113 573l-4.5 0.5M1113 567.5l-4-1l-2.5 3M1104 531.5l-2-7.5l0.5-1.5M1105.5 532.5l5.5-4M1115.5 532.5l-4.5 6l-1.5 0l-2-1M1115.5 523.5l-2.5-6l-3-0.5M1150 547.5l2-3.5l-5.5-4.5l-5 2.5l2 4.5l4 2l2.5-1l7 6.5l4.5-6.5l0.5 0l8 5.5l0 1l-6.5 4l-6.5-1.5l0-2.5M1076.5 502l-4 3l-1 4l2 1.5l6.5 0.5l0-7M1093.5 517l-3 5l4.5 5l7-3M1096.5 540l0.5-0.5M1094 530l1-3M1068 541.5l0-2.5l-6-1l-2.5 5.5l-4.5-3l-5 4l1.5 5M1170.5 685.5l-0.5 0l-3-5l2.5-4M1160.5 653l-0.5 4l0.5 6.5l-4.5 1.5l-1-0.5l0.5-6.5l4.5-1l6 1.5l0.5 2.5M1164 664.5l-3.5-1M1166 658.5l2.5-4l-6.5-2M1151.5 655.5l4 2.5M1152.5 665l2.5-0.5M1157.5 669l-1.5-4M1174 657l0-1l-5-2l-0.5 0.5M1164.5 647l4.5 2.5l0 4.5M1163 644.5l0.5-0.5l7.5-2l0 6l-2 1.5M1177.5 637l2 4.5l-2 1.5l-6-1.5l-0.5-2.5l2.5-3l4 1l2.5-3M1177.5 643l0 6.5l-6.5-1.5M1171 642l0.5-0.5M1149 644l3-2l2.5 1.5M1154.5 614l4 1.5l-2 5l-3 1.5l-2-6M1189 603.5l1 4l-2.5 3l-3.5-1.5l0-4l5-1.5l2-3.5M1197.5 609l-7.5-1.5M1189 614l-1.5-3.5M1099.5 683l5 0l-0.5-7l-1-1M1143 680.5l5 2.5l-2.5 5.5l-2.5-0.5M1157.5 681l4-2.5l2 2l-1 5l-0.5 1l-3.5-1.5l-1-4l-5.5-1.5l-1 2.5l-3 1M1142.5 702.5l0-5.5l5.5-5.5l0.5 0.5l3.5 4.5l-2 6l-7.5 0l-1 1M1139 693.5l3.5 3.5M1153 705.5l-3-3M1145.5 688.5l2.5 3M1158 697l-2-1.5l-4 1M1148.5 692l5-4l0.5 0l3 2.5l-1 5M1153.5 688l-2.5-6M1157 690.5l4.5-0.5l1 2l-0.5 3.5M1170 695l-3.5-4l-4 1M1170 685.5l-1.5 1l-2 4.5M806 386.5l8 0l1-7.5l0-0.5l-9.5-0.5l-0.5 0.5l1 8l-1 1.5M796.5 387l0.5-8l8-0.5M797 379l-1-0.5M805.5 371.5l0 6.5M816 371l-1 7.5M823 379.5l-8-0.5M824 386.5l-0.5 1l-9-0.5l-0.5-0.5M805 394l0.5 0l8.5 1l0.5-8M798 403.5l8-0.5l-0.5-9M807.5 411.5l-0.5-7.5l-1-1M814 412l3-2l6.5 3l-0.5 6.5l10 0l-1-6.5l4-2.5l0-6.5l-2-1l-7 1.5l0 6l5 2.5M758.5 345l1.5 1M760 354.5l1-1.5M767.5 337.5l0.5 6.5M776.5 355.5l-6.5-3M777 344l-6 2.5M824.5 452.5l7.5 1.5l2-2l0.5-7l-1.5-1M880 428l-9 0l-0.5-7l8.5-1.5M823.5 460.5l3.5 2l6-2l-1-6.5M824.5 470.5l1.5-1l1-7M906.5 437.5l-8 0.5l-1-1.5M898.5 438l0 8M787 379l-0.5 7M777 386l0 0.5M777.5 395.5l0.5-0.5M1037 511l6 6l0.5 0l4-7.5l-7.5-4l-3 5.5l-5 1l0.5 7l2 0.5l8.5-2.5M1058 517.5l-5.5-1l-4.5 4l1 2l4.5 1.5l5.5-4.5l-1-2l2.5-6l-2-1.5l1-7.5l2-1l1.5-7l6.5 1.5l-2 5.5l-3 1.5l-3-1.5M1076 487.5l-6.5-3l-0.5-1.5l9.5-4l1.5 2.5l-4 6l1 2.5M1069.5 484.5l-1.5 2.5l3 8l-1.5 1M1083.5 482.5l-3.5-1M1084 472.5l-6 5l0.5 1.5M1021 469.5l7.5 0.5l2-5.5l-6.5-4M1018.5 483l5-4.5l0-1l-5.5-5.5M1011 489.5l-0.5 0.5M1000.5 494.5l6 0M1018 495.5l-3.5 0M1037.5 501l2 1l0.5 3.5M1031.5 503l0.5 9l-5.5-0.5l-2-5l-6.5 1l1 7l2 1l1.5 0l4-4M1008 502l2.5 7l6-2.5l0-3M1005.5 520l5-1.5l1-3l-2.5-4l-3-0.5M1009 511.5l1.5-2.5M1075.5 588.5l-2-2.5l-2 0l-4.5 7.5l0 0.5l7.5-0.5l1-5l5-0.5M1076.5 580.5l-3 5.5M1076 595l-1.5-1.5M1067 597l0-3M1068 582l3.5 4M1062.5 590l4.5 3.5M1058 621.5l-3.5 2.5l-0.5 8.5l0.5 1l9-4l-2-6l-3.5-2l0-6.5l0.5-0.5M1069.5 619.5l-8 4M1066.5 631.5l-3-2M1054.5 634l0-0.5M1040.5 634.5l5.5-4.5l8 2.5M1047 614l-9.5 2.5l0 4l1.5 2l7 1.5l2-2l0-7l-1-1l0-4M1036.5 614.5l1 2M1058 615l-10 0M1054.5 624l-6.5-2M1030 623.5l7.5-3M1046 630l0-6M1037 630l2-7.5M1128.5 626.5l-3.5-1l-2 1l-1.5 5l0 0.5l6.5 1l0.5-6.5l0.5 0l3-4.5l-3-3.5l-4 0.5l0 6.5M1130 636l-2-3M1124.5 639l-3.5-3l0.5-4M1125 619l-2-1.5l-4 2l-0.5 4.5l4.5 2.5M1121.5 631.5l-4-1l-2-4.5l3-2M1133.5 471.5l1 2.5l6 0l2-3M1128.5 479.5l5-3l1-2.5M1102 433.5l-0.5 7.5l4 1l5-3M1101.5 441l-1.5 0.5l-6.5-3.5l0.5-4M1083 438.5l6 3l1.5 5.5l-2 4.5l-9.5-4l4-9M1093.5 438l-4.5 3.5M1077.5 448l1.5-0.5M1090.5 447l7.5-0.5l2-5M1088.5 452.5l0-1M1020.5 564l5.5-1.5l2.5 3l0.5 2.5l-4 6M1034 576l1-3.5l-6-4.5M1042 571.5l-4-1l-3 2M1011 557l0-1l-4-4M1041 556.5l-5 1.5l0.5 5.5l0.5 0l7.5-0.5l0-0.5l0-3l-3.5-3l1.5-6l-0.5-0.5l-5.5 0l-1 7.5l0.5 0.5M1049.5 552.5l-7-2M1049.5 555l-5 4.5M1051 564l-6.5-1.5M1044.5 568.5l0-5.5M1038 570.5l-1-7M1028.5 565.5l8-2M1042 550l1-5l4-2.5l3 2M1055 540.5l-1-5.5l-7.5 4l0.5 3.5M954.5 371l8.5-1l0.5 0.5M963 362.5l0.5 0.5l-0.5 7M972.5 370.5l0.5-0.5l8.5 0M963.5 363l8.5-0.5l1 7.5M972.5 536l-0.5 8l-7.5 0l-1.5-7l1.5-1.5l8 0.5l1-1M973 545l-1-1M963.5 529.5l1 6M963 545l1.5-1M955.5 537l7.5 0M881 512.5l-2-2.5M880.5 502.5l-1 1M871 503l-0.5-1l0-6.5l8.5-1M870.5 502l-9.5 1.5l-0.5 0.5M862 510.5l8.5 0M870.5 495.5l-1.5-1.5l1.5-8l9 2l0 6M889 486.5l-8.5 0l-1 1.5M1112 498l3.5-0.5l4-8l0-1M1162.5 478.5l-1 1l-5.5-3l0-5.5M1171 482.5l-1.5 5l-4.5 0.5l-4-5.5l0.5-3M1119.5 489.5l4 3.5l6.5-1.5l0.5-0.5l-1.5-6l-0.5-1M1210 580l-6.5-1l-2 2.5l5 7.5M1197 586l4-4l0.5-0.5M1232.5 572.5l-3-2l-1 0.5l-5 8.5M1189 586.5l-5.5-1.5l-3.5 3l0 1l5 3M1266.5 555.5l-4-1l-6 4.5l1 2.5M1244 559l4.5 1.5l0.5 8.5l-8 0l-1-4l4-6l-2.5-5.5l1.5-2.5l-4.5-7l-7 2l-1.5-8.5l8-0.5l2 3.5l-1.5 3.5M1256.5 559l-3-1l-5 2.5M1250 569.5l-1-0.5M1240 570.5l1-1.5M1133 578l5-5l-3-2.5l-6 0.5l-0.5 1l0.5 4l4 2l1 4l-0.5 1.5l-4.5 2.5l-1-0.5l-2.5-7l-4 0M1122 570l6.5 2M1125.5 578.5l3.5-2.5M1138 573l0.5 0l4-5.5l-0.5-3l-6.5 0.5l-0.5 5.5M1123 565l6.5-2l-0.5 8M1238.5 503.5l1.5 7l5.5 0.5l2-5M1255.5 510.5l-4 3l-4.5-1l-1.5-1.5M1240 510.5l-2.5 3.5l-7-3l0-0.5M1251.5 513.5l0.5 7l-8.5 0l3.5-8M1237.5 514l1 4.5l4 2.5l1-0.5M1178.5 486l-3 3l-5.5-1l-0.5-0.5M1177 494l-4 2.5l0.5 5l3.5 2l1.5-0.5l3.5-7.5l-5-1.5l-1.5-5M1170 488l0 7l3 1.5M1214 469.5l-7.5 3M1202.5 464.5l0 2M1194.5 472l2.5 1M1198 478.5l0.5-4M1212 480l4-4M1227.5 509l-5.5 2M1223 501.5l-6-5.5l-3 2.5l-0.5 4.5l3.5 3M1215 491l0-5l6.5-1.5l1.5 6.5l-0.5 0.5l-5 2.5l-2.5-3l-8.5 2l0.5 2.5l7 3M1212 483.5l3 2.5M1217 496l0.5-2M1227 499l-4.5-7.5M1222 483l-0.5 1.5M1228.5 489.5l-5.5 1.5M1238.5 518.5l-5 2.5l-5-5l2-5M1221 515l5 2.5l2.5-1.5M880.5 387l-0.5-8M890 386l-0.5-7M898.5 378.5l-9 0M871 379l8.5 0M898.5 370.5l-9 0l0.5-8.5l8-1.5l1 1.5l-0.5 8.5l0.5 0.5M889 370.5l0.5 0M907.5 363l-8.5-1M872.5 352.5l7.5 2l0 6.5l-9 1M881 370l-0.5-8.5l9 0l0.5 0.5M880 361l0.5 0.5M1090.5 549l0 6l-4.5 3l-2.5-3.5l2.5-5.5l4.5 0l2-1l0-3M1083 546.5l3 2.5M1078 554.5l5.5 0M1086 559.5l0-1.5M1092.5 548l4.5 2l-1 8.5l-5.5-3.5M1103.5 562.5l-3.5-4l-4 0l-1.5 3l2 6l1 1l2.5 0l3.5-6l3.5-0.5l2 4.5M1101 569.5l-1-1M1089 570l7.5-2.5M1087.5 562l7-0.5M1095.5 576.5l2-8M1115.5 561.5l-1-1l-6-0.5l-1.5 2M1121 562l2-4l-6-3l-0.5 0.5l-2 5M1119 582.5l5 4l4-1M1118.5 591l3.5 0l1 2l-2 5.5l-2 0l-4-3.5l3.5-4l-3.5-4.5M1124 586.5l-2 4.5M1110.5 591.5l3.5 4l1-0.5M1114 595.5l-3.5 5l5.5 3l3-5M1123 593l4.5 1l3-2l-1.5-6M1127.5 594l0 6.5l-4.5-0.5l-2-1.5M1123 600l-2 5.5l-4.5-0.5l-0.5-1.5M1143.5 641l4.5-4l3.5 2.5l0.5 2.5M1140 637.5l1-4l-6-3.5l-3 5M1129 626.5l6 2.5l2-2.5l-1.5-5l-3.5 0.5M1135 630l0-1M1144 622l-3 5l2.5 4.5l2.5 0l2.5-7.5l-3.5-2.5l-1 0.5l-7.5-1.5l-1 1M1137 626.5l4 0.5M1145.5 618l-0.5 3.5M1153.5 622l-1.5 2l-3.5 0M1141 633.5l2.5-2M1148 637l0-4l-2-1.5M1127.5 600.5l1 0.5l5.5-2l-0.5-5.5l-3-1.5M1143.5 546.5l-5 3.5l0 1.5l4 5l3.5-2l1.5-6M1131 561.5l0.5-0.5l1.5-2l0-3.5l-2-3l-5.5-0.5l-1.5 5.5l7 4l-1.5 1.5M1135.5 565l-4-4M1123 558l1-0.5M1142 564.5l1-1.5l-1.5-4l-8.5 0M1138.5 551.5l-5.5 4M1142.5 556.5l-1 2.5M1138.5 550l-5.5-4.5l0 0.5l-2 6.5M1102 590.5l-2.5 4.5l-4-0.5l-0.5-4.5M1087.5 595l6 1l1.5 6l-1.5 1.5M1095.5 594.5l-2 1.5M1105.5 598l-3.5 0l-2 3l2.5 5.5l5.5-2.5l1-3l-3.5-3l1.5-6.5M1099.5 595l2.5 3M1110.5 600.5l-1.5 0.5M1102.5 606.5l-1 1.5l-6-1M1095 602l5-1M1085.5 617l-4.5 5l5 3.5l2-1.5l0.5-6l-3-1l-2-3M1080 622l1 0M1092.5 613l-2 4l-2 1M1088 624l5.5 0.5l1-2.5l-4-5M1085 630.5l0.5-0.5l0.5-4.5M1085.5 630l7.5 0.5l0.5 4l-5.5 3M1093.5 624.5l1 4l-1.5 2M1093.5 642l2.5-5l-2.5-2.5M1101 640l-1.5-3l-3.5 0M1133 545.5l1.5-3l6.5-0.5l0.5 0M1121 545l3.5 1.5l0 4l-6.5 2l-2-4.5l5-3l-1.5-5l-6 0.5l1 6.5l1.5 1M1117 555l1-2.5M1125.5 552l-1-1.5M1133 546l-7-1l-1.5 1.5M1131.5 537.5l-5 2l-5-2.5l0-2l4.5-3.5l5.5 6l1 0l2 5M1126 545l0.5-5.5M1119.5 540l2-3M1111 538.5l2.5 2M1117.5 532l4 3M1072.5 505l-5-3.5M1071.5 509l-5.5 1.5l-1.5-7.5M1068 487l-7.5 3.5l-0.5 0.5l3 3.5M1080 511l1.5 1.5l4 0.5l1-1M1061 536l3.5-6l-2.5-2.5l-6.5 1.5l-2 3l0.5 2.5l7 1.5l1 2M1054 535l0-0.5M1049 522.5l-3.5 7l0.5 0.5l7.5 2M1053.5 524l2 5M1059 519.5l3.5 2.5l-0.5 5.5M1046 530l-1.5 7.5l2 1.5M1154 688l4.5-3M1161.5 690l0.5-3.5M1168.5 686.5l-6-1M1167 680.5l-3.5 0M1161.5 675.5l0 3M1184.5 647.5l-7 2l0 1.5l7 5l1-0.5l0.5-1.5l-1.5-6.5l0.5-0.5l-4-5.5l2.5-2l3 0.5l2 5l-0.5 0.5l-3 1.5M1188 645.5l5 4.5l-7 4M1189 658l-3.5-2.5M1174 656l3.5-5M1182.5 658l2-2M1179.5 641.5l1.5 0M1190 637l-3.5 3M1194.5 640.5l-6 4.5M1104.5 683l2.5 2l-0.5 3.5l-7 0M1115 697l-2-6l-6-0.5l-0.5 2M1107 690.5l-0.5-2M1126.5 669.5l3.5-3l-1-3.5l-4-1.5l-3 2l-0.5 2.5l3.5 4l1.5-0.5l3 6l3-0.5M1131.5 667l-1.5-0.5M1132.5 658l-3.5 5M1123.5 657l1.5 4.5M1117 661l5 2.5M1116 662l0.5 6.5l5-2.5M814.5 401.5l0-6l9-1l1 1l0 6.5l-7 2.5l-3-3l-7.5 2.5M814 395l0.5 0.5M817 410l0.5-5.5M823.5 387.5l0 7M833 394.5l-8.5 1M842.5 403l-6.5 1M833.5 395l0.5 8M824.5 402l2.5 2.5M823.5 413l3.5-2.5M824.5 478l9 0.5l0.5-7.5l-8-1.5M833.5 486l0.5-7l-0.5-0.5M833 460.5l2.5 2l0.5 6.5l-2 2M861 503.5l0.5-8.5l-9.5 0.5l0 7M869 494l-7.5 0.5l0 0.5M825.5 428.5l7.5-2l0.5-6l-0.5-1M833 437l1-1l0-8.5l-1-1M862.5 453l-0.5-8l0.5-1l8.5 0.5l1 1l-1 7M862 453.5l-9.5-1l-0.5-7l10-0.5M843 445.5l-1-1l0.5-8l9 0l0.5 1l-0.5 7.5l-8.5 0.5l0 8l9 0l0.5-1M834.5 445l7.5-0.5M834 436l8 0l0.5 0.5M834 427.5l8.5 1l-0.5 7.5M844.5 404.5l1 6.5l6 1l3-2l0-6M836 410.5l6.5 3l3-2.5M833.5 420.5l8.5-2l0.5-5M861 419.5l0-7l2-1.5l7.5 1.5l-0.5 8l-8.5-0.5l-0.5-0.5l-9 0.5l-0.5-8M854.5 410l6.5 2.5M873 410.5l-2.5 2M864 404.5l-1 6.5M870.5 421l-0.5-0.5M861 429l9.5 0l1 6.5l-10 2l-0.5-1l0-7.5l-0.5-1l1-8M871 428l-0.5 1M852 437.5l9-1M851.5 436.5l0-8.5l9 0M852 445.5l-0.5-0.5M862.5 444l-1-6.5M871.5 435.5l0.5 0.5l-1 8.5M872 436l8 1l0.5 7.5l8 1l0 7.5l-8.5 0l0.5-8.5l-8.5 1M834 452l9 2l-1 5.5l-6.5 3M843 454l0-0.5M890 437.5l-1 7.5l9 1.5M1036.5 495.5l4.5-4l3.5 2l1 5.5l-6 3M1048 520.5l-4-2.5l-4.5 8l2 2.5l4 1M1044 518l-0.5-1M1034.5 519.5l2.5 5.5l2.5 1M1079.5 467.5l-4.5 4.5l-5-4l-0.5-2l4.5-2M1078 477.5l-3-3.5l0-2M1069.5 466l-1-0.5l-2-7l2.5-2.5M1059 451l0 1l6 6l1.5 0.5M1060.5 490.5l-1-6.5l7-5l2.5 4M1070 468l-5 8.5l1 1.5l9-4M1066.5 479l-0.5-1M1043.5 451.5l-3 6.5l-5.5 0l-2.5-5M1030.5 464.5l2-1l2.5-5.5M1028.5 470l1.5 3l0 0.5l-6.5 4M1059 452l-6 7l-1.5 0.5l-3.5-7.5M1065 458l-5 4l-7-3M1037 525l-4.5 3.5l-3-1.5l-2-3.5l1-2l4-2.5M1005 535.5l5.5-3l0.5-3.5l-1-1.5l-7.5-0.5l-1 1.5l0 2.5l3.5 4.5l0 1.5l-4.5 3M996.5 536l5-5M993 528l8.5 0.5M1002.5 525.5l0 1.5M1010.5 518.5l1 3l-1.5 6M1011.5 521.5l7.5 1.5l1 2l-1 4.5l-8-0.5M1016.5 506.5l1.5 1M1011.5 515.5l7.5-1M1025 505l-0.5 1.5M1028.5 521.5l-6-6M1027.5 523.5l-7.5 1.5M1019 523l2-7.5M1106 642l2.5-4.5l7 1l0 3M1121 636l-5.5 2l0 0.5M1117.5 630.5l-3 2.5l1 5M1099.5 637l2-3l6.5 2l0.5 1.5M1140.5 474l2 4.5l-4.5 3l-4.5-5M1129 485l8.5-2l2 3.5l-2.5 6l-6.5-1.5M1137.5 483l0.5-1.5M1100.5 451l7-2.5l2 1l1 6.5l-10 1.5l-1.5-2l1.5-4.5l-2.5-4.5M1105.5 442l2 6.5M1093 456l6-0.5M1101.5 462.5l-1-5M1112 457l-1.5-1M1116 445.5l-6.5 4M1005 537l3 3l-1 4.5M1043 545l-5.5-3l1-5l6 0.5M1041.5 528.5l-4.5 6.5l-2.5-1l-2-5.5M1038.5 537l-1.5-2M982 370l0-8.5l0-8l-7-2l-2.5 3l1 6.5l8.5 0.5l8.5-1M984 352l-2 1.5M972 362.5l1.5-1.5M975 346.5l0 5M966.5 353.5l6 1M870.5 486l0.5-6.5l-10-1.5l0.5 8l9 0M861.5 486l-1.5 1.5l1.5 7M871.5 478.5l8.5 0.5l1-1l0-7.5l-7.5-1l-2 2.5l0 6.5l-0.5 1M880.5 486.5l-0.5-7.5M871.5 472l-8-2.5l-2 2l-1 5.5l0.5 1M872.5 462l1 7.5M863.5 463.5l0 6M889 486l1-7l-9-1M880 460.5l1.5 1.5l0.5 8l-1 0.5M890.5 478l-1-8l1.5-1.5l8.5 2.5l-1 7.5l-8-0.5l-0.5 1M882 470l7.5 0M900.5 470l-1 1M891.5 462.5l-0.5 6M889 460l-7.5 2M834 479l8.5-0.5l1-0.5l-0.5-7l-7-2M1115.5 497.5l4 2l0.5 7l-0.5 0.5l-7.5-2.5M1123.5 493l0 5l-4 1.5M1113 517.5l4-2l-0.5-4l-5-1M1119.5 507l0 1l-3 3.5M1139.5 486.5l7.5 0l0 6.5l-4.5 1.5l-5.5-2l-1.5 6l1.5 2.5l-3 5l-5.5-3.5l0-2.5l0.5-0.5l6.5-1M1191 584.5l0-1.5l3-5.5l7 4.5M1216 515.5l-5 6l0 1l6.5 4l2-2l-1-8.5M1226 517.5l-0.5 6.5l-6 0.5M1233.5 521l-1 2l-5 2.5l-2-1.5M1225 535.5l-7.5-8.5l-5 5.5l3.5 7.5l5-0.5l4-4l2.5-0.5l2.5 2.5M1161.5 577l3.5 7.5l5.5 1l1.5-1.5l-1.5-6l-4-3l-3.5-0.5l-0.5 0.5l-1 2l-5.5 5.5l-0.5 1.5l1.5 2l6 1l2-2.5M1156 582.5l-5.5-4l2-5.5l10 2M1185 593l-3.5 5l-2.5-0.5l-2.5-4l3.5-4.5M1190 599l-7.5 0l-1-1M1184 605l-1.5-1l0-5M1163 587l1 6.5l-1 0.5l-5.5-2.5l-0.5-5.5M1253.5 558l-2-8.5l8.5-1l2.5 6M1264.5 526.5l-2.5-1.5l-8 6.5l8 4l-2.5 6l2 3l8-0.5M1261.5 544.5l-1.5 4M1231.5 546l-1 1.5l-6.5-1.5l-3-6.5M1217.5 527l0-0.5M1227.5 525.5l1 7.5l-1 2M1261.5 516.5l-2 4l-6.5 1l-1-1M1259.5 520.5l2.5 4.5M1253 521.5l-1.5 6l2.5 4l-3 4.5l3.5 4.5l-5 8l-1 0l-3-8l3-4l2.5-0.5M1190.5 487.5l0.5 4l-7.5 2.5l-1-5.5M1182 495.5l1.5-0.5l0-1M1165 488l-3 4l4.5 4.5l3.5-1.5M1162 492l-0.5 0l-6-3.5l-0.5-2.5l6-3.5M879.5 344.5l3 2.5l0 5.5l-2.5 2M888.5 337.5l1 7.5l-7 2M889.5 361.5l-0.5-7.5l-6.5-1.5M1104 555l-2.5-6l1-1l4.5-1l3.5 2l0 4l-3 3l-3.5-1l-4 3.5M1097 550l4.5-1M1108.5 560l-1-4M1116.5 555.5l-6-2.5M1114.5 547l-4 2M1109.5 538.5l-2.5 8.5M1100.5 541.5l2 6.5M1152 624l3.5 5.5l-1.5 2l-6 1.5M1151.5 639.5l3-2.5l-0.5-5.5M1158.5 641.5l-0.5-3l-3.5-1.5M1133.5 583.5l5 6l0 1l-5 3M1151 608l-0.5-4.5l-4-1.5l-1 1l-1 6l2 1.5M1144.5 609l-4 0l-2-3.5l2.5-3l4.5 0.5M1138.5 605.5l-2.5-0.5l-2-6l5.5 0l1.5 3.5M1138.5 590.5l4.5 4l-3.5 4.5M1139 581.5l4 3l2.5 0l1.5-5l-2.5-3l-3-0.5l-2.5 5.5l-5 0.5M1138.5 589.5l4.5-5M1138.5 573l3 3M1150.5 578.5l-3.5 1M1155.5 584l-7 4.5l-3-4M1152.5 573l-1.5-3l-3.5 0.5l-3 6M1142.5 567.5l5 3M1152 544l3-2l6.5 5.5M1152 558.5l-3 4.5l2.5 5l6.5-2l-2-8.5l-4 1l-6-4M1143 563l6 0M1157 556.5l-1 1M1163.5 558l2 6l-4 4.5l-3.5-2.5M1151 570l0.5-2M1161.5 568.5l1.5 6M1094.5 628.5l3 0l4 5.5l3.5-5.5l4.5 3.5l-1.5 4M1094.5 622l4.5-2l2.5 5.5l-4 3M1114.5 633l-3.5-1.5l-1.5 0.5M1115.5 626l-3-0.5l-1.5 6M1101.5 625.5l3.5 1l0 2M1119 619.5l-4-2.5l0.5-5l4 0l3.5 3.5l0 2M1108 604l2.5 5.5l3.5 0.5l2.5-5M1121 605.5l1.5 2l-3 4.5M1114 610l1.5 2M1101.5 608l0.5 2l-4 5l-5-2M1110.5 609.5l-3.5 3.5l-5-3M1099 620l1-1.5l-2-3.5M1140.5 535.5l-4.5-1.5l-0.5-3l5.5-3.5l3 1.5l-0.5 5l-3 1.5l0.5 6.5M1132.5 537.5l3.5-3.5M1146.5 539.5l0.5-3l-3.5-2.5M1135.5 531l-2.5-2.5l-6.5 1l-0.5 2M1060.5 511.5l5-0.5l0.5-0.5M1052.5 516.5l-1.5-7.5l7.5 1M1047.5 509.5l3-1l0.5 0.5M1081.5 512.5l-3.5 4.5l3.5 5l3-1l1-8M1090.5 522l-2.5 0.5l-2 8l3.5 2M1088 522.5l-3.5-1.5M1064.5 530l2 0.5l3.5 6l-2 2.5M1076 541l-4.5-4.5l-1.5 0M1065.5 511l2 7l6-1l0-6.5M1062.5 522l4-2l1-2M1066.5 530.5l6.5-4.5l-6.5-6M1078 517l-3.5 0.5l-1-0.5M1188 625.5l-4.5 1.5M1173.5 636l-0.5-5l1.5-1l2 0M1183.5 639.5l-0.5-5.5M1184 609l-4 3l-3.5-3l-3 0l-1 0.5l0 8l3 5l4 0l2-3.5l0-2.5l-1-1l-8 2l-3 0.5l-1 6l4.5 2l2.5-3.5M1173 626l1.5 4M1181 626.5l-1.5-4M1188.5 623l-7-4M1188.5 615l-7 1.5M1180 612l0.5 3.5M1120 694.5l-2.5-6.5l-1.5-0.5l-3 3.5M1125.5 692l-2.5-6l-5.5 2M852 485.5l-9.5 2l1 7l7.5 0l1.5-8l-0.5-1l-0.5-6l-8-1.5M842.5 478.5l0 9l-8.5-1M860 487.5l-7.5-1M860.5 477l-8 1.5l-1 1M852 495.5l-1-1M843 495l0.5-0.5M851 427.5l-8 0.5l-1-9l9.5 2l-0.5 6.5l0.5 0.5M842.5 428.5l0.5-0.5M852 420l-0.5 1M842 418.5l0 0.5M889.5 455l-1-2M889 445l-0.5 0.5M879.5 453.5l0.5-0.5M1029.5 527l-3.5 4.5l-6.5-1.5l-0.5-0.5M1026 562.5l0.5-3l3-3l6 1M1059.5 484l-3.5-2l-4 1.5l-1 3l8.5 5l0.5-0.5M1032.5 463.5l5 3.5l0.5 2l-3 4l-5 0M1040.5 458l3.5 4.5l-6.5 4.5M1051.5 459.5l-0.5 0.5l-4.5 3l-2.5-0.5M1051 486.5l-1 1l-6-1.5l-1-4l5-3.5l4 5M1050 487.5l-1 3.5l-4.5 2.5M1041 491.5l0-2.5l3-3M1144.5 479l3 6.5l4-1l1-6.5l-3.5-3l-4.5 4l-2-0.5M1147 486.5l0.5-1M1148.5 470.5l0.5 4.5M1156 476.5l-3.5 1.5M1155 486l-3.5-1.5M1036.5 550l-2.5-2l0-3.5l3.5-2.5M1029.5 556.5l-0.5-5.5l5-3M853.5 468.5l-2 2l-7-0.5l1-7.5l7-1.5l1 1.5l0 6l8 3M852.5 478.5l-1-8M861.5 461l-8 1.5M843 471l1.5-1M852 453.5l0.5 7.5M842 459.5l3.5 3M1142.5 494.5l-0.5 7.5l-5-1M1130 491.5l-1 8M1120 506.5l6-1l2.5-3M1123.5 498l5 2M1126 505.5l2.5 5.5l-4.5 2l-4.5-5M1128.5 511l3.5 1l3-1.5l-1-4.5M1140.5 522l-2-1l0.5-8l4.5 1l2 6l-5 2l0.5 5.5M1142 502l1 1.5l0 1.5l-6 6l-2-0.5M1137 511l2 2M1143.5 514l5-4.5l-5.5-4.5M1211 522.5l-4 3.5l0 6l5.5 0.5M1203.5 540l-2 7l1 1.5l7 1l4-4l0-2.5l-10-3l-1-2l1-3.5l3.5-2.5M1216 540l-2.5 3M1209.5 549.5l0.5 5l5 2l3-6l-4.5-5M1210 554.5l-4.5 3.5l-3-2.5l0-7M1224 546l-3.5 4.5l-2.5 0M1225.5 556l-0.5 2.5l6 4.5l2.5-1.5l3-7l-5-3.5l-6 5l-5-5.5M1215 556.5l0 0.5l7.5 3l2.5-1.5M1230.5 547.5l1 3.5M1229.5 570.5l1.5-7.5M1228.5 571l-9-3l3-8M1241.5 553.5l-5 1M1240 565l-6.5-3.5M1182.5 604l-4.5 1l-1.5 4M1179 597.5l-2.5 3.5l1.5 4M1176 593.5l-5.5-5.5l-4.5 5.5l5 3l5-3l0.5 0M1170.5 585.5l0 2.5M1180 588l-4.5-4l-3.5 0M1164 593.5l2 0M1150.5 603.5l2.5-1.5M1251.5 549.5l-2-1M1259.5 541.5l-5-1M1240 540.5l5.5 0M1243 551l5.5-2.5M1242.5 525l2.5 2.5l-0.5 5.5l-5.5 1.5l-2.5-5.5l6-4l0-4M1251.5 527.5l-6.5 0M1232.5 523l4 6l-8 4M1248.5 536.5l-4-3.5M1238 537l1-2.5M1197.5 501.5l-5.5-3.5l0-5.5l7 0l-1.5 9l1 2l-4 8l2.5 4l6.5-5l-4.5-7l-0.5 0l-9.5 1.5l2 6l-3 3l-3.5-0.5l-1-2l1.5-6l2-1.5l2 1M1191 491.5l1 1M1183.5 495l4 6l4.5-3M1199.5 492l-0.5 0.5M1211 521.5l-4.5-4.5l0.5-5l0.5-0.5l6 1M1213.5 503l-4 1.5l-2 7M1207 495.5l-2 5.5l4.5 3.5M1158 497.5l1 4.5l-7 0.5l-3-3l0.5-4.5l3-0.5l5.5 3l3.5-5.5M1155.5 488.5l-3 6M1148.5 509.5l0.5 0l3-7M1143 503.5l6-4M1147 493l2.5 2M1160 503l5-1.5l3.5 1.5l0.5 6.5l-7 0.5l-2-1.5l0-5.5l-1-1M1166.5 496.5l-1.5 5M1169 509.5l2.5 2l-2 4.5l-6 0l-1.5-6M1171.5 511.5l3.5-0.5l0.5-1l1.5-6.5M1173.5 501.5l-5 1.5M891.5 346l-0.5 6.5l7.5 2l1.5-1l0.5-7.5l-2-1.5l-7 1.5l-2-1M889 354l2-1.5M898.5 337.5l0 7M898 360.5l0.5-6M907.5 345l-7 1M908 355l-8-1.5M1137.5 614l-5.5-6l-3-0.5l-1 1l0 2l2.5 5l6.5-1l0.5 0l0-0.5l3-5M1136 605l-4 3M1144 616.5l-6.5-2M1136.5 620.5l0.5-6M1129 618.5l1.5-3M1123 615.5l5-5M1128.5 601l0.5 6.5M1122.5 607.5l5.5 1M1155.5 629.5l2.5 0l2.5 7l-2.5 2M1163.5 644l0.5-7l-3.5-0.5M1171 639l-5.5-3l-1.5 1M1146.5 597.5l-3-3l5-5.5l4.5 5l0 1.5l-6.5 2l0 4.5M1143 594.5l0.5 0M1154 598l-1-2.5M1148.5 588.5l0 0.5M1157.5 591.5l-4.5 2.5M1161 598.5l1-0.5l1-4M1105 626.5l2-2l5.5 1l0-7.5l2.5-1M1055.5 501l-5 6l-4.5-7.5l7-3l1 0.5l1.5 4l4 1.5M1050.5 508.5l0-1.5M1059.5 491.5l-5.5 5.5M1049 491l4 5.5M1045.5 499l0.5 0.5M1074 525.5l-1 0.5l3 6.5l4.5 1.5l3-3l-4-6l-5.5 0.5l0.5-8M1081.5 522l-2 3M1071.5 536.5l4.5-4M1086 530.5l-2.5 0.5M1081 537l-0.5-3M1115.5 676.5l-3-3.5l-0.5-3l4-1.5l5 5.5l-0.5 1l-5 1.5l-0.5 2l-4.5 2l-1 3l6 3l1.5-4.5l-2-3.5M1116.5 668.5l-0.5 0M1125 670l-4 4M1110 668.5l2 1.5M1104 676l4.5 1l4-4M1107 685l2.5-1.5M1116 687.5l-0.5-1M1108.5 677l2 3.5M1128.5 683.5l-5 1.5l-2.5-3.5l1.5-4.5l4.5 1l1.5 5.5l1.5 0.5M1123 686l0.5-1M1129.5 675.5l-2.5 2.5M1117 682l4-0.5M1120.5 675l2 2M1024 539l3-5l5.5 1l-2.5 7l-1.5 0l-4.5-3l-1 0l-4-4.5l-5.5 3l0 1l1 2.5l5.5 2l3-4M1034 544.5l-4-2.5M1029 551l-4-2.5l3.5-6.5M1034.5 534l-2 1M1026 531.5l1 2.5M1019 555l-4-3l0-2.5l5.5-2.5l3 2l-2 5.5l-2.5 0.5l-2.5 6M1011 556l4-4M1026.5 559.5l-5-5M1025 548.5l-1.5 0.5M1009.5 547l2.5 0l3 2.5M1051 460l4.5 7l5 0l-0.5-5M1065 476.5l-3.5-2l-4 1l-1.5 6.5M1068.5 465.5l-7 2.5l0 6.5M1061.5 468l-1-1M1043.5 473l4.5 4.5l5-4l-0.5-1.5l-6-5l-3.5 5l0.5 1l-5 4.5l0 2.5l4.5 2M1048 478.5l0-1M1035 473l3.5 4.5M1038 469l5 3M1046.5 463l0 4M1055.5 467l-3 5M1057.5 475.5l-4.5-2M1035.5 486l0.5-4l-4-2l-5 3l-0.5 4l5.5 2l3.5-3l5.5 3M1038.5 480l-2.5 2M1033 493l-1-4M1024.5 488.5l2-1.5M1030 473.5l2 6.5M1023.5 478.5l3.5 4.5M1019.5 530l-0.5 4.5M1020.5 547l-0.5-4M1012 547l2.5-6M1010.5 532.5l3 5M1008 540l5.5-1.5M1132 512l-0.5 3.5l3.5 6l3.5-0.5M1133 528.5l0.5-5.5l1.5-1.5M1155 542l1.5-4.5l5-0.5l5.5 4.5l-5 6M1151 534l-3.5-5.5l2.5-3l6.5 3l-2 6.5l-3.5-1l-4 2.5M1144 529l3.5-0.5M1156.5 537.5l-2-2.5M1157.5 519.5l-8 1.5l-0.5-0.5l2-9.5l4.5 0.5l2 8l1 0.5l-0.5 7.5l-1.5 1M1150 525.5l-0.5-4.5M1163.5 516l-2.5 3.5l-2.5 0.5M1160 508.5l-4.5 3M1149 509.5l2 1.5M1145.5 520l3.5 0.5M1215 557l-2.5 6l6 5l1 0M1215.5 575l0-0.5l3-6.5M1193 542l3.5 6l-2 2.5l-7-0.5l-1.5-2l3-6l4 0l3-4l6.5 0M1201.5 547l-5 1M1194.5 550.5l1.5 6.5l6.5-1.5M1186 548l-6-0.5l-0.5 8.5l7.5 2.5l0.5-8.5M1196 538l-3-4l-4 0l-3 3l3 5M1203.5 579l-0.5-6.5l-5-1.5l-5 4l1 2.5M1215.5 574.5l-9.5-5l-3 3M1212.5 563l-5.5 1l-1 5.5M1205.5 558l0.5 5l1 1M1195.5 557.5l2.5 5.5l-2 3.5l-9-1l0.5-6l8-2l0.5-0.5M1206 563l-8 0M1187 558.5l0.5 1M1198 571l-2-4.5M1193 534l3-4.5l2.5 0l5 5M1207 526l-5.5-3l-3 6.5M1206.5 517l-6 4l1 2M1162 598l5.5 4l3.5-1l0-4.5M1176.5 601l-5 0.5l-0.5-0.5M1171.5 601.5l2 7.5M1167.5 602l-2 5M1158.5 615.5l2.5-0.5M1169.5 618l-5-2l-2.5 8l-5.5-3.5M1172.5 609.5l-5-0.5M1205 501l-6 2.5M1207 512l-3.5-1.5M1168 631l-1.5-5.5l-4.5-1l-2.5 4.5l7 3.5l1.5-1.5l5 0M1168.5 624l-2 1.5M1165.5 636l1-3.5M1158 629.5l1.5-0.5M1162 624l0 0.5M1107 613l-3.5 5.5l3 2.5l4.5-3l-4-5M1100 618.5l3.5 0M1112.5 618l-1.5 0M1107 624.5l-0.5-3.5M1126.5 518.5l0 4l-2 2.5l-5-1l0.5-7l3.5-1.5l3 3l5-3M1133.5 523l-7-0.5M1124 513l-0.5 2.5M1117 515.5l3 1.5M1119.5 524.5l0-0.5M1126.5 529.5l-2-4.5M1167 541.5l1.5-0.5l4 8l-2.5 4M1170 554l4.5 5l5-3M1180 547.5l-0.5-0.5l-7 2M1158 527.5l4.5 1.5l1 3l-2 5M1187 573l-1-2l-8.5 3.5l0 1l1.5 3.5l4 1.5l2.5-1.5l1.5-6l6 2M1187 565.5l-1 1l0 4.5M1191 583l-5.5-4M1183.5 585l-0.5-4.5M1175.5 584l3.5-5M1170.5 578l7-2.5M1172 570l3 0.5l4.5-5l-5-6l-4.5 5l2 5.5l-5.5 5M1177.5 574.5l-2.5-4M1165.5 564l4.5 0.5M1186 566.5l-6.5-1M1174.5 559l0 0.5M1194.5 511.5l-3.5-0.5M1178.5 503l6.5 2.5M1175.5 510l8 1.5M1187.5 501l-0.5 3M1161 519.5l6 4.5l4-4l-1.5-4M1162.5 529l4.5-5l6 7l3.5-5l6.5 1l-1.5 6.5l-8.5-2.5l-1 1.5l-8.5-0.5M1189 534l-0.5-5.5l3.5-3l6-6l-1-2.5l-6.5 1l-1.5 3l3 4.5l4 4M1200.5 521l-2.5-1.5M1197 515.5l0 1.5M1188 514l2.5 4M1171 520l5 1.5l2.5-2.5l-3.5-8M1189 521l-5 0.5l-0.5 5.5l5 1.5M1184.5 513.5l-3 5l2.5 3M1181.5 518.5l-3 0.5M1168.5 541l3.5-3l6.5 3l1 6M1172 538l0-5.5M1186 537l-2.5-0.5l-5 4.5M1176 521.5l0.5 4.5M1183.5 527l-0.5 0M1183.5 536.5l-2-3" fill="none" stroke="#000" stroke-opacity="0.42" stroke-width="0.65" stroke-linejoin="round"/>
<g fill="none" stroke="#111" stroke-width="1.3" stroke-linejoin="round" stroke-linecap="round">
<path d="M319 207L326 208L333 215L336.7 226.7L345 233L351.7 236L380 237.5L405 238L446.7 247.8"/>
<path d="M462 167L446.7 247.8"/>
<path d="M446.7 247.8L450 253L451.7 260L445 271.7L435 283L432 293L421 353"/>
<path d="M479 170.5L475.5 194.4L478 208L489 228L498 239L490 265.5L501 268L504.4 283L514.4 303L540 304.4L546.7 300L552 305.5"/>
<path d="M552 295.5L620 304L688 311.5"/>
<path d="M552 295.5L537.8 375.5L535.5 402"/>
<path d="M421 353L479 366.7L537.8 375.5"/>
<path d="M535.5 402L575.5 411L677.8 419"/>
<path d="M279 317.8L361 341L421 353"/>
<path d="M361 341L342 415.5L430 551.7"/>
<path d="M479 366.7L453.3 501.7"/>
<path d="M453.3 501.7L450 516.7L445 526.7L433 525L430 551.7"/>
<path d="M430 551.7L431.7 556.7L436.7 575L428 583L423 595L418 601.7L421.7 613L413 616"/>
<path d="M453.3 501.7L559.5 520"/>
<path d="M575.5 411L560 520"/>
<path d="M559.5 520L540 673"/>
<path d="M560 520L635 527.5L690 533L711 531.5"/>
<path d="M690 533L689 547.8L681 667"/>
<path d="M689 547.8L755.5 550"/>
<path d="M597.8 664.4L681 667"/>
<path d="M690 286.7L760 289L831 293"/>
<path d="M684.4 366.7L789 371L806.7 377.8L817.8 375.5L829 382L833 386.7"/>
<path d="M716.7 453L864.4 457.8"/>
<path d="M755.5 537.8L873 539"/>
<path d="M759 605L769 610L776.7 616.7L795.5 621L813 627.8L829 625.5L846.7 625.5L862 623L879 632"/>
<path d="M821 209L826.7 254.4L831 293L835.5 319L834.4 355L831 360L833 386.7L840 413L846.7 437.8L855.5 451L864.4 458L862 469L873 480L873 539L874.4 552L877.8 581L879 632L886.7 636.7L887.8 649L891 680L900 700L897.8 722L894.4 739"/>
<path d="M831 360L900 359L913 357"/>
<path d="M916.7 269L915.5 285.5L904.4 299L906.7 323L920 334.4L935.5 347.8L936 356L940 366L947 378L957 390L962 400L959 412L950 420L946 430L940 434.4L936.7 441"/>
<path d="M847.5 440L937 438"/>
<path d="M936.7 441L940 459L951 472L962 483L964.4 499L975.5 510L984.4 523L991 532L993 541L984.4 545.5L982 563L975.5 579L971 590L964.4 605.5L955.5 623L953 639L954.4 655L957.8 669L946.7 686.7L945.5 701L989 700L995.5 720"/>
<path d="M950 272L993 286.7L1002 303L1004 318"/>
<path d="M947 378L1008 375.5"/>
<path d="M1015.5 401L1021 464.4L1023 481L1015.5 507.8L1006.7 519L1006.7 527.8L993 532"/>
<path d="M1016.7 402L1071 394.4L1100 392"/>
<path d="M1071 394.4L1079 466.7"/>
<path d="M1015.5 507.8L1026.7 504.4L1051 499L1060 492L1069 479L1080 467.8L1095.5 470L1113 476.7L1126.7 474.4L1133 464L1144.4 453L1159 443L1160 413L1156.7 376.7"/>
<path d="M1127.8 479L1142 502L1115.5 531"/>
<path d="M874.4 552L971 547.8L970 562L981 561"/>
<path d="M887.8 649L953 646.7"/>
<path d="M971 590L1000 588L1075.5 583L1126.7 578"/>
<path d="M993 545.5L1015.5 546.7L1017.8 540L1115.5 531L1155.5 526.7L1279 505.5"/>
<path d="M1017.8 587.8L1016.7 664.4L1022 713"/>
<path d="M1075.5 583L1095.5 651L1097.8 664.4L1097 680L1104.4 695.5"/>
<path d="M1040 695.5L1097.8 690L1104.4 695.5L1169 693L1172 686.7L1184.4 685.5"/>
<path d="M1040 695.5L1045.5 713"/>
<path d="M1126.7 578L1133 589L1144.4 600L1155.5 611L1166.7 622L1177.8 633L1189 646.7"/>
<path d="M1104.4 576.7L1109 566.7L1124.4 557.8L1133 549L1144 540L1155.5 526.7"/>
<path d="M1126.7 578L1144.4 566.7L1175.5 564.4L1180 570L1204.4 567.8L1235.5 589"/>
<path d="M1142 502L1153 506.7L1166.7 502L1177.8 495.5L1184.4 486.7L1193 469L1204.4 455.5L1211 435.5L1222 440L1229 437.8L1233 443L1242 446.7L1251 455.5L1255.5 469L1264 472"/>
<path d="M1163 435.5L1189 431L1264.4 417.8"/>
<path d="M1189 431L1189 446.7L1200 440L1211 435.5"/>
<path d="M1264.4 417.8L1272 451L1286.7 449"/>
<path d="M1170 366.7L1171 372L1257.8 356L1273 370L1293 378"/>
<path d="M1273 370L1270 386.7L1280 402L1266.7 415.5L1270 418"/>
<path d="M1279 265.5L1284.4 301L1290 305.5L1294.4 325.5L1296.7 345.5L1293 363L1297 370"/>
<path d="M1312 257.8L1314.4 270L1309 287.8L1306.7 321"/>
<path d="M1320 246.7L1335.5 296.7L1342 303"/>
<path d="M1294.4 325.5L1307.8 321L1335.5 312L1342 310"/>
<path d="M1296.7 345.5L1329 337.8L1337.8 336.7L1342 346"/>
<path d="M1329 337.8L1333 355.5"/>
<path d="M1276 465.5L1283.3 462.6"/>
</g>
</g>
<path d="M360 141L395 150L429 160L462 167L479 170.5L513 178L558 186.7L602 193.3L647 199L694 202.5L760 207L821 209L858 209L859 200L864.5 201L865.5 214.5L873 218L891 220L898 218L915.5 223L935.5 232L938 228L951 231L962 232L949 243L933 256.7L918 269L924 266L934 263.5L940 262L941 270.5L945 266L949 272L957 266.7L969 260L980 252L985 246.7L990 244L993.5 243L997 244.7L993 249L989 254.7L986.7 260L993 258.7L1001 264L1010.7 270.7L1017 268L1028 262.7L1046.7 258L1050.7 258.7L1050.7 264L1066.7 262.7L1069 270.7L1080 273L1080.7 275L1070.7 276L1060 278.7L1057 280.5L1046.7 277L1033 281L1026.7 285L1022 289.5L1018 288L1015 294.7L1010.7 300L1005 308L1000 320L999 323L1003 321L1006.7 316L1013 306L1019 296L1021 298L1015 308L1009.6 325.5L1006 339.8L1004.3 358.7L1007.8 373L1009.6 387L1014.4 397.8L1020.3 402L1028.6 397.8L1034.5 389.5L1038 380L1039 367L1035.7 356.4L1032 346.9L1029.8 337.4L1031 325.5L1032 317L1034.7 306.7L1041.6 301.5L1043 304L1044 311L1047.5 310L1048 300L1052 294.7L1053 286.7L1060 282.7L1073 285L1083 290L1089 300.7L1086.6 304L1090 313.7L1089 323L1085.5 329L1080.7 333.8L1084.3 339.8L1089 337.4L1092.6 330.3L1099.7 325.5L1104.4 329L1109 343.3L1112.7 356.4L1111.5 365.8L1105.6 373L1100.9 382.4L1098.5 390.7L1100 393L1109 395.5L1117.4 397.8L1128 393L1140 384.8L1155.5 375.5L1170 366.7L1177.8 354.4L1184.4 343L1179 336.7L1191 332L1213 330L1231 321L1240 312L1233 305.5L1226.7 301L1233 292L1251 274.4L1277.8 265.5L1312 257.8L1313 250L1320 246.7L1324.4 239L1327.8 216.7L1330 203L1337.8 181L1341 180L1342 185.5L1355.5 177.8L1364.4 180L1375.5 219L1384.4 220L1387.8 227.8L1395.5 230L1399 236.7L1391 245.5L1380 256.7L1369 265.5L1357.8 274.4L1349 283L1345.5 296.7L1342 303L1346.7 314.4L1342 323L1346.7 327.8L1353 334.4L1364.4 336.7L1361 328L1367 332L1370 345.5L1355.5 347.8L1349 343L1342 350L1335.5 354.4L1313 363L1297.8 370L1293 377.8L1293.7 384L1296 394.4L1295 409L1290.7 424L1286.3 434.4L1284.8 430L1279 428.5L1273 428.5L1268.5 422.6L1273 430L1276 439L1281.9 444.8L1284.8 450.7L1285.6 456.7L1283.3 465.6L1278.9 471.5L1275.9 483L1274.4 489L1273 483L1273 476L1270 468.5L1265.6 459.6L1259.6 453.7L1258 444.8L1258 436L1257.4 430L1256 427L1254.4 433L1255 444.8L1259.6 456.7L1263.3 467L1265.6 477.4L1267 486.3L1265.6 492L1270 493.5L1275 495L1278.8 504L1282 515L1275 518L1266.8 521.6L1276 523L1284 526L1287.5 530L1280 539L1273.4 549.8L1280 552L1275.5 558.5L1266.7 565L1255.5 573L1249 584.4L1235.5 589L1226.7 602L1222 615.5L1213 624.4L1200 635.5L1193 644.4L1189 655.5L1186.7 669L1184.4 684.4L1189 702L1200 724.4L1215.5 742L1213 751L1222 764.4L1231 777.8L1235.5 791L1236.7 809L1235.5 822L1231 831L1220 833L1214.4 832L1211 822L1206.7 816.7L1197.8 815.5L1191 804.4L1184.4 800L1182 791L1175.5 784.4L1171 777.8L1167.8 773L1170 766L1164.4 769L1163 757.8L1164.4 746.7L1160 735.5L1153 729L1142 719L1131 712L1120 713L1111 720L1097.8 723L1093 717.8L1077.8 713L1055.5 711L1044.4 713L1035.5 715.5L1033 705.5L1029 713L1022 713L1011 715.5L997.8 720L993 724.4L1000 729L997.8 737.8L1009 749L991 744.4L980 746.7L971 752L957.8 746.7L955.5 737.8L944.4 740L940 735.5L931 739L913 735.5L895.5 737.8L889 740L875.5 742L869 746.7L855.5 757.8L837.8 769L829 771L820 782L811 795.5L806.7 809L806.7 822L813 839L809 842L797.8 837.8L784.4 835.5L777.8 830L766.7 824.4L762 817.8L755.5 802L746.7 786.7L735.5 769L724.4 751L713 737.8L706.7 732L697.8 729L686.7 729L677.8 733L662 737.8L651 733L640 720L633 704.4L622 693L606.7 677.8L597.8 664.4L559 665.5L559 674.4L540 673L506.7 669L489 662L413 616L385 610L361.7 607L360 590L355 578L348 570L341.7 568L340 563L333 558L330 555L321.7 545L311.7 540L298 533L296.7 513L290 498L283 476.7L285 470L280 449L282 435.5L275.5 422L273 404.4L266.7 369L264.4 353L273 335.5L279 317.8L280 302L284.4 280L291 282L303 263L312 230L317 210L317.5 203L321 185L322 162L322 146L330 152L340 158L349 162L350 168L348.5 176L349 184L352 181L354.5 172L354 162L358 150Z M1292 384L1296.7 376.7L1308 373L1319 369L1324.8 363.5L1332 362.6L1332.5 364.8L1319 373.7L1307 381L1295 387L1292 387Z" fill="none" stroke="#444" stroke-opacity="0.55" stroke-width="0.7"/>
<path d="M351 146.5L355 145L357 148L355 151.5L352 150.5Z" fill="#3a5a28" />
<path d="M356.5 160L359.5 158L360.5 165L358.5 171L356 168Z" fill="#3a5a28" />
<path d="M348 174L351.5 172L352.5 178L350 183L347.5 181Z" fill="#3a5a28" />
<path d="M299 552.5L303 552L304.5 554L300.5 555Z" fill="#c98a55" />
<path d="M308 553L314 553L315.5 555.5L310 556Z" fill="#c98a55" />
<path d="M334.5 575L336.5 575L338.5 580.5L336.5 581Z" fill="#c98a55" />
<path d="M331.5 587L333.5 587L335 593.5L333 593.5Z" fill="#c98a55" />
<path d="M978 720.5L983 718.5L989 719.5L990 723L985.5 725.5L979.5 725Z" fill="#fff" />
<path d="M1284 516L1292 529L1291.5 538L1281 549" fill="none" stroke="#777" stroke-width="0.7"/>
<path d="M814.5 837Q806 806 838 768" fill="none" stroke="#777" stroke-width="0.7"/>
<path d="M969 234L975 229L982.7 225L983.3 227L976 232L970 236Z" fill="#7030a0" />
<path d="M1201 852L1207 848L1213 845L1213.5 847L1206 852Z" fill="#d936fb" />
<path d="M1237.5 820Q1236 838 1214 846" fill="none" stroke="#888" stroke-width="0.8" stroke-dasharray="5 2"/>
<g fill="none" stroke="#000" stroke-width="4.6" stroke-linejoin="round" stroke-linecap="round">
<path d="M395 150L395 161L388 162.5L387 172L382.5 174L381 183L373 188L372 197L367.5 205L366.7 213L351 214L346.7 232L351.7 236L353 247L349 253L345 272L341 280L333 286.7L333 297.8L325.5 302L319 326.7L293 321L289 329L291 342L280 369L279 373L289 377.8L287.8 386.7L280 393L284.4 411L291 411L293 424.4L286.7 431L289 442L302 449L305 470L310 480L311.7 486.7L308 491.7L313 500L315 510L321.7 520L325 530L336.7 536.7L340 543L340 553L333 557"/>
<path d="M694.4 202L691 263L687.8 310L684 355L677.8 418L717.8 422L711 531L755.5 537L755.5 585.5L759 605.5L769 610L776.7 616.7L776.7 639L775.5 647L770 650L767.8 673L772 689L774.4 713L766.7 716.7L766.7 724.4L775.5 729L775.5 804.4L769 809L770 820L765.5 823"/>
</g>
<path d="M500 680L504.4 682L511 687.8L524.4 686.7L537.8 690L562 685.5L575.5 690L580 705.5L609 801L602 791L593 783L571 783L564.4 780L553 785.5L531 795.5L529 803L506.7 805.5L477.8 809L457.8 814.4L449 821L443 812L446.7 803L455.5 792L466.7 790L475.5 785.5L477.8 774.4L472 770L455.5 772L446.7 767.8L437.8 754.4L451 745.5L460 745.5L462 754.4L473 752L477.8 745.5L466.7 739L462 732L453 719L453 712L466.7 707.8L475.5 696.7L493 685.5Z" fill="#7f7f7f" stroke="#333" stroke-width="0.5"/>
<path d="M609 801L602 791L593 783L571 783L564.4 780L553 785.5L531 795.5L529 803L506.7 805.5L477.8 809L457.8 814.4L449 821L447.8 823L453 834.4L462 834.4L471 843L473 852L484.4 845.5L491 854.4L497.8 847.8L506 850L504.4 856L497.8 870L489 879L478 888L466.7 895L475.5 892L484.4 887.8L495.5 883L504.4 876.7L515.5 870L524.4 856.7L531 850L529 845.5L535.5 832L542 819L549 814.4L545 822L542 825.5L544.4 834.4L555.5 832L564.4 825.5L571 814.4L584.4 819L597.8 819L613 816.7L624.4 821L642 825.5L640 821L626.7 814.4L622 809L611 812Z" fill="#7030a0" stroke="#333" stroke-width="0.5"/>
<clipPath id="ak"><path d="M500 680L504.4 682L511 687.8L524.4 686.7L537.8 690L562 685.5L575.5 690L580 705.5L609 801L602 791L593 783L571 783L564.4 780L553 785.5L531 795.5L529 803L506.7 805.5L477.8 809L457.8 814.4L449 821L443 812L446.7 803L455.5 792L466.7 790L475.5 785.5L477.8 774.4L472 770L455.5 772L446.7 767.8L437.8 754.4L451 745.5L460 745.5L462 754.4L473 752L477.8 745.5L466.7 739L462 732L453 719L453 712L466.7 707.8L475.5 696.7L493 685.5Z M609 801L602 791L593 783L571 783L564.4 780L553 785.5L531 795.5L529 803L506.7 805.5L477.8 809L457.8 814.4L449 821L447.8 823L453 834.4L462 834.4L471 843L473 852L484.4 845.5L491 854.4L497.8 847.8L506 850L504.4 856L497.8 870L489 879L478 888L466.7 895L475.5 892L484.4 887.8L495.5 883L504.4 876.7L515.5 870L524.4 856.7L531 850L529 845.5L535.5 832L542 819L549 814.4L545 822L542 825.5L544.4 834.4L555.5 832L564.4 825.5L571 814.4L584.4 819L597.8 819L613 816.7L624.4 821L642 825.5L640 821L626.7 814.4L622 809L611 812Z"/></clipPath>
<path clip-path="url(#ak)" d="M453 745.5L466 745L490 740L524 737L556 724L578 700M466 745L473 752M462 754L466 770L472 770M508 741L513 757L497 768L487 772L485 790L478 809M513 757L519 757L524 752M551 772L556 766L566 762L573 770L583 757M551 772L556 781L563 781M531 795L533 779L541 772L551 772M571 783L564 766M506 805L507 790M529 803L529 830M507 805L497 826L489 840M515 820L529 818L541 820M556 805L571 806L590 800M571 806L571 814" fill="none" stroke="#222" stroke-opacity="0.6" stroke-width="0.6"/>
<path d="M433 830L441 827.8L444.4 832L440 834.5L435 833Z" fill="#7030a0" stroke="#333" stroke-width="0.4"/>
<path d="M411 777.8L415 781L422 780L429 785.5L424.5 786.5L413 783Z" fill="#7f7f7f" stroke="#333" stroke-width="0.4"/>
<path d="M524.4 867.8L533 859L540 852L542 863L535.5 872L529 875.5Z" fill="#2068b4" stroke="#333" stroke-width="0.4"/>
<path d="M641.8 825.6L648 811.3L651.6 807.3L655 809L657.8 813L664 815L671 819.3L680 827.3L688.9 835.3L694.2 838L701.3 838.4L697.8 844.2L695 848.7L691.6 846.9L688.9 843.3L685.3 845L680 846.9L680.9 852L678 848.7L674.7 843.3L673.8 838L671 835.3L667.6 831.8L662 829L656.9 830L653.3 832.7L649.8 829L646 828Z" fill="#2068b4" stroke="#333" stroke-width="0.4"/>
<path d="M657.8 832.7L665.8 833.6L671 841.6L675.6 851.3L670 846.9L664 843.3L661.3 838Z" fill="#30a330" stroke="#333" stroke-width="0.4"/>
<path d="M683.6 845L690.7 846.9L697.8 852L703 859.3L697.8 864.7L690.7 860L685.3 855.8L684.4 850.4Z" fill="#30a330" stroke="#333" stroke-width="0.4"/>
<path d="M697.8 844.2L702 838.4L709.3 838.9L714.7 847.8L712.9 855.8L706.7 857.6L700.4 852L696.9 848.7Z" fill="#30a330" stroke="#333" stroke-width="0.4"/>
<path d="M466 895L462 899L454 903L447 906L449 902L458 897Z" fill="#7030a0" stroke="#333" stroke-width="0.4"/>
<path d="M444 908L436 912L428 916L430 912L438 908Z" fill="#7030a0" stroke="#333" stroke-width="0.4"/>
<path d="M425 918L416 922L408 925L410 921L419 917Z" fill="#7030a0" stroke="#333" stroke-width="0.4"/>
<path d="M400 925L392 928L384 928L388 925Z" fill="#7030a0" stroke="#333" stroke-width="0.4"/>
<path d="M372 927L364 929.5L358 928L365 926Z" fill="#7030a0" stroke="#333" stroke-width="0.4"/>
<path d="M345 926L338 928L334 926L340 924.5Z" fill="#7030a0" stroke="#333" stroke-width="0.4"/>
<path d="M326 925L321 926.5L318 925L322 923.5Z" fill="#7030a0" stroke="#333" stroke-width="0.4"/>
<path d="M208 644L211 641.5L213 643L210 646Z" fill="#d936fb" stroke="#555" stroke-width="0.4"/>
<path d="M221 639L224 634.5L230 633.5L235.5 636L236 641L231 645L224 644Z" fill="#d936fb" stroke="#555" stroke-width="0.4"/>
<path d="M267 652L271 649L276 649.5L280 653L285.5 659L284 662L277 660.5L271 658Z" fill="#d936fb" stroke="#555" stroke-width="0.4"/>
<path d="M297 663L303 662L309 662.5L314 663.5L311 666L303 666.5Z" fill="#d936fb" stroke="#555" stroke-width="0.4"/>
<path d="M306 671L310 670L312 674L308 676Z" fill="#d936fb" stroke="#555" stroke-width="0.4"/>
<path d="M316 670L320 667L324 669.5L328 668.5L334 671L337.5 675L335 679.5L329 680.5L323 676L318 674Z" fill="#d936fb" stroke="#555" stroke-width="0.4"/>
<path d="M317 682L321 681L322 683.5L318 684.5Z" fill="#d936fb" stroke="#555" stroke-width="0.4"/>
<path d="M342.6 690.6L350 691L357.7 694L367.8 700.7L376 710.7L371 716L364 720L358 727L354.4 731.5L347.7 729L345 720L342.6 710.7L341 697Z" fill="#d936fb" stroke="#555" stroke-width="0.4"/>
<g stroke="#000" stroke-width="1.6" fill="none">
<path d="M396 55.5V150M695 55.5V202"/>
<path d="M318 81H385M408 81H682M706 81H1380" stroke-width="2"/>
</g>
<path d="M307 81L317.7 76L317.7 86Z" fill="#000"/>
<path d="M395.2 81L384.5 76L384.5 86Z" fill="#000"/>
<path d="M396.8 81L407.5 76L407.5 86Z" fill="#000"/>
<path d="M694.2 81L683.5 76L683.5 86Z" fill="#000"/>
<path d="M695.8 81L706.5 76L706.5 86Z" fill="#000"/>
<path d="M1390 81L1379.3 76L1379.3 86Z" fill="#000"/>
<g stroke="#000" stroke-width="0.3">
<text x="247" y="128.6" font-size="26.6" font-weight="normal" text-anchor="start" textLength="127.5" lengthAdjust="spacingAndGlyphs">Marine (C)</text>
<text x="508" y="128.6" font-size="26.6" font-weight="normal" text-anchor="start" textLength="83" lengthAdjust="spacingAndGlyphs">Dry (B)</text>
<text x="933" y="134.2" font-size="26.6" font-weight="normal" text-anchor="start" textLength="111" lengthAdjust="spacingAndGlyphs">Moist (A)</text>
</g>
<g stroke="#000" stroke-width="0.45">
<text x="234.2" y="166.6" font-size="32.8" font-weight="normal" text-anchor="start" textLength="37.5" lengthAdjust="spacingAndGlyphs">5C</text>
<text x="230.2" y="275.3" font-size="32.8" font-weight="normal" text-anchor="start" textLength="37.8" lengthAdjust="spacingAndGlyphs">4C</text>
<text x="210" y="510.3" font-size="32.8" font-weight="normal" text-anchor="start" textLength="37" lengthAdjust="spacingAndGlyphs">3C</text>
<text x="577.5" y="267.2" font-size="32.8" font-weight="normal" text-anchor="start" textLength="37" lengthAdjust="spacingAndGlyphs">6B</text>
<text x="447.6" y="421.4" font-size="32.8" font-weight="normal" text-anchor="start" textLength="37.5" lengthAdjust="spacingAndGlyphs">5B</text>
<text x="447.6" y="622.8" font-size="32.8" font-weight="normal" text-anchor="start" textLength="36" lengthAdjust="spacingAndGlyphs">2B</text>
<text x="681.5" y="583.8" font-size="32.8" font-weight="normal" text-anchor="start" textLength="37" lengthAdjust="spacingAndGlyphs">4B</text>
<text x="651" y="678.8" font-size="32.8" font-weight="normal" text-anchor="start" textLength="37" lengthAdjust="spacingAndGlyphs">3B</text>
<text x="873" y="261.5" font-size="32.8" font-weight="normal" text-anchor="start" textLength="14" lengthAdjust="spacingAndGlyphs">7</text>
<text x="790.7" y="325.3" font-size="32.8" font-weight="normal" text-anchor="start" textLength="37" lengthAdjust="spacingAndGlyphs">6A</text>
<text x="880.7" y="419.3" font-size="32.8" font-weight="normal" text-anchor="start" textLength="38.3" lengthAdjust="spacingAndGlyphs">5A</text>
<text x="819" y="512.2" font-size="32.8" font-weight="normal" text-anchor="start" textLength="38" lengthAdjust="spacingAndGlyphs">4A</text>
<text x="988" y="635.7" font-size="32.8" font-weight="normal" text-anchor="start" textLength="37.6" lengthAdjust="spacingAndGlyphs">3A</text>
<text x="813.6" y="712.8" font-size="32.8" font-weight="normal" text-anchor="start" textLength="38.2" lengthAdjust="spacingAndGlyphs">2A</text>
<text x="1259.5" y="803.6" font-size="32.8" font-weight="normal" text-anchor="start" textLength="37.5" lengthAdjust="spacingAndGlyphs">1A</text>
<text x="224" y="714" font-size="32.8" font-weight="normal" text-anchor="start" textLength="37.5" lengthAdjust="spacingAndGlyphs">1A</text>
<text x="512" y="761.8" font-size="32.8" font-weight="normal" text-anchor="start" textLength="16.5" lengthAdjust="spacingAndGlyphs">8</text>
<text x="583.5" y="851.8" font-size="32.8" font-weight="normal" text-anchor="start" textLength="14" lengthAdjust="spacingAndGlyphs">7</text>
</g>
<g stroke="#000" stroke-width="2.3">
<path d="M274 153.9L325.8 153.9"/>
<path d="M274 260.8L314 260.8"/>
<path d="M250 494.2L300.7 494.2"/>
<path d="M280.5 706.6L347.7 706.6"/>
<path d="M1229 793.9L1254.8 793.9"/>
<path d="M511 840.4L577.8 840.4"/>
</g>
<text x="1320" y="407.6" font-size="19.5" font-weight="bold" text-anchor="start" textLength="179.5" lengthAdjust="spacingAndGlyphs">IECC Climate Zones</text>
<rect x="1320.5" y="437.4" width="20.5" height="20.5" fill="#d936fb" stroke="#000" stroke-opacity="0.6" stroke-width="1"/>
<text x="1355.7" y="453.2" font-size="17.4" font-weight="normal" text-anchor="start">1A Very Hot Humid</text>
<rect x="1320.5" y="467" width="20.5" height="20.5" fill="#ff0d0d" stroke="#000" stroke-opacity="0.6" stroke-width="1"/>
<text x="1355.7" y="482.8" font-size="17.4" font-weight="normal" text-anchor="start">2A Hot Humid</text>
<rect x="1320.5" y="496.7" width="20.5" height="20.5" fill="#fb6330" stroke="#000" stroke-opacity="0.6" stroke-width="1"/>
<text x="1355.7" y="512.5" font-size="17.4" font-weight="normal" text-anchor="start">2B Hot Dry</text>
<rect x="1320.5" y="526.3" width="20.5" height="20.5" fill="#c45f20" stroke="#000" stroke-opacity="0.6" stroke-width="1"/>
<text x="1355.7" y="542.1" font-size="17.4" font-weight="normal" text-anchor="start">3A Warm Humid</text>
<rect x="1320.5" y="556" width="20.5" height="20.5" fill="#fd9c52" stroke="#000" stroke-opacity="0.6" stroke-width="1"/>
<text x="1355.7" y="571.8" font-size="17.4" font-weight="normal" text-anchor="start">3B Warm Dry</text>
<rect x="1320.5" y="585.6" width="20.5" height="20.5" fill="#ff7a0a" stroke="#000" stroke-opacity="0.6" stroke-width="1"/>
<text x="1355.7" y="601.4" font-size="17.4" font-weight="normal" text-anchor="start">3C Warm Marine</text>
<rect x="1320.5" y="615.2" width="20.5" height="20.5" fill="#ffff0a" stroke="#000" stroke-opacity="0.6" stroke-width="1"/>
<text x="1355.7" y="631" font-size="17.4" font-weight="normal" text-anchor="start">4A Mixed Humid</text>
<rect x="1320.5" y="644.9" width="20.5" height="20.5" fill="#f8faa6" stroke="#000" stroke-opacity="0.6" stroke-width="1"/>
<text x="1355.7" y="660.7" font-size="17.4" font-weight="normal" text-anchor="start">4B Mixed Dry</text>
<rect x="1320.5" y="674.5" width="20.5" height="20.5" fill="#fdd571" stroke="#000" stroke-opacity="0.6" stroke-width="1"/>
<text x="1355.7" y="690.3" font-size="17.4" font-weight="normal" text-anchor="start">4C Mixed Marine</text>
<rect x="1320.5" y="704.2" width="20.5" height="20.5" fill="#30a330" stroke="#000" stroke-opacity="0.6" stroke-width="1"/>
<text x="1355.7" y="720" font-size="17.4" font-weight="normal" text-anchor="start">5A Cool Humid</text>
<rect x="1320.5" y="733.8" width="20.5" height="20.5" fill="#a9d18e" stroke="#000" stroke-opacity="0.6" stroke-width="1"/>
<text x="1355.7" y="749.6" font-size="17.4" font-weight="normal" text-anchor="start">5B Cold Dry</text>
<rect x="1320.5" y="763.4" width="20.5" height="20.5" fill="#3a5a28" stroke="#000" stroke-opacity="0.6" stroke-width="1"/>
<text x="1355.7" y="779.2" font-size="17.4" font-weight="normal" text-anchor="start">5C Cool Marine</text>
<rect x="1320.5" y="793.1" width="20.5" height="20.5" fill="#2068b4" stroke="#000" stroke-opacity="0.6" stroke-width="1"/>
<text x="1355.7" y="808.9" font-size="17.4" font-weight="normal" text-anchor="start">6A Cold Humid</text>
<rect x="1320.5" y="822.7" width="20.5" height="20.5" fill="#8faadc" stroke="#000" stroke-opacity="0.6" stroke-width="1"/>
<text x="1355.7" y="838.5" font-size="17.4" font-weight="normal" text-anchor="start">6B Cold Dry</text>
<rect x="1320.5" y="852.4" width="20.5" height="20.5" fill="#7030a0" stroke="#000" stroke-opacity="0.6" stroke-width="1"/>
<text x="1355.7" y="868.2" font-size="17.4" font-weight="normal" text-anchor="start">7 Very Cold</text>
<rect x="1320.5" y="882" width="20.5" height="20.5" fill="#7f7f7f" stroke="#000" stroke-opacity="0.6" stroke-width="1"/>
<text x="1355.7" y="897.8" font-size="17.4" font-weight="normal" text-anchor="start">8 Subarctic/Arctic</text>
</svg></body></html>
